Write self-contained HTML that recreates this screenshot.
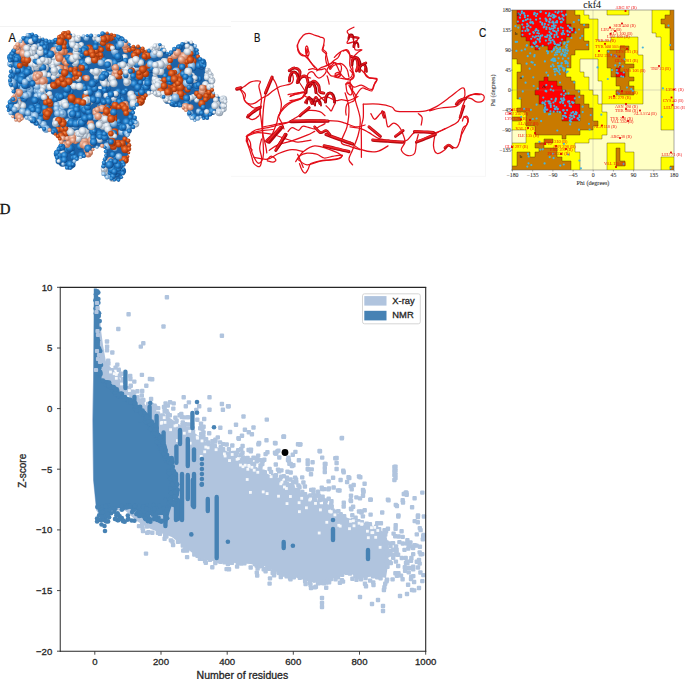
<!DOCTYPE html>
<html><head><meta charset="utf-8"><style>
html,body{margin:0;padding:0;background:#fff;}
body{width:685px;height:679px;position:relative;overflow:hidden;}
.abs{position:absolute;left:0;top:0;}
</style></head><body>
<svg class="abs" width="685" height="679" viewBox="0 0 685 679"><defs><filter id="soft" x="-5%" y="-5%" width="110%" height="110%"><feGaussianBlur stdDeviation="0.4"/></filter></defs><g filter="url(#soft)"><defs><radialGradient id="gB" cx="0.4" cy="0.38" r="0.62"><stop offset="0" stop-color="#6ab4ec"/><stop offset="0.45" stop-color="#2380cc"/><stop offset="1" stop-color="#0e4c8e"/></radialGradient><radialGradient id="gL" cx="0.4" cy="0.38" r="0.62"><stop offset="0" stop-color="#e0f0fc"/><stop offset="0.45" stop-color="#94c2ea"/><stop offset="1" stop-color="#5086b8"/></radialGradient><radialGradient id="gW" cx="0.4" cy="0.38" r="0.62"><stop offset="0" stop-color="#ffffff"/><stop offset="0.45" stop-color="#dae4ee"/><stop offset="1" stop-color="#8a98a8"/></radialGradient><radialGradient id="gP" cx="0.4" cy="0.38" r="0.62"><stop offset="0" stop-color="#fbe0d2"/><stop offset="0.45" stop-color="#e7a286"/><stop offset="1" stop-color="#b86a4c"/></radialGradient><radialGradient id="gS" cx="0.4" cy="0.38" r="0.62"><stop offset="0" stop-color="#f8c8b0"/><stop offset="0.45" stop-color="#e58a62"/><stop offset="1" stop-color="#b25a36"/></radialGradient><radialGradient id="gO" cx="0.4" cy="0.38" r="0.62"><stop offset="0" stop-color="#f59050"/><stop offset="0.45" stop-color="#d6521a"/><stop offset="1" stop-color="#9a3208"/></radialGradient><clipPath id="clipA"><polygon points="10.4,58.2 16.1,45.9 19,43 24.7,36.4 30.4,33.5 38,36.4 44.6,40.2 51.2,42.1 57,39.2 60.7,34.5 65.5,31.6 71.2,33.5 75.9,37.3 81.6,36.4 89.2,35.4 96.8,36.4 104.4,32.6 110,33.5 115.8,36.4 121.4,38.3 127.1,42.1 131.1,46.5 140.3,46.5 144.9,50.3 148,51.9 152.6,47.3 157.2,44.2 162.6,45 164.9,51.9 169.5,54.9 172.5,50.3 176.2,47.7 180.6,46 184,42.4 188.5,41.5 193.9,43.3 196.5,48.6 198.3,58.3 201.8,60 205.3,68 208.9,71.6 211.5,75 212.4,84 211.5,88.4 214.2,94.5 219.5,96.8 224.8,99.4 226,103.9 224.8,108.3 221.2,112.7 216.8,112.7 211.5,111.8 208.9,117 205.3,118.9 201.8,118 199.2,116.2 196.5,120.6 193,120.6 191.2,115.3 187.7,111 184.1,109.2 182.4,105.6 178.8,105.6 173.5,104.7 170.7,102.7 165.4,99.1 161.8,94.7 156.5,93.8 150.3,92 144.2,96.5 141.5,102.7 135.3,105.3 132.7,110.6 133.5,115 136.2,120.3 135.3,124.8 130.9,129.2 127.4,132.7 127.4,138 129.1,143.3 129,150.9 127.6,158.2 124,162.6 123.2,171.3 121,179.3 115.9,180.8 110,177.9 104.2,176.4 102.8,171.3 104.2,161 106.4,153.8 104.2,145 99.9,146.5 94,148 89.6,153.8 82.3,156.7 75,159.6 72.1,166.2 68.5,169.9 65.5,165.5 60.4,162.6 56.8,159.6 57.5,150.9 61.9,143.6 59,137 56.5,135.4 51.8,130.6 47.1,129.5 41.2,128.3 35.3,122.4 29.4,117.7 23.6,117.7 17.7,121.2 14.1,118.9 11.8,114.2 7.1,109.4 8.2,103.6 14.7,97.7 14.1,93 11.8,87 10,82.4 10.4,74.3 11.4,68.6 9.5,63"/></clipPath></defs><polygon fill="#1c64a8" points="10.4,58.2 16.1,45.9 19,43 24.7,36.4 30.4,33.5 38,36.4 44.6,40.2 51.2,42.1 57,39.2 60.7,34.5 65.5,31.6 71.2,33.5 75.9,37.3 81.6,36.4 89.2,35.4 96.8,36.4 104.4,32.6 110,33.5 115.8,36.4 121.4,38.3 127.1,42.1 131.1,46.5 140.3,46.5 144.9,50.3 148,51.9 152.6,47.3 157.2,44.2 162.6,45 164.9,51.9 169.5,54.9 172.5,50.3 176.2,47.7 180.6,46 184,42.4 188.5,41.5 193.9,43.3 196.5,48.6 198.3,58.3 201.8,60 205.3,68 208.9,71.6 211.5,75 212.4,84 211.5,88.4 214.2,94.5 219.5,96.8 224.8,99.4 226,103.9 224.8,108.3 221.2,112.7 216.8,112.7 211.5,111.8 208.9,117 205.3,118.9 201.8,118 199.2,116.2 196.5,120.6 193,120.6 191.2,115.3 187.7,111 184.1,109.2 182.4,105.6 178.8,105.6 173.5,104.7 170.7,102.7 165.4,99.1 161.8,94.7 156.5,93.8 150.3,92 144.2,96.5 141.5,102.7 135.3,105.3 132.7,110.6 133.5,115 136.2,120.3 135.3,124.8 130.9,129.2 127.4,132.7 127.4,138 129.1,143.3 129,150.9 127.6,158.2 124,162.6 123.2,171.3 121,179.3 115.9,180.8 110,177.9 104.2,176.4 102.8,171.3 104.2,161 106.4,153.8 104.2,145 99.9,146.5 94,148 89.6,153.8 82.3,156.7 75,159.6 72.1,166.2 68.5,169.9 65.5,165.5 60.4,162.6 56.8,159.6 57.5,150.9 61.9,143.6 59,137 56.5,135.4 51.8,130.6 47.1,129.5 41.2,128.3 35.3,122.4 29.4,117.7 23.6,117.7 17.7,121.2 14.1,118.9 11.8,114.2 7.1,109.4 8.2,103.6 14.7,97.7 14.1,93 11.8,87 10,82.4 10.4,74.3 11.4,68.6 9.5,63"/><g><circle cx="107.4" cy="88.7" r="3.2" fill="url(#gB)"/><circle cx="26.6" cy="64.5" r="2.4" fill="url(#gO)"/><circle cx="111.1" cy="77.5" r="3.6" fill="url(#gW)"/><circle cx="114.7" cy="106" r="3.9" fill="url(#gO)"/><circle cx="57.6" cy="107.1" r="2.4" fill="url(#gL)"/><circle cx="167.8" cy="99.9" r="3.9" fill="url(#gB)"/><circle cx="90.4" cy="101.2" r="3.3" fill="url(#gW)"/><circle cx="69.4" cy="129.6" r="2.5" fill="url(#gW)"/><circle cx="99.1" cy="133.5" r="3.2" fill="url(#gB)"/><circle cx="185.9" cy="107.6" r="3.2" fill="url(#gP)"/><circle cx="66.2" cy="97.2" r="2.7" fill="url(#gB)"/><circle cx="58.9" cy="52.3" r="3.5" fill="url(#gS)"/><circle cx="58.2" cy="129.6" r="2.9" fill="url(#gO)"/><circle cx="142.4" cy="91.4" r="2.6" fill="url(#gB)"/><circle cx="33.4" cy="43.6" r="2.8" fill="url(#gB)"/><circle cx="183.2" cy="96.3" r="3.8" fill="url(#gO)"/><circle cx="50.1" cy="104" r="3.2" fill="url(#gO)"/><circle cx="112.8" cy="94.6" r="3.8" fill="url(#gB)"/><circle cx="163.9" cy="63.9" r="2.9" fill="url(#gW)"/><circle cx="67.2" cy="49.8" r="2.6" fill="url(#gB)"/><circle cx="103.4" cy="84.4" r="3.3" fill="url(#gB)"/><circle cx="61.1" cy="161.5" r="3.1" fill="url(#gB)"/><circle cx="108" cy="96.4" r="3.1" fill="url(#gB)"/><circle cx="112.9" cy="163.6" r="2.6" fill="url(#gB)"/><circle cx="101.4" cy="55.5" r="3.1" fill="url(#gB)"/><circle cx="140.2" cy="102.4" r="3.4" fill="url(#gO)"/><circle cx="173.4" cy="85.8" r="3.5" fill="url(#gO)"/><circle cx="104.8" cy="171.6" r="3.7" fill="url(#gW)"/><circle cx="70.2" cy="56.6" r="4" fill="url(#gS)"/><circle cx="122.7" cy="42.5" r="2.5" fill="url(#gL)"/><circle cx="20.5" cy="103.9" r="3.7" fill="url(#gB)"/><circle cx="119.2" cy="123.9" r="2.4" fill="url(#gB)"/><circle cx="80.4" cy="56.3" r="3.5" fill="url(#gB)"/><circle cx="43.5" cy="79.7" r="3.9" fill="url(#gP)"/><circle cx="59" cy="113" r="3.5" fill="url(#gL)"/><circle cx="42.7" cy="48.4" r="2.7" fill="url(#gB)"/><circle cx="75.4" cy="68.6" r="2.5" fill="url(#gO)"/><circle cx="47.4" cy="96" r="2.7" fill="url(#gW)"/><circle cx="31.8" cy="108.3" r="3.8" fill="url(#gB)"/><circle cx="128.3" cy="120.8" r="2.6" fill="url(#gB)"/><circle cx="33.3" cy="57.5" r="3.6" fill="url(#gW)"/><circle cx="159.3" cy="47.5" r="3.2" fill="url(#gW)"/><circle cx="45.2" cy="113.2" r="3.1" fill="url(#gO)"/><circle cx="13.9" cy="71.7" r="3.1" fill="url(#gB)"/><circle cx="72.5" cy="152.7" r="2.8" fill="url(#gB)"/><circle cx="42.4" cy="91.3" r="3.9" fill="url(#gW)"/><circle cx="68" cy="121.4" r="3.2" fill="url(#gL)"/><circle cx="167.1" cy="96.5" r="3.3" fill="url(#gW)"/><circle cx="33.6" cy="49.3" r="3.8" fill="url(#gW)"/><circle cx="26.5" cy="81.9" r="3.5" fill="url(#gB)"/><circle cx="60.6" cy="110.1" r="3.2" fill="url(#gL)"/><circle cx="120.2" cy="63" r="2.8" fill="url(#gB)"/><circle cx="43.6" cy="76.6" r="2.8" fill="url(#gP)"/><circle cx="75" cy="63.8" r="3" fill="url(#gW)"/><circle cx="60.9" cy="119.7" r="3" fill="url(#gO)"/><circle cx="64.8" cy="35" r="3.9" fill="url(#gO)"/><circle cx="94.9" cy="110.5" r="2.5" fill="url(#gP)"/><circle cx="114.1" cy="107.4" r="3.4" fill="url(#gO)"/><circle cx="75.5" cy="133.7" r="3" fill="url(#gW)"/><circle cx="110" cy="72" r="3" fill="url(#gL)"/><circle cx="104.8" cy="38.4" r="3.8" fill="url(#gO)"/><circle cx="209.4" cy="112.9" r="2.9" fill="url(#gB)"/><circle cx="154.8" cy="81.9" r="2.8" fill="url(#gW)"/><circle cx="78" cy="55.7" r="3.7" fill="url(#gW)"/><circle cx="71.4" cy="121.9" r="3.6" fill="url(#gB)"/><circle cx="45.9" cy="43.3" r="2.6" fill="url(#gB)"/><circle cx="124.8" cy="159.7" r="4" fill="url(#gO)"/><circle cx="83.4" cy="85.7" r="2.6" fill="url(#gB)"/><circle cx="36.5" cy="67.7" r="3" fill="url(#gW)"/><circle cx="18.5" cy="116.1" r="3.7" fill="url(#gP)"/><circle cx="201.8" cy="103.4" r="3.6" fill="url(#gO)"/><circle cx="57.5" cy="153.9" r="3.7" fill="url(#gB)"/><circle cx="109.8" cy="68.4" r="3.3" fill="url(#gB)"/><circle cx="82.5" cy="104.9" r="3.3" fill="url(#gB)"/><circle cx="216.6" cy="104.3" r="3.7" fill="url(#gW)"/><circle cx="47.6" cy="95.6" r="2.8" fill="url(#gW)"/><circle cx="148.5" cy="84.5" r="2.6" fill="url(#gB)"/><circle cx="72.1" cy="43.2" r="3.4" fill="url(#gW)"/><circle cx="100.6" cy="90.1" r="4" fill="url(#gW)"/><circle cx="116.9" cy="174.2" r="2.7" fill="url(#gB)"/><circle cx="45.4" cy="52.3" r="3.2" fill="url(#gB)"/><circle cx="132.4" cy="122.8" r="3.3" fill="url(#gB)"/><circle cx="35.8" cy="90.8" r="2.4" fill="url(#gL)"/><circle cx="147.3" cy="89.9" r="3.8" fill="url(#gB)"/><circle cx="72.4" cy="39.7" r="3.5" fill="url(#gW)"/><circle cx="93.3" cy="72.1" r="2.6" fill="url(#gW)"/><circle cx="90.7" cy="143" r="3.5" fill="url(#gP)"/><circle cx="93.5" cy="131.9" r="3.9" fill="url(#gB)"/><circle cx="68" cy="98.7" r="2.5" fill="url(#gB)"/><circle cx="15.1" cy="69.3" r="3.1" fill="url(#gL)"/><circle cx="45.2" cy="67.7" r="3.7" fill="url(#gW)"/><circle cx="83.9" cy="105.3" r="3.3" fill="url(#gB)"/><circle cx="46.8" cy="98.1" r="3.8" fill="url(#gO)"/><circle cx="110.2" cy="38.2" r="3.2" fill="url(#gO)"/><circle cx="81" cy="116.1" r="3.9" fill="url(#gB)"/><circle cx="155" cy="82.3" r="3.6" fill="url(#gW)"/><circle cx="115.2" cy="102.5" r="3.7" fill="url(#gB)"/><circle cx="197.3" cy="88.4" r="3.4" fill="url(#gB)"/><circle cx="102.9" cy="72.2" r="3.3" fill="url(#gW)"/><circle cx="175.6" cy="81.8" r="2.6" fill="url(#gO)"/><circle cx="145" cy="57.8" r="2.9" fill="url(#gO)"/><circle cx="21.9" cy="70.5" r="3.8" fill="url(#gB)"/><circle cx="100.9" cy="107.1" r="3.7" fill="url(#gP)"/><circle cx="105" cy="117.1" r="3.9" fill="url(#gO)"/><circle cx="62.3" cy="163.3" r="3.4" fill="url(#gB)"/><circle cx="50.5" cy="96.9" r="2.7" fill="url(#gL)"/><circle cx="164" cy="92.9" r="3.8" fill="url(#gO)"/><circle cx="216.5" cy="108.9" r="3.2" fill="url(#gW)"/><circle cx="106" cy="89" r="2.7" fill="url(#gB)"/><circle cx="155" cy="53.7" r="3" fill="url(#gW)"/><circle cx="179.6" cy="47.5" r="3.1" fill="url(#gB)"/><circle cx="69.3" cy="142.6" r="2.8" fill="url(#gP)"/><circle cx="47" cy="56.8" r="2.6" fill="url(#gB)"/><circle cx="202.6" cy="94.2" r="2.6" fill="url(#gO)"/><circle cx="117.3" cy="166" r="3.6" fill="url(#gB)"/><circle cx="118.1" cy="39.9" r="3.3" fill="url(#gB)"/><circle cx="121.1" cy="99.3" r="2.9" fill="url(#gL)"/><circle cx="171.1" cy="86" r="3.6" fill="url(#gO)"/><circle cx="124.8" cy="138.9" r="2.5" fill="url(#gO)"/><circle cx="58.5" cy="122.2" r="3.1" fill="url(#gO)"/><circle cx="196.7" cy="100.2" r="2.5" fill="url(#gW)"/><circle cx="118.3" cy="97.9" r="2.9" fill="url(#gB)"/><circle cx="110.8" cy="142.3" r="3.7" fill="url(#gB)"/><circle cx="114.7" cy="132.2" r="4" fill="url(#gO)"/><circle cx="45.2" cy="85.4" r="2.8" fill="url(#gW)"/><circle cx="42.9" cy="67.5" r="3.5" fill="url(#gB)"/><circle cx="33.7" cy="77.2" r="3.3" fill="url(#gB)"/><circle cx="173.2" cy="85.7" r="4" fill="url(#gO)"/><circle cx="123.9" cy="147.1" r="3.1" fill="url(#gO)"/><circle cx="107.2" cy="84.1" r="2.9" fill="url(#gW)"/><circle cx="135.1" cy="65.6" r="2.4" fill="url(#gW)"/><circle cx="83.7" cy="107.6" r="4" fill="url(#gB)"/><circle cx="106.4" cy="104.4" r="3.6" fill="url(#gB)"/><circle cx="109.7" cy="175.1" r="2.7" fill="url(#gL)"/><circle cx="68.3" cy="129.4" r="3.9" fill="url(#gW)"/><circle cx="146.3" cy="54.3" r="4" fill="url(#gO)"/><circle cx="193.4" cy="68" r="2.9" fill="url(#gB)"/><circle cx="82.1" cy="62.8" r="3.5" fill="url(#gB)"/><circle cx="147.7" cy="55" r="4" fill="url(#gO)"/><circle cx="65.1" cy="69" r="3.5" fill="url(#gS)"/><circle cx="54.1" cy="63.1" r="3.7" fill="url(#gW)"/><circle cx="165" cy="75.8" r="2.6" fill="url(#gB)"/><circle cx="152.3" cy="51.2" r="3.1" fill="url(#gW)"/><circle cx="140.2" cy="73.1" r="3" fill="url(#gO)"/><circle cx="85.9" cy="144.6" r="3.1" fill="url(#gP)"/><circle cx="124.9" cy="70.1" r="3.6" fill="url(#gW)"/><circle cx="124.3" cy="103" r="2.6" fill="url(#gP)"/><circle cx="90.4" cy="123.7" r="3.6" fill="url(#gP)"/><circle cx="89.1" cy="89.1" r="3.8" fill="url(#gB)"/><circle cx="145.3" cy="83" r="2.8" fill="url(#gL)"/><circle cx="56.1" cy="48.9" r="2.9" fill="url(#gB)"/><circle cx="37.7" cy="90.2" r="2.9" fill="url(#gL)"/><circle cx="48.8" cy="74.9" r="2.6" fill="url(#gW)"/><circle cx="74.3" cy="101.1" r="3.9" fill="url(#gO)"/><circle cx="103.6" cy="80.9" r="3.9" fill="url(#gW)"/><circle cx="107.5" cy="133.1" r="3.6" fill="url(#gB)"/><circle cx="115.1" cy="156.7" r="2.6" fill="url(#gB)"/><circle cx="61.6" cy="150.5" r="3" fill="url(#gB)"/><circle cx="118.6" cy="121.1" r="2.7" fill="url(#gB)"/><circle cx="147.5" cy="78.8" r="2.7" fill="url(#gB)"/><circle cx="78.9" cy="55.4" r="3.1" fill="url(#gW)"/><circle cx="198.6" cy="111.2" r="2.6" fill="url(#gL)"/><circle cx="112.4" cy="178.4" r="3.2" fill="url(#gW)"/><circle cx="125.2" cy="149.4" r="3.8" fill="url(#gO)"/><circle cx="212.3" cy="95.5" r="3.1" fill="url(#gO)"/><circle cx="114.3" cy="115.4" r="2.9" fill="url(#gO)"/><circle cx="143.4" cy="75.9" r="2.5" fill="url(#gO)"/><circle cx="122.7" cy="160.1" r="3.7" fill="url(#gO)"/><circle cx="21.7" cy="100.3" r="3.4" fill="url(#gW)"/><circle cx="110.4" cy="172.7" r="2.6" fill="url(#gB)"/><circle cx="130.2" cy="121.6" r="2.7" fill="url(#gB)"/><circle cx="181.9" cy="85.7" r="3.3" fill="url(#gO)"/><circle cx="76.6" cy="139.1" r="4" fill="url(#gP)"/><circle cx="198.2" cy="65.1" r="3" fill="url(#gB)"/><circle cx="92.1" cy="55.7" r="2.4" fill="url(#gO)"/><circle cx="109.7" cy="142.6" r="2.6" fill="url(#gB)"/><circle cx="164.4" cy="61.1" r="3.2" fill="url(#gW)"/><circle cx="73.1" cy="102.6" r="3.9" fill="url(#gO)"/><circle cx="35.6" cy="41.4" r="2.7" fill="url(#gB)"/><circle cx="29.4" cy="36" r="3" fill="url(#gB)"/><circle cx="109.7" cy="97.5" r="2.5" fill="url(#gL)"/><circle cx="10.8" cy="57.3" r="3.7" fill="url(#gB)"/><circle cx="97" cy="97.3" r="2.7" fill="url(#gB)"/><circle cx="62.7" cy="73" r="2.7" fill="url(#gO)"/><circle cx="223.7" cy="109" r="3" fill="url(#gW)"/><circle cx="121.4" cy="74" r="2.5" fill="url(#gO)"/><circle cx="123.6" cy="64.3" r="2.9" fill="url(#gW)"/><circle cx="193.3" cy="96.8" r="2.8" fill="url(#gW)"/><circle cx="110.5" cy="161.1" r="3.7" fill="url(#gL)"/><circle cx="75.8" cy="47.7" r="3.3" fill="url(#gW)"/><circle cx="111.6" cy="111.8" r="3.6" fill="url(#gB)"/><circle cx="116.5" cy="164.9" r="2.9" fill="url(#gL)"/><circle cx="13.6" cy="75.6" r="2.5" fill="url(#gB)"/><circle cx="47.8" cy="89.1" r="3.3" fill="url(#gB)"/><circle cx="171.9" cy="82.7" r="2.6" fill="url(#gO)"/><circle cx="126.5" cy="122" r="3.9" fill="url(#gB)"/><circle cx="94" cy="131.1" r="2.5" fill="url(#gB)"/><circle cx="26" cy="59.9" r="2.8" fill="url(#gO)"/><circle cx="12.8" cy="54.7" r="3.7" fill="url(#gB)"/><circle cx="109.4" cy="138.2" r="3.5" fill="url(#gL)"/><circle cx="48.3" cy="80.4" r="3.4" fill="url(#gB)"/><circle cx="60.4" cy="68.4" r="3.9" fill="url(#gS)"/><circle cx="22.6" cy="111.7" r="2.8" fill="url(#gB)"/><circle cx="72" cy="132.4" r="2.9" fill="url(#gW)"/><circle cx="173.6" cy="76.5" r="3.3" fill="url(#gO)"/><circle cx="45.5" cy="98.1" r="3.6" fill="url(#gO)"/><circle cx="157.9" cy="71.5" r="3.3" fill="url(#gW)"/><circle cx="109.4" cy="47.7" r="3.6" fill="url(#gO)"/><circle cx="36.3" cy="103.4" r="3.5" fill="url(#gB)"/><circle cx="40.7" cy="119" r="3.7" fill="url(#gB)"/><circle cx="71.9" cy="99.9" r="3.3" fill="url(#gO)"/><circle cx="199.2" cy="78.7" r="2.8" fill="url(#gB)"/><circle cx="127.4" cy="80.1" r="3.8" fill="url(#gW)"/><circle cx="36.9" cy="79.2" r="2.9" fill="url(#gP)"/><circle cx="73.4" cy="136.4" r="2.8" fill="url(#gP)"/><circle cx="55.1" cy="48.4" r="2.5" fill="url(#gW)"/><circle cx="118.2" cy="143.3" r="3.6" fill="url(#gO)"/><circle cx="186.4" cy="104.9" r="3.1" fill="url(#gP)"/><circle cx="115.5" cy="54.7" r="3.7" fill="url(#gB)"/><circle cx="179.5" cy="86.2" r="3.3" fill="url(#gO)"/><circle cx="150.7" cy="63" r="3.6" fill="url(#gB)"/><circle cx="44.8" cy="108.1" r="3.6" fill="url(#gB)"/><circle cx="13.9" cy="100.5" r="3.6" fill="url(#gB)"/><circle cx="70" cy="123.8" r="3.6" fill="url(#gB)"/><circle cx="23.7" cy="47.9" r="3.3" fill="url(#gP)"/><circle cx="103.4" cy="125.9" r="3.9" fill="url(#gW)"/><circle cx="173.7" cy="75.4" r="3.6" fill="url(#gO)"/><circle cx="84.5" cy="142.4" r="3.1" fill="url(#gP)"/><circle cx="114.4" cy="143.9" r="2.4" fill="url(#gO)"/><circle cx="86.8" cy="136.4" r="4" fill="url(#gW)"/><circle cx="72.2" cy="148.7" r="2.6" fill="url(#gB)"/><circle cx="143.9" cy="87.7" r="2.6" fill="url(#gB)"/><circle cx="188" cy="99.6" r="3.1" fill="url(#gW)"/><circle cx="111.8" cy="113.5" r="3.2" fill="url(#gO)"/><circle cx="156.2" cy="70.4" r="3.2" fill="url(#gW)"/><circle cx="119.2" cy="64.5" r="3.7" fill="url(#gB)"/><circle cx="87.4" cy="53.6" r="2.4" fill="url(#gO)"/><circle cx="118.8" cy="75.4" r="4" fill="url(#gO)"/><circle cx="62.9" cy="82.3" r="3.1" fill="url(#gO)"/><circle cx="113.9" cy="133.1" r="3.2" fill="url(#gB)"/><circle cx="108.2" cy="129.8" r="2.8" fill="url(#gW)"/><circle cx="29.8" cy="89.7" r="3.4" fill="url(#gL)"/><circle cx="133" cy="80.9" r="2.7" fill="url(#gB)"/><circle cx="60.4" cy="74.9" r="2.5" fill="url(#gS)"/><circle cx="57.1" cy="84.1" r="3.5" fill="url(#gO)"/><circle cx="39.7" cy="78.5" r="3.6" fill="url(#gB)"/><circle cx="63.5" cy="103.2" r="3.2" fill="url(#gW)"/><circle cx="95.1" cy="38.1" r="2.9" fill="url(#gW)"/><circle cx="103.7" cy="93.5" r="2.7" fill="url(#gB)"/><circle cx="84.9" cy="77.8" r="2.9" fill="url(#gO)"/><circle cx="70.7" cy="106" r="3.5" fill="url(#gB)"/><circle cx="99.6" cy="47.1" r="2.8" fill="url(#gB)"/><circle cx="96.5" cy="80.7" r="2.6" fill="url(#gB)"/><circle cx="58.6" cy="103.5" r="2.5" fill="url(#gL)"/><circle cx="25.1" cy="74.2" r="3.1" fill="url(#gB)"/><circle cx="28.7" cy="79" r="2.8" fill="url(#gL)"/><circle cx="74.9" cy="125.6" r="3.6" fill="url(#gL)"/><circle cx="126" cy="49.8" r="3.1" fill="url(#gP)"/><circle cx="104.1" cy="91.3" r="3.6" fill="url(#gB)"/><circle cx="36.2" cy="104.7" r="2.7" fill="url(#gB)"/><circle cx="136.8" cy="56.7" r="2.4" fill="url(#gO)"/><circle cx="127.9" cy="69.5" r="3.6" fill="url(#gW)"/><circle cx="13.7" cy="51.4" r="2.7" fill="url(#gB)"/><circle cx="223.4" cy="105.6" r="3.4" fill="url(#gW)"/><circle cx="36.5" cy="96" r="2.9" fill="url(#gL)"/><circle cx="44" cy="81.3" r="3.8" fill="url(#gP)"/><circle cx="150" cy="69.2" r="3.9" fill="url(#gB)"/><circle cx="61.2" cy="120.3" r="3.6" fill="url(#gO)"/><circle cx="72.5" cy="85.5" r="2.7" fill="url(#gW)"/><circle cx="107.2" cy="126.7" r="2.7" fill="url(#gW)"/><circle cx="181.3" cy="55.4" r="3.2" fill="url(#gP)"/><circle cx="131.4" cy="111.2" r="2.7" fill="url(#gB)"/><circle cx="164.2" cy="92" r="3.3" fill="url(#gO)"/><circle cx="21.6" cy="82.3" r="2.6" fill="url(#gB)"/><circle cx="99.3" cy="72" r="3.2" fill="url(#gW)"/><circle cx="114.5" cy="65.6" r="2.8" fill="url(#gB)"/><circle cx="43.8" cy="74" r="3.7" fill="url(#gW)"/><circle cx="79.6" cy="52.5" r="3.1" fill="url(#gB)"/><circle cx="179.5" cy="92" r="2.8" fill="url(#gP)"/><circle cx="85.2" cy="143.7" r="2.8" fill="url(#gP)"/><circle cx="122.3" cy="143.3" r="3.3" fill="url(#gO)"/><circle cx="160.1" cy="66.9" r="2.6" fill="url(#gW)"/><circle cx="65" cy="60.9" r="3.7" fill="url(#gS)"/><circle cx="56.7" cy="105" r="3.2" fill="url(#gL)"/><circle cx="32.2" cy="76.3" r="3.7" fill="url(#gL)"/><circle cx="112.6" cy="167.6" r="3" fill="url(#gB)"/><circle cx="124.5" cy="159.7" r="3.8" fill="url(#gO)"/><circle cx="24.4" cy="59.5" r="3.1" fill="url(#gO)"/><circle cx="131.3" cy="98.1" r="3.9" fill="url(#gL)"/><circle cx="136.4" cy="52.1" r="3.5" fill="url(#gO)"/><circle cx="40.6" cy="44.7" r="4" fill="url(#gL)"/><circle cx="40.2" cy="62.5" r="3.1" fill="url(#gW)"/><circle cx="13.4" cy="101.1" r="3.9" fill="url(#gB)"/><circle cx="38.3" cy="107.2" r="3.2" fill="url(#gB)"/><circle cx="55.5" cy="99.6" r="2.5" fill="url(#gB)"/><circle cx="193.6" cy="60.9" r="2.9" fill="url(#gO)"/><circle cx="83.2" cy="54.3" r="3.7" fill="url(#gB)"/><circle cx="93.4" cy="54.2" r="2.5" fill="url(#gO)"/><circle cx="144.7" cy="68.3" r="2.8" fill="url(#gO)"/><circle cx="112.8" cy="163.8" r="2.9" fill="url(#gW)"/><circle cx="94.8" cy="81.7" r="2.5" fill="url(#gB)"/><circle cx="187.2" cy="65.9" r="2.9" fill="url(#gO)"/><circle cx="31.2" cy="65" r="2.7" fill="url(#gW)"/><circle cx="85.4" cy="63.1" r="2.5" fill="url(#gB)"/><circle cx="30.5" cy="42.7" r="3.5" fill="url(#gW)"/><circle cx="22.1" cy="44.3" r="3.8" fill="url(#gP)"/><circle cx="178.4" cy="69.6" r="2.7" fill="url(#gO)"/><circle cx="37.5" cy="83.8" r="3.6" fill="url(#gP)"/><circle cx="54.9" cy="60.7" r="2.6" fill="url(#gW)"/><circle cx="114.8" cy="148.6" r="2.6" fill="url(#gL)"/><circle cx="43.4" cy="124.3" r="3.4" fill="url(#gL)"/><circle cx="12.5" cy="58.1" r="3.4" fill="url(#gB)"/><circle cx="118.4" cy="67.6" r="3.4" fill="url(#gB)"/><circle cx="62.4" cy="161.8" r="3.6" fill="url(#gB)"/><circle cx="25.2" cy="63" r="3.3" fill="url(#gO)"/><circle cx="123.7" cy="72.4" r="3.9" fill="url(#gW)"/><circle cx="63.7" cy="76.2" r="2.4" fill="url(#gO)"/><circle cx="121.7" cy="132.1" r="3.5" fill="url(#gL)"/><circle cx="81.9" cy="67.5" r="3.6" fill="url(#gO)"/><circle cx="40.6" cy="92.2" r="3.7" fill="url(#gL)"/><circle cx="72.1" cy="107.9" r="3.9" fill="url(#gB)"/><circle cx="55.8" cy="46.5" r="3.2" fill="url(#gB)"/><circle cx="212.1" cy="111.1" r="4" fill="url(#gB)"/><circle cx="163.1" cy="51" r="3.2" fill="url(#gB)"/><circle cx="32.5" cy="52.9" r="3.3" fill="url(#gW)"/><circle cx="18.7" cy="83.1" r="3.8" fill="url(#gB)"/><circle cx="135.2" cy="100.7" r="2.8" fill="url(#gW)"/><circle cx="22.2" cy="82.5" r="3" fill="url(#gB)"/><circle cx="130.3" cy="117.2" r="2.4" fill="url(#gB)"/><circle cx="166.9" cy="63.8" r="3.8" fill="url(#gW)"/><circle cx="105.2" cy="120.6" r="4" fill="url(#gW)"/><circle cx="158" cy="64" r="3" fill="url(#gW)"/><circle cx="62.2" cy="129.8" r="2.8" fill="url(#gO)"/><circle cx="186.9" cy="102.9" r="3.2" fill="url(#gB)"/><circle cx="125.6" cy="46" r="4" fill="url(#gP)"/><circle cx="57.6" cy="43.3" r="3" fill="url(#gW)"/><circle cx="107.4" cy="97" r="3.7" fill="url(#gB)"/><circle cx="17.6" cy="61.4" r="2.9" fill="url(#gB)"/><circle cx="207.2" cy="75" r="3" fill="url(#gW)"/><circle cx="142.3" cy="50.5" r="2.4" fill="url(#gO)"/><circle cx="122.5" cy="170.9" r="3.6" fill="url(#gB)"/><circle cx="181.5" cy="66.7" r="3.7" fill="url(#gO)"/><circle cx="61.8" cy="75.4" r="3.4" fill="url(#gO)"/><circle cx="215.8" cy="99.8" r="2.8" fill="url(#gW)"/><circle cx="84.6" cy="141.6" r="3.9" fill="url(#gP)"/><circle cx="18.5" cy="98.9" r="3.9" fill="url(#gP)"/><circle cx="174.6" cy="101.4" r="3.9" fill="url(#gB)"/><circle cx="67.9" cy="57.5" r="3.1" fill="url(#gB)"/><circle cx="57.7" cy="95.6" r="3" fill="url(#gB)"/><circle cx="45.3" cy="47.8" r="3.9" fill="url(#gB)"/><circle cx="90.1" cy="152.9" r="2.7" fill="url(#gP)"/><circle cx="156.9" cy="86.5" r="3.4" fill="url(#gW)"/><circle cx="96.6" cy="52.3" r="3.3" fill="url(#gO)"/><circle cx="78" cy="133.5" r="3.8" fill="url(#gW)"/><circle cx="99.8" cy="134.8" r="3.6" fill="url(#gB)"/><circle cx="164.1" cy="61.5" r="3.4" fill="url(#gW)"/><circle cx="56.3" cy="120.6" r="3.7" fill="url(#gW)"/><circle cx="130.7" cy="77.6" r="3.7" fill="url(#gB)"/><circle cx="36.3" cy="78.9" r="2.7" fill="url(#gP)"/><circle cx="122.4" cy="71.3" r="2.5" fill="url(#gO)"/><circle cx="42.1" cy="97.4" r="3.4" fill="url(#gB)"/><circle cx="160.8" cy="66.1" r="2.6" fill="url(#gW)"/><circle cx="155.9" cy="48.3" r="3.6" fill="url(#gW)"/><circle cx="190.1" cy="113.6" r="3.2" fill="url(#gL)"/><circle cx="128.7" cy="130.4" r="3.1" fill="url(#gB)"/><circle cx="49.1" cy="111.2" r="3.7" fill="url(#gO)"/><circle cx="179.5" cy="74.4" r="3.4" fill="url(#gO)"/><circle cx="126.2" cy="90.3" r="2.4" fill="url(#gB)"/><circle cx="41.2" cy="113.1" r="3.3" fill="url(#gB)"/><circle cx="95.7" cy="118.2" r="2.8" fill="url(#gB)"/><circle cx="70.8" cy="91.8" r="2.6" fill="url(#gB)"/><circle cx="29.6" cy="41.2" r="2.7" fill="url(#gB)"/><circle cx="165.1" cy="62.3" r="4" fill="url(#gW)"/><circle cx="56.4" cy="108.6" r="3" fill="url(#gL)"/><circle cx="36.5" cy="61.8" r="3.5" fill="url(#gW)"/><circle cx="57.2" cy="73.5" r="3.8" fill="url(#gW)"/><circle cx="201.3" cy="66.6" r="3.2" fill="url(#gB)"/><circle cx="30.1" cy="118.2" r="2.8" fill="url(#gL)"/><circle cx="114.4" cy="37.2" r="2.7" fill="url(#gO)"/><circle cx="55.3" cy="85.4" r="3.4" fill="url(#gO)"/><circle cx="110.9" cy="165.7" r="3.9" fill="url(#gB)"/><circle cx="89.1" cy="48.6" r="4" fill="url(#gO)"/><circle cx="155" cy="78.9" r="3.3" fill="url(#gW)"/><circle cx="84.8" cy="121" r="2.7" fill="url(#gB)"/><circle cx="58.1" cy="68.9" r="3" fill="url(#gW)"/><circle cx="106.9" cy="125.7" r="3.4" fill="url(#gW)"/><circle cx="54" cy="57.3" r="2.6" fill="url(#gW)"/><circle cx="110.6" cy="165.3" r="3.5" fill="url(#gB)"/><circle cx="62.6" cy="128.9" r="3.3" fill="url(#gO)"/><circle cx="54.3" cy="131.3" r="3.5" fill="url(#gB)"/><circle cx="74.2" cy="136.3" r="3.7" fill="url(#gP)"/><circle cx="31.4" cy="41.2" r="3.5" fill="url(#gB)"/><circle cx="18.1" cy="90.9" r="2.5" fill="url(#gP)"/><circle cx="107.8" cy="105.5" r="3.9" fill="url(#gO)"/><circle cx="116.7" cy="37.3" r="3" fill="url(#gB)"/><circle cx="28" cy="110.7" r="2.7" fill="url(#gB)"/><circle cx="34.4" cy="120.2" r="2.8" fill="url(#gL)"/><circle cx="163" cy="95" r="3.8" fill="url(#gW)"/><circle cx="100.8" cy="100.7" r="2.8" fill="url(#gB)"/><circle cx="100.3" cy="57" r="3.3" fill="url(#gO)"/><circle cx="18.2" cy="95.1" r="3.7" fill="url(#gP)"/><circle cx="38.7" cy="121.8" r="2.9" fill="url(#gL)"/><circle cx="11.7" cy="101.8" r="3.1" fill="url(#gB)"/><circle cx="81.2" cy="44.9" r="2.8" fill="url(#gW)"/><circle cx="36" cy="63.1" r="3" fill="url(#gW)"/><circle cx="186.5" cy="59.4" r="2.8" fill="url(#gO)"/><circle cx="25.4" cy="61.5" r="3.9" fill="url(#gO)"/><circle cx="73" cy="123.8" r="3.3" fill="url(#gB)"/><circle cx="196.8" cy="93.5" r="2.7" fill="url(#gO)"/><circle cx="151.4" cy="68" r="3.2" fill="url(#gB)"/><circle cx="185.4" cy="77.1" r="3.2" fill="url(#gB)"/><circle cx="136.8" cy="79.7" r="3" fill="url(#gB)"/><circle cx="148.2" cy="65.8" r="2.8" fill="url(#gO)"/><circle cx="25.3" cy="48.2" r="3.8" fill="url(#gP)"/><circle cx="187.4" cy="73.8" r="3.3" fill="url(#gB)"/><circle cx="219.4" cy="112.3" r="3.9" fill="url(#gW)"/><circle cx="111.5" cy="61.5" r="2.6" fill="url(#gB)"/><circle cx="18" cy="70.4" r="3" fill="url(#gB)"/><circle cx="207.7" cy="70.7" r="2.9" fill="url(#gW)"/><circle cx="126.1" cy="76.4" r="3.9" fill="url(#gW)"/><circle cx="31.7" cy="63.7" r="3.5" fill="url(#gW)"/><circle cx="156.1" cy="52" r="2.4" fill="url(#gW)"/><circle cx="38.4" cy="64.3" r="3.4" fill="url(#gW)"/><circle cx="53.7" cy="77.2" r="2.8" fill="url(#gW)"/><circle cx="176.1" cy="71.4" r="3.8" fill="url(#gL)"/><circle cx="191.4" cy="64.3" r="3.4" fill="url(#gL)"/><circle cx="13" cy="78.2" r="3" fill="url(#gB)"/><circle cx="36" cy="122.9" r="2.6" fill="url(#gB)"/><circle cx="34" cy="112.8" r="3.4" fill="url(#gL)"/><circle cx="51.8" cy="64.6" r="3.3" fill="url(#gW)"/><circle cx="155.9" cy="89" r="2.8" fill="url(#gW)"/><circle cx="169.1" cy="90.6" r="2.6" fill="url(#gO)"/><circle cx="62.4" cy="107.1" r="2.9" fill="url(#gL)"/><circle cx="174.7" cy="72.2" r="2.5" fill="url(#gO)"/><circle cx="183.6" cy="60.6" r="3.9" fill="url(#gP)"/><circle cx="185.8" cy="80.3" r="3" fill="url(#gB)"/><circle cx="171.7" cy="73.4" r="3.7" fill="url(#gO)"/><circle cx="65.6" cy="144.5" r="3.3" fill="url(#gP)"/><circle cx="177.7" cy="92.8" r="2.5" fill="url(#gP)"/><circle cx="192.2" cy="116.6" r="3.1" fill="url(#gL)"/><circle cx="201.7" cy="92.2" r="3.1" fill="url(#gP)"/><circle cx="65.2" cy="80.9" r="4" fill="url(#gO)"/><circle cx="21.4" cy="57.8" r="3.6" fill="url(#gO)"/><circle cx="155.5" cy="82" r="2.9" fill="url(#gW)"/><circle cx="126.8" cy="108.9" r="2.4" fill="url(#gP)"/><circle cx="124.7" cy="71.4" r="3" fill="url(#gL)"/><circle cx="78" cy="47.6" r="3.5" fill="url(#gW)"/><circle cx="190.7" cy="84.6" r="3.6" fill="url(#gB)"/><circle cx="177.6" cy="77.8" r="3.5" fill="url(#gO)"/><circle cx="114.7" cy="74.3" r="3.2" fill="url(#gP)"/><circle cx="72.3" cy="76.7" r="3.4" fill="url(#gO)"/><circle cx="81.9" cy="55" r="2.6" fill="url(#gB)"/><circle cx="84.8" cy="109.9" r="3.6" fill="url(#gB)"/><circle cx="62.3" cy="113.7" r="4" fill="url(#gL)"/><circle cx="39.7" cy="95.1" r="2.6" fill="url(#gL)"/><circle cx="97.4" cy="73.2" r="3.7" fill="url(#gW)"/><circle cx="167" cy="92.4" r="2.9" fill="url(#gO)"/><circle cx="153" cy="50" r="2.7" fill="url(#gW)"/><circle cx="114.7" cy="51.3" r="3.7" fill="url(#gL)"/><circle cx="178.5" cy="88.7" r="3.4" fill="url(#gO)"/><circle cx="74.1" cy="60.2" r="3.6" fill="url(#gW)"/><circle cx="133.3" cy="77.6" r="3.5" fill="url(#gB)"/><circle cx="115.2" cy="67.6" r="3.8" fill="url(#gP)"/><circle cx="13.2" cy="103.8" r="2.9" fill="url(#gW)"/><circle cx="131" cy="94.2" r="3.7" fill="url(#gW)"/><circle cx="89.4" cy="48.6" r="3.6" fill="url(#gO)"/><circle cx="193.2" cy="64.6" r="2.7" fill="url(#gO)"/><circle cx="134.2" cy="83.8" r="3.8" fill="url(#gB)"/><circle cx="99.1" cy="93.5" r="4" fill="url(#gB)"/><circle cx="68" cy="149.5" r="3.9" fill="url(#gB)"/><circle cx="113.4" cy="146.4" r="3.5" fill="url(#gO)"/><circle cx="36.4" cy="66.6" r="3" fill="url(#gW)"/><circle cx="27.7" cy="87" r="3.5" fill="url(#gL)"/><circle cx="192" cy="75.6" r="3.1" fill="url(#gW)"/><circle cx="111.5" cy="102.9" r="3" fill="url(#gB)"/><circle cx="78.4" cy="101.6" r="3.9" fill="url(#gO)"/><circle cx="161.2" cy="66" r="3.4" fill="url(#gW)"/><circle cx="88.4" cy="60.7" r="3.6" fill="url(#gW)"/><circle cx="118.4" cy="91.6" r="3.3" fill="url(#gB)"/><circle cx="113.7" cy="161.6" r="3.4" fill="url(#gB)"/><circle cx="88.7" cy="111.9" r="3.3" fill="url(#gB)"/><circle cx="87.6" cy="107" r="3.6" fill="url(#gB)"/><circle cx="65" cy="125.5" r="3.4" fill="url(#gB)"/><circle cx="122.1" cy="100" r="3.3" fill="url(#gB)"/><circle cx="202.4" cy="62.4" r="3.8" fill="url(#gB)"/><circle cx="46.1" cy="129" r="3.8" fill="url(#gL)"/><circle cx="18.2" cy="51" r="3" fill="url(#gP)"/><circle cx="128.8" cy="81.9" r="2.6" fill="url(#gW)"/><circle cx="157.9" cy="93.5" r="3.8" fill="url(#gW)"/><circle cx="23" cy="105.8" r="3.2" fill="url(#gW)"/><circle cx="104.4" cy="169.3" r="3.5" fill="url(#gW)"/><circle cx="118.8" cy="105.6" r="3.1" fill="url(#gO)"/><circle cx="46.4" cy="116.5" r="3.6" fill="url(#gO)"/><circle cx="169.3" cy="67.3" r="2.6" fill="url(#gO)"/><circle cx="223.3" cy="99.5" r="3.9" fill="url(#gW)"/><circle cx="197" cy="85.5" r="3.7" fill="url(#gB)"/><circle cx="115" cy="62.9" r="3.8" fill="url(#gB)"/><circle cx="92.4" cy="50.2" r="3.5" fill="url(#gO)"/><circle cx="122.6" cy="163" r="2.8" fill="url(#gB)"/><circle cx="75.6" cy="51" r="2.5" fill="url(#gW)"/><circle cx="102.3" cy="120.2" r="3.8" fill="url(#gW)"/><circle cx="91.9" cy="71.2" r="2.4" fill="url(#gW)"/><circle cx="135.5" cy="59.2" r="3" fill="url(#gW)"/><circle cx="41.8" cy="81.3" r="2.7" fill="url(#gL)"/><circle cx="64" cy="51.6" r="3.7" fill="url(#gS)"/><circle cx="191.6" cy="65.8" r="3.7" fill="url(#gL)"/><circle cx="76.9" cy="106.1" r="2.5" fill="url(#gB)"/><circle cx="183.9" cy="65.2" r="3" fill="url(#gO)"/><circle cx="33.5" cy="75.9" r="3.5" fill="url(#gL)"/><circle cx="11.9" cy="59.2" r="3" fill="url(#gB)"/><circle cx="38.1" cy="110.7" r="3.5" fill="url(#gB)"/><circle cx="49.5" cy="93.8" r="2.7" fill="url(#gW)"/><circle cx="17.8" cy="103.3" r="3.6" fill="url(#gW)"/><circle cx="116.6" cy="93.9" r="2.7" fill="url(#gB)"/><circle cx="111.3" cy="139.3" r="3.1" fill="url(#gB)"/><circle cx="72.7" cy="164.7" r="2.9" fill="url(#gB)"/><circle cx="123.9" cy="92.2" r="2.8" fill="url(#gB)"/><circle cx="101.2" cy="104.8" r="3" fill="url(#gB)"/><circle cx="162.3" cy="66.2" r="3.6" fill="url(#gW)"/><circle cx="96.1" cy="57" r="3.6" fill="url(#gO)"/><circle cx="158.9" cy="81.3" r="3.6" fill="url(#gW)"/><circle cx="48.8" cy="55.8" r="2.6" fill="url(#gB)"/><circle cx="108.1" cy="129.5" r="3.7" fill="url(#gW)"/><circle cx="15.5" cy="80.3" r="3.8" fill="url(#gB)"/><circle cx="98.9" cy="39.4" r="4" fill="url(#gW)"/><circle cx="81.4" cy="123.3" r="2.7" fill="url(#gB)"/><circle cx="49.9" cy="87" r="3.2" fill="url(#gW)"/><circle cx="132.3" cy="97.1" r="2.5" fill="url(#gW)"/><circle cx="85.2" cy="49" r="3.7" fill="url(#gB)"/><circle cx="104.2" cy="60.1" r="2.9" fill="url(#gB)"/><circle cx="185.2" cy="57.2" r="3.4" fill="url(#gP)"/><circle cx="110.3" cy="115.4" r="3.4" fill="url(#gO)"/><circle cx="184.6" cy="107.3" r="2.7" fill="url(#gP)"/><circle cx="136.3" cy="67.1" r="3.8" fill="url(#gW)"/><circle cx="83.6" cy="50.8" r="3.7" fill="url(#gB)"/><circle cx="105.2" cy="38.3" r="2.9" fill="url(#gO)"/><circle cx="186.7" cy="52.5" r="3.4" fill="url(#gW)"/><circle cx="54.5" cy="70.9" r="3.9" fill="url(#gW)"/><circle cx="111.5" cy="80.6" r="2.8" fill="url(#gW)"/><circle cx="182.3" cy="87.8" r="2.4" fill="url(#gO)"/><circle cx="172.3" cy="83.2" r="2.8" fill="url(#gO)"/><circle cx="103.4" cy="101.8" r="3.2" fill="url(#gB)"/><circle cx="191.4" cy="59" r="2.7" fill="url(#gO)"/><circle cx="206.4" cy="114.4" r="3.4" fill="url(#gB)"/><circle cx="37" cy="86.1" r="3.7" fill="url(#gL)"/><circle cx="57.6" cy="153.2" r="3.7" fill="url(#gB)"/><circle cx="112.6" cy="95.4" r="2.9" fill="url(#gB)"/><circle cx="56.3" cy="41" r="3.3" fill="url(#gB)"/><circle cx="86.2" cy="37.9" r="2.8" fill="url(#gL)"/><circle cx="73.3" cy="73.5" r="3.4" fill="url(#gB)"/><circle cx="69.7" cy="138.2" r="2.7" fill="url(#gP)"/><circle cx="107.9" cy="100.4" r="2.9" fill="url(#gB)"/><circle cx="70.9" cy="138" r="2.5" fill="url(#gP)"/><circle cx="44" cy="97.2" r="3.1" fill="url(#gW)"/><circle cx="97.3" cy="53.5" r="3.9" fill="url(#gO)"/><circle cx="162.8" cy="82.6" r="3.3" fill="url(#gO)"/><circle cx="66.3" cy="63.3" r="3" fill="url(#gS)"/><circle cx="72.1" cy="110.7" r="3.1" fill="url(#gB)"/><circle cx="170.2" cy="82.1" r="2.9" fill="url(#gB)"/><circle cx="15.7" cy="78.3" r="3.6" fill="url(#gB)"/><circle cx="124.7" cy="44.1" r="4" fill="url(#gP)"/><circle cx="117.9" cy="46.6" r="3.7" fill="url(#gB)"/><circle cx="114.5" cy="171.6" r="4" fill="url(#gB)"/><circle cx="15.3" cy="57" r="3" fill="url(#gB)"/><circle cx="88.8" cy="102.2" r="3.4" fill="url(#gW)"/><circle cx="109.9" cy="135.9" r="3.7" fill="url(#gB)"/><circle cx="103.1" cy="42.8" r="3.2" fill="url(#gO)"/><circle cx="138.1" cy="77.5" r="3.5" fill="url(#gB)"/><circle cx="89.6" cy="92.3" r="3.8" fill="url(#gB)"/><circle cx="150.6" cy="64" r="3.6" fill="url(#gL)"/><circle cx="137.2" cy="95.4" r="3.5" fill="url(#gO)"/><circle cx="133.8" cy="62.6" r="3.8" fill="url(#gW)"/><circle cx="110" cy="164.4" r="3.4" fill="url(#gB)"/><circle cx="62.5" cy="103.1" r="3.7" fill="url(#gW)"/><circle cx="143.5" cy="70.2" r="2.7" fill="url(#gO)"/><circle cx="161.1" cy="91.1" r="4" fill="url(#gO)"/><circle cx="120" cy="170.4" r="3.9" fill="url(#gB)"/><circle cx="154" cy="87.7" r="3.6" fill="url(#gW)"/><circle cx="16" cy="101" r="3.1" fill="url(#gW)"/><circle cx="137.9" cy="92.8" r="3.5" fill="url(#gB)"/><circle cx="80.1" cy="146.5" r="3.3" fill="url(#gB)"/><circle cx="81.2" cy="122.9" r="2.7" fill="url(#gL)"/><circle cx="88.2" cy="154.2" r="3.3" fill="url(#gP)"/><circle cx="41.9" cy="43.9" r="2.7" fill="url(#gB)"/><circle cx="170.4" cy="59" r="3" fill="url(#gP)"/><circle cx="142" cy="61" r="3.3" fill="url(#gB)"/><circle cx="35.3" cy="37.6" r="3.2" fill="url(#gB)"/><circle cx="26.4" cy="84.2" r="2.5" fill="url(#gB)"/><circle cx="85.7" cy="131.3" r="3.6" fill="url(#gW)"/><circle cx="64.1" cy="154.4" r="2.8" fill="url(#gB)"/><circle cx="25.2" cy="48.2" r="3" fill="url(#gP)"/><circle cx="43.4" cy="86.1" r="3.6" fill="url(#gW)"/><circle cx="71.2" cy="123" r="3.6" fill="url(#gB)"/><circle cx="53" cy="63.7" r="4" fill="url(#gW)"/><circle cx="186.3" cy="54.5" r="2.8" fill="url(#gB)"/><circle cx="207" cy="77.5" r="3.1" fill="url(#gW)"/><circle cx="127.6" cy="127" r="3.1" fill="url(#gL)"/><circle cx="66.4" cy="45.9" r="3.2" fill="url(#gB)"/><circle cx="98.4" cy="92.6" r="3.9" fill="url(#gB)"/><circle cx="76.4" cy="52.3" r="3.9" fill="url(#gW)"/><circle cx="59.8" cy="97" r="3.8" fill="url(#gB)"/><circle cx="63.4" cy="105.2" r="2.5" fill="url(#gL)"/><circle cx="53.1" cy="66.4" r="2.5" fill="url(#gW)"/><circle cx="75.7" cy="62.1" r="3.4" fill="url(#gW)"/><circle cx="214.9" cy="105.7" r="3.6" fill="url(#gW)"/><circle cx="143.2" cy="97.8" r="2.9" fill="url(#gO)"/><circle cx="68.8" cy="140.6" r="2.7" fill="url(#gP)"/><circle cx="70.1" cy="112" r="2.9" fill="url(#gL)"/><circle cx="112.3" cy="79.8" r="3.7" fill="url(#gW)"/><circle cx="179.4" cy="104.7" r="2.7" fill="url(#gB)"/><circle cx="98.1" cy="48.9" r="3.4" fill="url(#gO)"/><circle cx="76.4" cy="109.6" r="3.2" fill="url(#gB)"/><circle cx="118.8" cy="156.5" r="3.2" fill="url(#gL)"/><circle cx="124.6" cy="57.1" r="3.1" fill="url(#gW)"/><circle cx="128.4" cy="77.1" r="2.5" fill="url(#gW)"/><circle cx="195.5" cy="81" r="2.5" fill="url(#gB)"/><circle cx="143.4" cy="77.7" r="2.7" fill="url(#gB)"/><circle cx="70.3" cy="60.2" r="3.9" fill="url(#gB)"/><circle cx="174.8" cy="85.5" r="2.4" fill="url(#gO)"/><circle cx="75.4" cy="141.5" r="2.5" fill="url(#gP)"/><circle cx="187.5" cy="75.9" r="2.7" fill="url(#gB)"/><circle cx="108.1" cy="162.9" r="2.7" fill="url(#gB)"/><circle cx="24.2" cy="59.8" r="3.2" fill="url(#gO)"/><circle cx="68.9" cy="77.8" r="3.1" fill="url(#gO)"/><circle cx="126.7" cy="83.1" r="3.2" fill="url(#gW)"/><circle cx="15.6" cy="83.5" r="3" fill="url(#gB)"/><circle cx="175.9" cy="94.1" r="3.2" fill="url(#gP)"/><circle cx="65.2" cy="133.6" r="3.4" fill="url(#gO)"/><circle cx="190.1" cy="83.2" r="3.4" fill="url(#gB)"/><circle cx="193" cy="53.4" r="2.7" fill="url(#gB)"/><circle cx="68.5" cy="90.8" r="2.5" fill="url(#gB)"/><circle cx="159.2" cy="65.3" r="3.6" fill="url(#gW)"/><circle cx="115.6" cy="71.8" r="3" fill="url(#gP)"/><circle cx="117.6" cy="96.4" r="3.7" fill="url(#gB)"/><circle cx="97.5" cy="60.2" r="2.5" fill="url(#gO)"/><circle cx="61.1" cy="135.8" r="3.6" fill="url(#gO)"/><circle cx="59.2" cy="155.3" r="3.4" fill="url(#gB)"/><circle cx="76.2" cy="46.1" r="3.4" fill="url(#gW)"/><circle cx="156.2" cy="64.9" r="2.6" fill="url(#gB)"/><circle cx="147.7" cy="86.7" r="2.6" fill="url(#gB)"/><circle cx="65.6" cy="94.7" r="3" fill="url(#gB)"/><circle cx="14.3" cy="101.7" r="2.5" fill="url(#gB)"/><circle cx="188.8" cy="54.9" r="3.5" fill="url(#gO)"/><circle cx="52.8" cy="66.6" r="2.5" fill="url(#gW)"/><circle cx="104.8" cy="115.2" r="2.7" fill="url(#gO)"/><circle cx="10" cy="63.9" r="2.8" fill="url(#gL)"/><circle cx="129.2" cy="50" r="2.4" fill="url(#gO)"/><circle cx="95.4" cy="112.7" r="3" fill="url(#gP)"/><circle cx="54.3" cy="72.9" r="2.7" fill="url(#gW)"/><circle cx="116.3" cy="75.6" r="2.4" fill="url(#gP)"/><circle cx="72.6" cy="44.7" r="3.2" fill="url(#gW)"/><circle cx="100.8" cy="54.6" r="2.4" fill="url(#gO)"/><circle cx="94.7" cy="88.5" r="3.5" fill="url(#gB)"/><circle cx="96.1" cy="42.4" r="2.5" fill="url(#gB)"/><circle cx="61.5" cy="37.6" r="3.7" fill="url(#gO)"/><circle cx="99.5" cy="139.8" r="3.3" fill="url(#gW)"/><circle cx="128.4" cy="108.5" r="3.7" fill="url(#gP)"/><circle cx="173.4" cy="101.4" r="3.2" fill="url(#gB)"/><circle cx="108.5" cy="62.9" r="4" fill="url(#gW)"/><circle cx="74.2" cy="71" r="2.8" fill="url(#gO)"/><circle cx="70.7" cy="165.3" r="3.6" fill="url(#gB)"/><circle cx="174.6" cy="103.4" r="3.8" fill="url(#gB)"/><circle cx="64" cy="42.9" r="2.9" fill="url(#gO)"/><circle cx="146.2" cy="86.9" r="3.5" fill="url(#gB)"/><circle cx="96.2" cy="51" r="2.9" fill="url(#gO)"/><circle cx="40.2" cy="52.3" r="3.7" fill="url(#gW)"/><circle cx="35.2" cy="64.4" r="3.2" fill="url(#gW)"/><circle cx="110.5" cy="160.1" r="3" fill="url(#gP)"/><circle cx="96.3" cy="77.2" r="2.5" fill="url(#gW)"/><circle cx="18.5" cy="95.6" r="3.1" fill="url(#gL)"/><circle cx="74.1" cy="86.1" r="3.4" fill="url(#gW)"/><circle cx="69.4" cy="77.4" r="3.8" fill="url(#gB)"/><circle cx="11" cy="106.8" r="4" fill="url(#gB)"/><circle cx="118.3" cy="39.5" r="3" fill="url(#gB)"/><circle cx="109.1" cy="46.9" r="3.6" fill="url(#gO)"/><circle cx="90.7" cy="126.2" r="3.9" fill="url(#gP)"/><circle cx="19.2" cy="85.3" r="3.4" fill="url(#gB)"/><circle cx="99.9" cy="136.8" r="3" fill="url(#gB)"/><circle cx="104.5" cy="86.6" r="2.9" fill="url(#gB)"/><circle cx="198.9" cy="65.6" r="3.3" fill="url(#gB)"/><circle cx="84.1" cy="135.3" r="3.4" fill="url(#gW)"/><circle cx="130.3" cy="64.1" r="3.1" fill="url(#gW)"/><circle cx="91.5" cy="52" r="3.7" fill="url(#gO)"/><circle cx="136.9" cy="64.4" r="3.4" fill="url(#gB)"/><circle cx="135.4" cy="57.5" r="2.8" fill="url(#gO)"/><circle cx="153.8" cy="54.4" r="3.8" fill="url(#gL)"/><circle cx="106.9" cy="146.1" r="3.5" fill="url(#gL)"/><circle cx="30.7" cy="69.6" r="3.4" fill="url(#gW)"/><circle cx="78.6" cy="135.5" r="3.8" fill="url(#gW)"/><circle cx="81.3" cy="155" r="3.3" fill="url(#gB)"/><circle cx="23.4" cy="53.3" r="3.9" fill="url(#gP)"/><circle cx="125.1" cy="132.7" r="2.7" fill="url(#gB)"/><circle cx="170.2" cy="60.4" r="2.7" fill="url(#gO)"/><circle cx="135.5" cy="123.8" r="3.8" fill="url(#gW)"/><circle cx="110.4" cy="163.6" r="3.1" fill="url(#gB)"/><circle cx="190" cy="49.2" r="3.8" fill="url(#gW)"/><circle cx="37.6" cy="39.6" r="3.9" fill="url(#gB)"/><circle cx="133.2" cy="48.7" r="2.6" fill="url(#gO)"/><circle cx="184" cy="56.3" r="4" fill="url(#gP)"/><circle cx="126.7" cy="61.4" r="2.7" fill="url(#gW)"/><circle cx="194" cy="79.1" r="3.8" fill="url(#gW)"/><circle cx="181.7" cy="83.5" r="3.4" fill="url(#gO)"/><circle cx="119.2" cy="41.5" r="2.6" fill="url(#gB)"/><circle cx="70" cy="131.5" r="3.5" fill="url(#gW)"/><circle cx="107.7" cy="107.5" r="2.5" fill="url(#gB)"/><circle cx="17.3" cy="58.6" r="3.9" fill="url(#gB)"/><circle cx="113.1" cy="97.6" r="3.7" fill="url(#gW)"/><circle cx="73.1" cy="58.5" r="3.9" fill="url(#gW)"/><circle cx="83.4" cy="144.4" r="4" fill="url(#gP)"/><circle cx="181.5" cy="96" r="2.8" fill="url(#gO)"/><circle cx="201.5" cy="113" r="2.4" fill="url(#gB)"/><circle cx="79.7" cy="50.2" r="2.4" fill="url(#gB)"/><circle cx="191.1" cy="53.6" r="2.5" fill="url(#gO)"/><circle cx="75.9" cy="56.8" r="3.3" fill="url(#gW)"/><circle cx="122" cy="167.8" r="2.4" fill="url(#gL)"/><circle cx="73.2" cy="115.1" r="3.4" fill="url(#gB)"/><circle cx="100.7" cy="117.5" r="3.5" fill="url(#gW)"/><circle cx="101.3" cy="49.6" r="2.7" fill="url(#gO)"/><circle cx="86.4" cy="150.1" r="2.8" fill="url(#gP)"/><circle cx="36.6" cy="75.2" r="3.9" fill="url(#gP)"/><circle cx="124.1" cy="66.3" r="3.3" fill="url(#gW)"/><circle cx="130.8" cy="74.9" r="2.6" fill="url(#gW)"/><circle cx="106.5" cy="40.5" r="2.5" fill="url(#gO)"/><circle cx="79.7" cy="135.7" r="2.7" fill="url(#gW)"/><circle cx="194" cy="116.7" r="3.3" fill="url(#gB)"/><circle cx="125.5" cy="60.7" r="2.9" fill="url(#gB)"/><circle cx="70.9" cy="115.5" r="2.7" fill="url(#gL)"/><circle cx="43.2" cy="87.5" r="2.8" fill="url(#gW)"/><circle cx="68.9" cy="37" r="2.8" fill="url(#gO)"/><circle cx="23.3" cy="88.5" r="3.8" fill="url(#gL)"/><circle cx="169.5" cy="92.1" r="3.3" fill="url(#gO)"/><circle cx="55.5" cy="123.4" r="3.5" fill="url(#gW)"/><circle cx="34.6" cy="115.7" r="3.8" fill="url(#gL)"/><circle cx="24" cy="98.5" r="3.6" fill="url(#gB)"/><circle cx="104.7" cy="90.3" r="2.4" fill="url(#gB)"/><circle cx="54.1" cy="50.6" r="3.8" fill="url(#gP)"/><circle cx="86.8" cy="78.1" r="3.1" fill="url(#gP)"/><circle cx="145.4" cy="73.6" r="3.7" fill="url(#gO)"/><circle cx="62" cy="151.2" r="2.5" fill="url(#gW)"/><circle cx="126.5" cy="81.5" r="3.2" fill="url(#gW)"/><circle cx="63.7" cy="144.6" r="3" fill="url(#gP)"/><circle cx="91.6" cy="140.2" r="3.7" fill="url(#gP)"/><circle cx="80.8" cy="119.9" r="3.4" fill="url(#gB)"/><circle cx="107.2" cy="38" r="3.5" fill="url(#gO)"/><circle cx="64.5" cy="155.3" r="3.4" fill="url(#gB)"/><circle cx="114.4" cy="119.3" r="2.9" fill="url(#gO)"/><circle cx="126.5" cy="69.4" r="2.8" fill="url(#gW)"/><circle cx="144.4" cy="56.3" r="2.9" fill="url(#gO)"/><circle cx="12.5" cy="58.1" r="2.8" fill="url(#gB)"/><circle cx="164.4" cy="79.9" r="2.8" fill="url(#gO)"/><circle cx="64.5" cy="102.8" r="3.7" fill="url(#gW)"/><circle cx="59.6" cy="148.8" r="2.7" fill="url(#gB)"/><circle cx="21.4" cy="76.6" r="3.4" fill="url(#gB)"/><circle cx="58.8" cy="49.5" r="3.7" fill="url(#gW)"/><circle cx="37.8" cy="81.2" r="3.4" fill="url(#gP)"/><circle cx="147.5" cy="80.7" r="2.8" fill="url(#gB)"/><circle cx="187.5" cy="51.6" r="3.7" fill="url(#gW)"/><circle cx="27.6" cy="40.5" r="3.6" fill="url(#gB)"/><circle cx="45.7" cy="112.2" r="3.2" fill="url(#gO)"/><circle cx="110.6" cy="110.8" r="2.7" fill="url(#gO)"/><circle cx="159.7" cy="54.1" r="3.4" fill="url(#gW)"/><circle cx="69.8" cy="148.1" r="3.9" fill="url(#gB)"/><circle cx="64.1" cy="46.9" r="2.5" fill="url(#gO)"/><circle cx="132.9" cy="97.6" r="3.7" fill="url(#gW)"/><circle cx="202.6" cy="90.2" r="3.1" fill="url(#gP)"/><circle cx="86.4" cy="53.1" r="2.9" fill="url(#gO)"/><circle cx="34.7" cy="46.8" r="2.9" fill="url(#gW)"/><circle cx="187" cy="106.6" r="3" fill="url(#gP)"/><circle cx="87.8" cy="102.9" r="3.3" fill="url(#gB)"/><circle cx="60" cy="41.6" r="4" fill="url(#gO)"/><circle cx="88.7" cy="147.3" r="2.6" fill="url(#gP)"/><circle cx="14.2" cy="85.4" r="3.9" fill="url(#gB)"/><circle cx="17.1" cy="65.1" r="4" fill="url(#gB)"/><circle cx="190.1" cy="75.4" r="2.6" fill="url(#gB)"/><circle cx="57.5" cy="113.4" r="3.4" fill="url(#gL)"/><circle cx="78" cy="138.1" r="3.9" fill="url(#gW)"/><circle cx="98.3" cy="95.1" r="3.2" fill="url(#gL)"/><circle cx="189.8" cy="69.9" r="3.1" fill="url(#gB)"/><circle cx="112.3" cy="78.7" r="3.2" fill="url(#gW)"/><circle cx="39.6" cy="74.6" r="3.3" fill="url(#gP)"/><circle cx="119.2" cy="57.9" r="4" fill="url(#gB)"/><circle cx="172.4" cy="80.6" r="2.8" fill="url(#gB)"/><circle cx="97.6" cy="100.4" r="3.4" fill="url(#gB)"/><circle cx="85.4" cy="96.7" r="3.5" fill="url(#gO)"/><circle cx="35.7" cy="77.7" r="3.2" fill="url(#gP)"/><circle cx="104.8" cy="74.8" r="4" fill="url(#gB)"/><circle cx="184.8" cy="74.7" r="2.5" fill="url(#gB)"/><circle cx="16.8" cy="107" r="3.5" fill="url(#gW)"/><circle cx="85.1" cy="145.3" r="3.8" fill="url(#gP)"/><circle cx="10.6" cy="59.6" r="2.7" fill="url(#gB)"/><circle cx="104.4" cy="83.4" r="3.3" fill="url(#gW)"/><circle cx="205.5" cy="84.4" r="3.5" fill="url(#gW)"/><circle cx="140.8" cy="93.4" r="2.7" fill="url(#gO)"/><circle cx="93.2" cy="137.8" r="3" fill="url(#gB)"/><circle cx="140.8" cy="62.7" r="3.2" fill="url(#gW)"/><circle cx="44.7" cy="47.1" r="2.4" fill="url(#gB)"/><circle cx="29.1" cy="68.9" r="2.6" fill="url(#gB)"/><circle cx="84.7" cy="89.7" r="2.6" fill="url(#gB)"/><circle cx="62.8" cy="138.3" r="2.7" fill="url(#gP)"/><circle cx="67.3" cy="144.9" r="2.9" fill="url(#gP)"/><circle cx="127.2" cy="133.6" r="3.1" fill="url(#gL)"/><circle cx="128.1" cy="76.1" r="3.2" fill="url(#gW)"/><circle cx="154.9" cy="52.5" r="2.4" fill="url(#gW)"/><circle cx="131" cy="123.4" r="2.6" fill="url(#gB)"/><circle cx="122.4" cy="127.5" r="3.6" fill="url(#gB)"/><circle cx="28.7" cy="94.4" r="2.9" fill="url(#gL)"/><circle cx="76" cy="123.7" r="3.9" fill="url(#gB)"/><circle cx="35.1" cy="61.2" r="2.4" fill="url(#gB)"/><circle cx="141.3" cy="72" r="2.6" fill="url(#gO)"/><circle cx="155.1" cy="74.2" r="2.5" fill="url(#gW)"/><circle cx="203.3" cy="107.2" r="2.6" fill="url(#gB)"/><circle cx="207.5" cy="93.4" r="3.5" fill="url(#gO)"/><circle cx="141.4" cy="89.3" r="2.6" fill="url(#gB)"/><circle cx="131.6" cy="106.5" r="3.4" fill="url(#gB)"/><circle cx="119.4" cy="101.7" r="3.1" fill="url(#gB)"/><circle cx="78.9" cy="134" r="3.1" fill="url(#gW)"/><circle cx="157.5" cy="80.7" r="2.8" fill="url(#gW)"/><circle cx="160.6" cy="71.5" r="3.7" fill="url(#gW)"/><circle cx="199.5" cy="96.3" r="3" fill="url(#gO)"/><circle cx="125.2" cy="104.2" r="3.3" fill="url(#gP)"/><circle cx="16.3" cy="102" r="2.8" fill="url(#gW)"/><circle cx="187.1" cy="61.6" r="2.6" fill="url(#gO)"/><circle cx="113.3" cy="47" r="3" fill="url(#gB)"/><circle cx="27.1" cy="49.9" r="2.9" fill="url(#gW)"/><circle cx="104.1" cy="168.5" r="3.3" fill="url(#gW)"/><circle cx="67.2" cy="88.7" r="4" fill="url(#gB)"/><circle cx="26.8" cy="48.2" r="3.4" fill="url(#gW)"/><circle cx="122.7" cy="105.8" r="3.7" fill="url(#gO)"/><circle cx="92.4" cy="83.7" r="3.8" fill="url(#gB)"/><circle cx="95.4" cy="117.4" r="2.9" fill="url(#gL)"/><circle cx="140.4" cy="82.5" r="2.5" fill="url(#gB)"/><circle cx="95.6" cy="47" r="3" fill="url(#gB)"/><circle cx="170.9" cy="98.9" r="2.8" fill="url(#gW)"/><circle cx="211.8" cy="80.6" r="3.5" fill="url(#gW)"/><circle cx="27.2" cy="84.7" r="3.7" fill="url(#gB)"/><circle cx="33.7" cy="48.6" r="2.7" fill="url(#gW)"/><circle cx="141" cy="101.3" r="3.8" fill="url(#gO)"/><circle cx="87.7" cy="99.8" r="3.5" fill="url(#gW)"/><circle cx="106.2" cy="95.5" r="2.8" fill="url(#gW)"/><circle cx="34.8" cy="100.3" r="3.6" fill="url(#gB)"/><circle cx="163.1" cy="93.8" r="3" fill="url(#gW)"/><circle cx="112.2" cy="143" r="3.7" fill="url(#gO)"/><circle cx="190.3" cy="59.8" r="3.6" fill="url(#gO)"/><circle cx="126.1" cy="107.9" r="3.1" fill="url(#gP)"/><circle cx="36.8" cy="61.7" r="2.8" fill="url(#gB)"/><circle cx="79.8" cy="122.3" r="2.9" fill="url(#gL)"/><circle cx="30.9" cy="41.3" r="2.8" fill="url(#gW)"/><circle cx="22.6" cy="96.5" r="2.8" fill="url(#gB)"/><circle cx="30.5" cy="53.3" r="2.9" fill="url(#gW)"/><circle cx="65.7" cy="105.3" r="3.3" fill="url(#gW)"/><circle cx="54" cy="70.2" r="3.4" fill="url(#gW)"/><circle cx="43.7" cy="80.2" r="3.5" fill="url(#gP)"/><circle cx="109" cy="46.5" r="2.6" fill="url(#gO)"/><circle cx="156.1" cy="71.2" r="3.6" fill="url(#gW)"/><circle cx="76.1" cy="49.2" r="2.8" fill="url(#gW)"/><circle cx="182.2" cy="66.7" r="3.2" fill="url(#gB)"/><circle cx="58" cy="55.5" r="3.1" fill="url(#gS)"/><circle cx="50.3" cy="103.3" r="2.9" fill="url(#gO)"/><circle cx="61.7" cy="51.8" r="3.4" fill="url(#gS)"/><circle cx="74.1" cy="78.6" r="2.4" fill="url(#gO)"/><circle cx="78.3" cy="78.8" r="3.1" fill="url(#gW)"/><circle cx="22.4" cy="76.2" r="3.3" fill="url(#gB)"/><circle cx="86" cy="92.4" r="2.5" fill="url(#gW)"/><circle cx="114.6" cy="171.2" r="2.5" fill="url(#gB)"/><circle cx="57.1" cy="62.2" r="3.5" fill="url(#gW)"/><circle cx="25.6" cy="95.6" r="3.3" fill="url(#gL)"/><circle cx="30.3" cy="72" r="2.6" fill="url(#gB)"/><circle cx="180.2" cy="75.7" r="2.6" fill="url(#gO)"/><circle cx="111.6" cy="134.8" r="3.6" fill="url(#gW)"/><circle cx="168.2" cy="95.3" r="2.4" fill="url(#gW)"/><circle cx="63.2" cy="122.8" r="3.5" fill="url(#gO)"/><circle cx="103.3" cy="101.4" r="2.5" fill="url(#gB)"/><circle cx="174.3" cy="89.4" r="2.6" fill="url(#gO)"/><circle cx="113.6" cy="123.4" r="3.5" fill="url(#gL)"/><circle cx="65.8" cy="128.8" r="2.6" fill="url(#gO)"/><circle cx="169.2" cy="79" r="3.1" fill="url(#gB)"/><circle cx="179.4" cy="80.9" r="3.9" fill="url(#gO)"/><circle cx="65.1" cy="162.5" r="4" fill="url(#gB)"/><circle cx="113.7" cy="83.3" r="3.9" fill="url(#gW)"/><circle cx="94.2" cy="56.4" r="2.5" fill="url(#gO)"/><circle cx="126.8" cy="69" r="3.5" fill="url(#gW)"/><circle cx="45.9" cy="102.4" r="2.9" fill="url(#gO)"/><circle cx="16.6" cy="47.7" r="3" fill="url(#gP)"/><circle cx="187.6" cy="89.4" r="3.1" fill="url(#gO)"/><circle cx="188.4" cy="83.8" r="3.7" fill="url(#gL)"/><circle cx="179" cy="47.3" r="3.1" fill="url(#gB)"/><circle cx="115.8" cy="94.5" r="3.2" fill="url(#gB)"/><circle cx="185.3" cy="106.6" r="3.7" fill="url(#gP)"/><circle cx="111" cy="160.9" r="2.6" fill="url(#gB)"/><circle cx="181.3" cy="59.5" r="3.6" fill="url(#gP)"/><circle cx="137.8" cy="89" r="3.3" fill="url(#gB)"/><circle cx="118" cy="164.8" r="3.8" fill="url(#gB)"/><circle cx="157.9" cy="93.5" r="3.1" fill="url(#gW)"/><circle cx="204.5" cy="88.7" r="3.4" fill="url(#gO)"/><circle cx="202.1" cy="91" r="3.4" fill="url(#gP)"/><circle cx="206.8" cy="96.7" r="3.7" fill="url(#gO)"/><circle cx="131.6" cy="70.8" r="3.3" fill="url(#gO)"/><circle cx="61.7" cy="147.2" r="3.6" fill="url(#gB)"/><circle cx="123.9" cy="127.1" r="2.8" fill="url(#gB)"/><circle cx="196.7" cy="78.5" r="2.4" fill="url(#gB)"/><circle cx="115.7" cy="93.6" r="2.9" fill="url(#gW)"/><circle cx="36.3" cy="56.6" r="2.5" fill="url(#gW)"/><circle cx="84.1" cy="65.8" r="3.6" fill="url(#gB)"/><circle cx="114.7" cy="136.1" r="2.5" fill="url(#gW)"/><circle cx="186.5" cy="83" r="3.8" fill="url(#gL)"/><circle cx="125.9" cy="75.4" r="2.7" fill="url(#gB)"/><circle cx="107.6" cy="64.6" r="3.4" fill="url(#gB)"/><circle cx="27.3" cy="60.1" r="3.7" fill="url(#gO)"/><circle cx="111.5" cy="46.6" r="2.7" fill="url(#gO)"/><circle cx="187.2" cy="46" r="2.6" fill="url(#gW)"/><circle cx="81.7" cy="122.7" r="3.9" fill="url(#gB)"/><circle cx="17" cy="106.1" r="2.8" fill="url(#gW)"/><circle cx="60.9" cy="71.5" r="2.6" fill="url(#gB)"/><circle cx="106.6" cy="74.3" r="2.5" fill="url(#gB)"/><circle cx="60.9" cy="96.6" r="2.9" fill="url(#gB)"/><circle cx="68.8" cy="81.4" r="3.8" fill="url(#gO)"/><circle cx="180.3" cy="87.4" r="3.8" fill="url(#gO)"/><circle cx="202.7" cy="63.9" r="3.8" fill="url(#gB)"/><circle cx="166.1" cy="99.2" r="3.4" fill="url(#gW)"/><circle cx="108.3" cy="98.8" r="2.9" fill="url(#gB)"/><circle cx="119.5" cy="64.8" r="2.5" fill="url(#gL)"/><circle cx="59.1" cy="48.2" r="3" fill="url(#gB)"/><circle cx="118.7" cy="144.4" r="3" fill="url(#gO)"/><circle cx="102" cy="108.4" r="3.6" fill="url(#gP)"/><circle cx="113.7" cy="112.3" r="3.5" fill="url(#gB)"/><circle cx="138.2" cy="51.9" r="2.8" fill="url(#gO)"/><circle cx="156.7" cy="46.5" r="3.3" fill="url(#gW)"/><circle cx="96.7" cy="37.4" r="2.9" fill="url(#gW)"/><circle cx="64.7" cy="72.7" r="3.7" fill="url(#gO)"/><circle cx="63" cy="124" r="3.1" fill="url(#gO)"/><circle cx="94.6" cy="59.8" r="3.6" fill="url(#gO)"/><circle cx="183.1" cy="73.9" r="3" fill="url(#gB)"/><circle cx="14.4" cy="109.3" r="2.8" fill="url(#gL)"/><circle cx="110.9" cy="133.6" r="2.8" fill="url(#gO)"/><circle cx="58.6" cy="120.3" r="3.5" fill="url(#gO)"/><circle cx="85" cy="118.2" r="3.6" fill="url(#gB)"/><circle cx="112.2" cy="141.7" r="3.6" fill="url(#gO)"/><circle cx="174.7" cy="55.4" r="3.7" fill="url(#gP)"/><circle cx="133.1" cy="102.3" r="3" fill="url(#gW)"/><circle cx="92.2" cy="143.1" r="2.5" fill="url(#gP)"/><circle cx="98.1" cy="116.2" r="3.7" fill="url(#gP)"/><circle cx="190.9" cy="97.7" r="2.7" fill="url(#gW)"/><circle cx="86.4" cy="67.4" r="2.6" fill="url(#gB)"/><circle cx="102.3" cy="77.3" r="3.6" fill="url(#gB)"/><circle cx="70" cy="164.2" r="3.4" fill="url(#gB)"/><circle cx="14.9" cy="101" r="3" fill="url(#gB)"/><circle cx="206.7" cy="114.7" r="3" fill="url(#gB)"/><circle cx="125.1" cy="108.5" r="3.5" fill="url(#gO)"/><circle cx="77.5" cy="38.7" r="3.3" fill="url(#gW)"/><circle cx="111.9" cy="169.3" r="4" fill="url(#gB)"/><circle cx="33.1" cy="119.9" r="3.5" fill="url(#gB)"/><circle cx="59.3" cy="160.7" r="3.8" fill="url(#gB)"/><circle cx="88.2" cy="148.5" r="3.9" fill="url(#gB)"/><circle cx="58.5" cy="81.3" r="3.4" fill="url(#gO)"/><circle cx="76.5" cy="47.2" r="2.5" fill="url(#gW)"/><circle cx="89" cy="126.9" r="2.7" fill="url(#gB)"/><circle cx="174.5" cy="79.1" r="3.9" fill="url(#gO)"/><circle cx="195" cy="77.7" r="2.5" fill="url(#gW)"/><circle cx="120" cy="166.2" r="3.1" fill="url(#gB)"/><circle cx="22.4" cy="111.4" r="3.4" fill="url(#gL)"/><circle cx="161.6" cy="65.9" r="2.9" fill="url(#gL)"/><circle cx="58.9" cy="82.3" r="3.6" fill="url(#gO)"/><circle cx="130.3" cy="71" r="2.6" fill="url(#gB)"/><circle cx="180.7" cy="93.7" r="3.5" fill="url(#gO)"/><circle cx="126.1" cy="113.1" r="2.9" fill="url(#gO)"/><circle cx="115.1" cy="105.2" r="3.5" fill="url(#gO)"/><circle cx="72.8" cy="157.6" r="2.4" fill="url(#gB)"/><circle cx="95.8" cy="73.2" r="3.1" fill="url(#gW)"/><circle cx="39.8" cy="61.8" r="3.4" fill="url(#gW)"/><circle cx="42.5" cy="81.2" r="3.5" fill="url(#gP)"/><circle cx="50.6" cy="54.3" r="3.8" fill="url(#gB)"/><circle cx="68.3" cy="143" r="2.6" fill="url(#gP)"/><circle cx="82" cy="67.5" r="2.7" fill="url(#gO)"/><circle cx="115.5" cy="67.3" r="3.2" fill="url(#gP)"/><circle cx="81.4" cy="134.2" r="2.9" fill="url(#gW)"/><circle cx="48.7" cy="60.9" r="3.1" fill="url(#gW)"/><circle cx="118.2" cy="168.5" r="3.3" fill="url(#gB)"/><circle cx="53.5" cy="85" r="3.3" fill="url(#gO)"/><circle cx="139.7" cy="76" r="3.8" fill="url(#gO)"/><circle cx="112.9" cy="176.3" r="3" fill="url(#gB)"/><circle cx="167.8" cy="91.9" r="3.6" fill="url(#gO)"/><circle cx="49.3" cy="101.3" r="2.8" fill="url(#gO)"/><circle cx="172.8" cy="102.9" r="3.7" fill="url(#gB)"/><circle cx="206.3" cy="95.9" r="2.6" fill="url(#gO)"/><circle cx="92.7" cy="55.2" r="2.9" fill="url(#gO)"/><circle cx="67.2" cy="138.4" r="2.5" fill="url(#gP)"/><circle cx="99.2" cy="124.7" r="3.6" fill="url(#gW)"/><circle cx="159.2" cy="84.1" r="3.5" fill="url(#gW)"/><circle cx="208.9" cy="92.2" r="2.5" fill="url(#gO)"/><circle cx="45.8" cy="61" r="3.6" fill="url(#gW)"/><circle cx="120.8" cy="39.1" r="3.1" fill="url(#gB)"/><circle cx="137.8" cy="87.5" r="3.5" fill="url(#gB)"/><circle cx="190.4" cy="107.3" r="3.1" fill="url(#gP)"/><circle cx="76.4" cy="77.3" r="2.5" fill="url(#gO)"/><circle cx="105.5" cy="161.9" r="2.7" fill="url(#gW)"/><circle cx="42.2" cy="90.1" r="2.5" fill="url(#gW)"/><circle cx="53.7" cy="85.6" r="3.1" fill="url(#gO)"/><circle cx="72.5" cy="137.7" r="3.8" fill="url(#gP)"/><circle cx="42.7" cy="59.6" r="2.8" fill="url(#gW)"/><circle cx="108.4" cy="101.4" r="3.4" fill="url(#gB)"/><circle cx="85.6" cy="100.4" r="3.5" fill="url(#gW)"/><circle cx="96.4" cy="71.4" r="3.5" fill="url(#gW)"/><circle cx="106.2" cy="109.5" r="2.9" fill="url(#gO)"/><circle cx="24.9" cy="85.1" r="3.9" fill="url(#gB)"/><circle cx="71.5" cy="98" r="4" fill="url(#gO)"/><circle cx="19" cy="94.4" r="2.6" fill="url(#gP)"/><circle cx="19.4" cy="92.6" r="3.5" fill="url(#gP)"/><circle cx="134.3" cy="121.5" r="2.7" fill="url(#gB)"/><circle cx="59.4" cy="57.9" r="3.9" fill="url(#gS)"/><circle cx="118.9" cy="107.1" r="2.5" fill="url(#gO)"/><circle cx="83" cy="102.5" r="3.2" fill="url(#gO)"/><circle cx="82.6" cy="130.9" r="3.9" fill="url(#gW)"/><circle cx="160.5" cy="64.3" r="4" fill="url(#gW)"/><circle cx="63.2" cy="161" r="2.8" fill="url(#gB)"/><circle cx="131.9" cy="62" r="3.9" fill="url(#gW)"/><circle cx="141.7" cy="92.1" r="3.1" fill="url(#gB)"/><circle cx="106.5" cy="111.4" r="3.4" fill="url(#gO)"/><circle cx="112.5" cy="48" r="2.5" fill="url(#gW)"/><circle cx="90.1" cy="117.2" r="3.3" fill="url(#gB)"/><circle cx="122.8" cy="64.7" r="3.4" fill="url(#gW)"/><circle cx="188.2" cy="71.6" r="4" fill="url(#gW)"/><circle cx="72.8" cy="140.3" r="3" fill="url(#gP)"/><circle cx="120.1" cy="72.8" r="2.7" fill="url(#gO)"/><circle cx="186.6" cy="98.1" r="3.5" fill="url(#gB)"/><circle cx="93.2" cy="99.5" r="3.4" fill="url(#gB)"/><circle cx="13.9" cy="98.7" r="3.2" fill="url(#gP)"/><circle cx="32.8" cy="109.7" r="2.8" fill="url(#gB)"/><circle cx="32.6" cy="83.5" r="2.9" fill="url(#gB)"/><circle cx="64.2" cy="159.8" r="3.2" fill="url(#gB)"/><circle cx="209.5" cy="86.9" r="3.2" fill="url(#gW)"/><circle cx="147.8" cy="82.9" r="3.5" fill="url(#gB)"/><circle cx="45.8" cy="52.1" r="2.5" fill="url(#gB)"/><circle cx="117.9" cy="165.7" r="3.1" fill="url(#gB)"/><circle cx="84.6" cy="88.3" r="2.8" fill="url(#gB)"/><circle cx="40.4" cy="48.6" r="2.4" fill="url(#gW)"/><circle cx="38" cy="76" r="2.8" fill="url(#gP)"/><circle cx="27.4" cy="54.3" r="3.4" fill="url(#gW)"/><circle cx="64" cy="84" r="3.4" fill="url(#gO)"/><circle cx="175.4" cy="97.5" r="3.9" fill="url(#gL)"/><circle cx="120.7" cy="43.9" r="3.4" fill="url(#gL)"/><circle cx="47.5" cy="113.8" r="3.7" fill="url(#gO)"/><circle cx="19.7" cy="117.4" r="3.6" fill="url(#gP)"/><circle cx="79.4" cy="86.5" r="3.8" fill="url(#gW)"/><circle cx="189.1" cy="87.4" r="2.5" fill="url(#gB)"/><circle cx="189.7" cy="80.3" r="3.9" fill="url(#gB)"/><circle cx="110.8" cy="94.5" r="3.2" fill="url(#gB)"/><circle cx="61.9" cy="112.9" r="2.5" fill="url(#gL)"/><circle cx="61.9" cy="79.2" r="2.8" fill="url(#gO)"/><circle cx="75.1" cy="157.4" r="2.9" fill="url(#gB)"/><circle cx="155.3" cy="64.9" r="3.2" fill="url(#gW)"/><circle cx="163.9" cy="85.8" r="3.4" fill="url(#gO)"/><circle cx="78.2" cy="114.9" r="3.4" fill="url(#gB)"/><circle cx="104" cy="102" r="2.5" fill="url(#gB)"/><circle cx="157.7" cy="85.3" r="3.3" fill="url(#gW)"/><circle cx="198.5" cy="84.7" r="2.7" fill="url(#gB)"/><circle cx="114.3" cy="171.6" r="3" fill="url(#gB)"/><circle cx="11.8" cy="76" r="3.1" fill="url(#gB)"/><circle cx="115.3" cy="161.6" r="2.5" fill="url(#gB)"/><circle cx="104.9" cy="137.3" r="3.6" fill="url(#gB)"/><circle cx="16.4" cy="59.5" r="2.6" fill="url(#gB)"/><circle cx="142.7" cy="69.4" r="3.8" fill="url(#gO)"/><circle cx="12.1" cy="82.3" r="3.9" fill="url(#gL)"/><circle cx="133.4" cy="103.5" r="3.8" fill="url(#gW)"/><circle cx="210.9" cy="75.1" r="2.6" fill="url(#gW)"/><circle cx="112.6" cy="154.6" r="2.9" fill="url(#gB)"/><circle cx="177.3" cy="52.4" r="3.8" fill="url(#gP)"/><circle cx="105.1" cy="119.2" r="3.7" fill="url(#gW)"/><circle cx="103.5" cy="39" r="3.4" fill="url(#gO)"/><circle cx="185.5" cy="76.8" r="3" fill="url(#gB)"/><circle cx="202.2" cy="87.7" r="3.1" fill="url(#gP)"/><circle cx="27.3" cy="72.2" r="3.6" fill="url(#gB)"/><circle cx="109.4" cy="164.8" r="3.9" fill="url(#gB)"/><circle cx="72.6" cy="113.9" r="3.7" fill="url(#gB)"/><circle cx="138.8" cy="72.9" r="2.6" fill="url(#gO)"/><circle cx="93.6" cy="142" r="3.7" fill="url(#gB)"/><circle cx="111" cy="141.8" r="2.8" fill="url(#gB)"/><circle cx="70.8" cy="69.6" r="2.6" fill="url(#gO)"/><circle cx="75.4" cy="73.2" r="3.2" fill="url(#gO)"/><circle cx="117.9" cy="56.5" r="3.6" fill="url(#gB)"/><circle cx="55.6" cy="123.1" r="2.5" fill="url(#gW)"/><circle cx="98.4" cy="39.5" r="2.7" fill="url(#gW)"/><circle cx="205.5" cy="99.6" r="2.5" fill="url(#gO)"/><circle cx="100.8" cy="62.8" r="3.2" fill="url(#gL)"/><circle cx="206.7" cy="111.6" r="2.6" fill="url(#gW)"/><circle cx="79.4" cy="74" r="2.7" fill="url(#gO)"/><circle cx="97.3" cy="109.6" r="2.9" fill="url(#gP)"/><circle cx="178" cy="83.3" r="2.9" fill="url(#gO)"/><circle cx="21.1" cy="80" r="3.9" fill="url(#gB)"/><circle cx="111.2" cy="118.8" r="3.9" fill="url(#gO)"/><circle cx="104.4" cy="134" r="2.5" fill="url(#gB)"/><circle cx="134.1" cy="55.3" r="3.2" fill="url(#gO)"/><circle cx="27.9" cy="112.9" r="2.9" fill="url(#gL)"/><circle cx="19.8" cy="65.6" r="2.9" fill="url(#gO)"/><circle cx="35.2" cy="39.1" r="3.3" fill="url(#gB)"/><circle cx="91.2" cy="126.5" r="3.6" fill="url(#gW)"/><circle cx="70.8" cy="132.2" r="3.6" fill="url(#gW)"/><circle cx="133.1" cy="75.8" r="2.9" fill="url(#gB)"/><circle cx="125.9" cy="72.2" r="2.6" fill="url(#gW)"/><circle cx="24.9" cy="81.9" r="3.1" fill="url(#gL)"/><circle cx="135.9" cy="59.6" r="3.7" fill="url(#gW)"/><circle cx="11.1" cy="56.7" r="2.3" fill="url(#gB)"/><circle cx="12.5" cy="53.6" r="2.2" fill="url(#gB)"/><circle cx="14" cy="50.5" r="2.2" fill="url(#gB)"/><circle cx="15.4" cy="47.4" r="2.1" fill="url(#gP)"/><circle cx="17.6" cy="44.5" r="2.2" fill="url(#gP)"/><circle cx="20.4" cy="41.4" r="1.8" fill="url(#gL)"/><circle cx="23.3" cy="38" r="2.1" fill="url(#gB)"/><circle cx="27.5" cy="35" r="1.9" fill="url(#gL)"/><circle cx="32.3" cy="34.2" r="1.8" fill="url(#gB)"/><circle cx="36.1" cy="35.7" r="1.6" fill="url(#gB)"/><circle cx="39.6" cy="37.4" r="1.5" fill="url(#gW)"/><circle cx="43" cy="39.2" r="1.6" fill="url(#gB)"/><circle cx="46.2" cy="40.7" r="2.1" fill="url(#gB)"/><circle cx="49.6" cy="41.6" r="2" fill="url(#gB)"/><circle cx="52.7" cy="41.4" r="2" fill="url(#gB)"/><circle cx="55.5" cy="39.9" r="1.8" fill="url(#gB)"/><circle cx="58.9" cy="36.9" r="1.9" fill="url(#gO)"/><circle cx="63.1" cy="33" r="1.6" fill="url(#gO)"/><circle cx="68.3" cy="32.5" r="2.3" fill="url(#gO)"/><circle cx="73.6" cy="35.4" r="1.9" fill="url(#gW)"/><circle cx="78.8" cy="36.8" r="1.7" fill="url(#gW)"/><circle cx="83.5" cy="36.1" r="1.8" fill="url(#gL)"/><circle cx="87.3" cy="35.6" r="1.6" fill="url(#gB)"/><circle cx="91.1" cy="35.6" r="2" fill="url(#gB)"/><circle cx="94.9" cy="36.1" r="1.8" fill="url(#gW)"/><circle cx="98.7" cy="35.5" r="1.6" fill="url(#gB)"/><circle cx="102.5" cy="33.5" r="2.2" fill="url(#gB)"/><circle cx="107.2" cy="33" r="1.6" fill="url(#gO)"/><circle cx="111.5" cy="34.2" r="1.5" fill="url(#gO)"/><circle cx="114.3" cy="35.7" r="1.9" fill="url(#gO)"/><circle cx="118.6" cy="37.3" r="2.2" fill="url(#gB)"/><circle cx="122.8" cy="39.2" r="1.9" fill="url(#gB)"/><circle cx="125.7" cy="41.1" r="1.9" fill="url(#gB)"/><circle cx="129.1" cy="44.3" r="1.5" fill="url(#gB)"/><circle cx="133.4" cy="46.5" r="1.8" fill="url(#gO)"/><circle cx="138" cy="46.5" r="1.9" fill="url(#gO)"/><circle cx="142.6" cy="48.4" r="2" fill="url(#gO)"/><circle cx="146.4" cy="51.1" r="1.6" fill="url(#gO)"/><circle cx="149.2" cy="50.8" r="2.2" fill="url(#gB)"/><circle cx="151.4" cy="48.4" r="1.8" fill="url(#gW)"/><circle cx="154.9" cy="45.8" r="2.2" fill="url(#gW)"/><circle cx="159.9" cy="44.6" r="1.7" fill="url(#gB)"/><circle cx="163.2" cy="46.7" r="1.6" fill="url(#gW)"/><circle cx="164.3" cy="50.2" r="1.9" fill="url(#gW)"/><circle cx="167.2" cy="53.4" r="1.7" fill="url(#gB)"/><circle cx="171" cy="52.6" r="2.3" fill="url(#gB)"/><circle cx="174.3" cy="49" r="2.3" fill="url(#gB)"/><circle cx="178.4" cy="46.9" r="1.8" fill="url(#gB)"/><circle cx="182.3" cy="44.2" r="2.1" fill="url(#gB)"/><circle cx="186.2" cy="42" r="1.6" fill="url(#gW)"/><circle cx="191.2" cy="42.4" r="1.8" fill="url(#gW)"/><circle cx="195.2" cy="46" r="1.9" fill="url(#gL)"/><circle cx="196.8" cy="50.2" r="2" fill="url(#gB)"/><circle cx="197.4" cy="53.5" r="1.8" fill="url(#gB)"/><circle cx="198" cy="56.7" r="2.1" fill="url(#gO)"/><circle cx="200.1" cy="59.1" r="2.1" fill="url(#gB)"/><circle cx="202.7" cy="62" r="1.9" fill="url(#gB)"/><circle cx="204.4" cy="66" r="1.9" fill="url(#gB)"/><circle cx="207.1" cy="69.8" r="1.9" fill="url(#gW)"/><circle cx="210.2" cy="73.3" r="2" fill="url(#gW)"/><circle cx="211.7" cy="77.2" r="1.6" fill="url(#gW)"/><circle cx="212.2" cy="81.8" r="2.2" fill="url(#gW)"/><circle cx="211.9" cy="86.2" r="2.2" fill="url(#gW)"/><circle cx="212.2" cy="89.9" r="2" fill="url(#gO)"/><circle cx="213.5" cy="93" r="1.5" fill="url(#gL)"/><circle cx="216.8" cy="95.7" r="1.8" fill="url(#gW)"/><circle cx="222.2" cy="98.1" r="1.5" fill="url(#gW)"/><circle cx="225.4" cy="101.7" r="2" fill="url(#gW)"/><circle cx="225.4" cy="106.1" r="1.5" fill="url(#gW)"/><circle cx="223" cy="110.5" r="1.9" fill="url(#gW)"/><circle cx="219" cy="112.7" r="1.9" fill="url(#gW)"/><circle cx="214.2" cy="112.2" r="1.7" fill="url(#gW)"/><circle cx="210.2" cy="114.4" r="2" fill="url(#gB)"/><circle cx="207.1" cy="118" r="2.1" fill="url(#gB)"/><circle cx="203.6" cy="118.5" r="1.5" fill="url(#gB)"/><circle cx="200.5" cy="117.1" r="1.5" fill="url(#gL)"/><circle cx="197.8" cy="118.4" r="2.3" fill="url(#gL)"/><circle cx="194.8" cy="120.6" r="1.5" fill="url(#gL)"/><circle cx="192.1" cy="117.9" r="2.2" fill="url(#gL)"/><circle cx="189.4" cy="113.2" r="2.2" fill="url(#gB)"/><circle cx="185.9" cy="110.1" r="2" fill="url(#gP)"/><circle cx="183.2" cy="107.4" r="1.6" fill="url(#gP)"/><circle cx="180.6" cy="105.6" r="1.6" fill="url(#gB)"/><circle cx="176.2" cy="105.2" r="1.8" fill="url(#gB)"/><circle cx="172.1" cy="103.7" r="1.6" fill="url(#gB)"/><circle cx="169.4" cy="101.8" r="1.5" fill="url(#gW)"/><circle cx="166.7" cy="100" r="1.7" fill="url(#gW)"/><circle cx="163.6" cy="96.9" r="1.9" fill="url(#gB)"/><circle cx="159.2" cy="94.2" r="2.2" fill="url(#gW)"/><circle cx="154.9" cy="93.3" r="2.2" fill="url(#gW)"/><circle cx="151.9" cy="92.5" r="1.7" fill="url(#gW)"/><circle cx="148.8" cy="93.1" r="2.3" fill="url(#gW)"/><circle cx="145.7" cy="95.4" r="2.1" fill="url(#gO)"/><circle cx="143.5" cy="98" r="1.5" fill="url(#gO)"/><circle cx="142.2" cy="101.2" r="1.7" fill="url(#gO)"/><circle cx="139.9" cy="103.3" r="1.7" fill="url(#gO)"/><circle cx="136.9" cy="104.7" r="2.1" fill="url(#gB)"/><circle cx="134" cy="107.9" r="2" fill="url(#gB)"/><circle cx="133.1" cy="112.8" r="2" fill="url(#gB)"/><circle cx="134.8" cy="117.7" r="2.2" fill="url(#gB)"/><circle cx="135.8" cy="122.5" r="1.9" fill="url(#gL)"/><circle cx="133.1" cy="127" r="2.2" fill="url(#gB)"/><circle cx="129.2" cy="130.9" r="2.3" fill="url(#gB)"/><circle cx="127.4" cy="135.3" r="2" fill="url(#gL)"/><circle cx="128.2" cy="140.7" r="2.3" fill="url(#gO)"/><circle cx="129.1" cy="145.2" r="2.2" fill="url(#gO)"/><circle cx="129" cy="149" r="2.3" fill="url(#gO)"/><circle cx="128.7" cy="152.7" r="1.5" fill="url(#gO)"/><circle cx="127.9" cy="156.4" r="1.5" fill="url(#gO)"/><circle cx="125.8" cy="160.4" r="2" fill="url(#gO)"/><circle cx="123.8" cy="164.8" r="1.9" fill="url(#gB)"/><circle cx="123.4" cy="169.1" r="1.6" fill="url(#gB)"/><circle cx="122.7" cy="173.3" r="2.3" fill="url(#gB)"/><circle cx="121.5" cy="177.3" r="1.6" fill="url(#gB)"/><circle cx="118.5" cy="180.1" r="1.8" fill="url(#gB)"/><circle cx="114.4" cy="180.1" r="1.5" fill="url(#gB)"/><circle cx="111.5" cy="178.6" r="2.1" fill="url(#gB)"/><circle cx="107.1" cy="177.2" r="2.2" fill="url(#gL)"/><circle cx="103.5" cy="173.9" r="2.2" fill="url(#gL)"/><circle cx="103" cy="169.6" r="1.5" fill="url(#gW)"/><circle cx="103.5" cy="166.2" r="2.3" fill="url(#gB)"/><circle cx="104" cy="162.7" r="2.2" fill="url(#gB)"/><circle cx="104.8" cy="159.2" r="2" fill="url(#gB)"/><circle cx="105.9" cy="155.6" r="1.8" fill="url(#gB)"/><circle cx="105.9" cy="151.6" r="2.1" fill="url(#gB)"/><circle cx="104.8" cy="147.2" r="1.8" fill="url(#gB)"/><circle cx="102.1" cy="145.8" r="2.1" fill="url(#gP)"/><circle cx="97" cy="147.2" r="1.6" fill="url(#gL)"/><circle cx="92.9" cy="149.4" r="1.6" fill="url(#gP)"/><circle cx="90.7" cy="152.4" r="2.1" fill="url(#gP)"/><circle cx="87.8" cy="154.5" r="2.1" fill="url(#gP)"/><circle cx="84.1" cy="156" r="1.9" fill="url(#gB)"/><circle cx="80.5" cy="157.4" r="1.7" fill="url(#gL)"/><circle cx="76.8" cy="158.9" r="2.1" fill="url(#gB)"/><circle cx="74.3" cy="161.2" r="1.9" fill="url(#gL)"/><circle cx="72.8" cy="164.5" r="1.8" fill="url(#gB)"/><circle cx="70.3" cy="168.1" r="1.9" fill="url(#gB)"/><circle cx="67" cy="167.7" r="2.1" fill="url(#gB)"/><circle cx="63" cy="164.1" r="1.9" fill="url(#gL)"/><circle cx="58.6" cy="161.1" r="2" fill="url(#gW)"/><circle cx="57" cy="157.4" r="2.1" fill="url(#gB)"/><circle cx="57.3" cy="153.1" r="1.7" fill="url(#gB)"/><circle cx="58.6" cy="149.1" r="2.1" fill="url(#gB)"/><circle cx="60.8" cy="145.4" r="1.9" fill="url(#gB)"/><circle cx="61.2" cy="141.9" r="2.2" fill="url(#gP)"/><circle cx="59.7" cy="138.7" r="1.9" fill="url(#gO)"/><circle cx="57.8" cy="136.2" r="2" fill="url(#gO)"/><circle cx="55.3" cy="134.2" r="1.6" fill="url(#gO)"/><circle cx="53" cy="131.8" r="2" fill="url(#gB)"/><circle cx="49.5" cy="130.1" r="2" fill="url(#gP)"/><circle cx="44.2" cy="128.9" r="2.1" fill="url(#gB)"/><circle cx="39.7" cy="126.8" r="1.6" fill="url(#gB)"/><circle cx="36.8" cy="123.9" r="1.8" fill="url(#gB)"/><circle cx="33.8" cy="121.2" r="1.5" fill="url(#gB)"/><circle cx="30.9" cy="118.9" r="1.9" fill="url(#gL)"/><circle cx="26.5" cy="117.7" r="2" fill="url(#gL)"/><circle cx="22.1" cy="118.6" r="1.7" fill="url(#gP)"/><circle cx="19.2" cy="120.3" r="2.1" fill="url(#gP)"/><circle cx="15.9" cy="120.1" r="1.7" fill="url(#gP)"/><circle cx="12.9" cy="116.6" r="1.6" fill="url(#gP)"/><circle cx="10.6" cy="113" r="2.2" fill="url(#gL)"/><circle cx="8.3" cy="110.6" r="1.5" fill="url(#gB)"/><circle cx="7.6" cy="106.5" r="1.7" fill="url(#gB)"/><circle cx="9.8" cy="102.1" r="2.2" fill="url(#gB)"/><circle cx="13.1" cy="99.2" r="2.1" fill="url(#gB)"/><circle cx="14.4" cy="95.3" r="1.6" fill="url(#gP)"/><circle cx="13.5" cy="91.5" r="2" fill="url(#gB)"/><circle cx="12.4" cy="88.5" r="1.7" fill="url(#gW)"/><circle cx="10.9" cy="84.7" r="2.1" fill="url(#gB)"/><circle cx="10.1" cy="80.4" r="2.1" fill="url(#gB)"/><circle cx="10.3" cy="76.3" r="2" fill="url(#gB)"/><circle cx="10.9" cy="71.4" r="2" fill="url(#gB)"/><circle cx="10.4" cy="65.8" r="1.7" fill="url(#gB)"/><circle cx="9.9" cy="60.6" r="1.9" fill="url(#gB)"/></g><g fill="none" stroke-linecap="round" stroke-linejoin="round"><path d="M314.7,67.4C313.4,65.9 309.6,60.5 307.1,58C304.6,55.4 301.1,54.5 299.5,52.3C297.9,50 297,47.5 297.6,44.7C298.3,41.8 301.4,37.1 303.3,35.2C305.2,33.3 307.1,33.3 309,33.3C310.9,33.3 312.8,34.5 314.7,35.2C316.6,35.8 318.8,36.4 320.4,37.1C322,37.7 323.7,37.4 324.2,39C324.7,40.6 323.6,44.7 323.2,46.6C322.9,48.5 321.8,49.1 322.3,50.4C322.8,51.6 325.1,52.3 326.1,54.2C327,56.1 327.3,59.2 328,61.7C328.6,64.3 328.9,68.7 329.9,69.3C330.8,70 331.8,66.5 333.7,65.5C335.6,64.6 339,63 341.3,63.6C343.5,64.3 345.7,67.1 347,69.3C348.2,71.5 348.5,75.7 348.9,76.9" stroke="#e3101a" stroke-width="1.25"/><path d="M307.1,48.5C306.9,49.3 306,51.9 306.2,53.2C306.3,54.5 307.6,56.2 308.1,56.1C308.5,55.9 309.2,53.5 309,52.3C308.8,51 307.4,49.1 307.1,48.5" stroke="#e3101a" stroke-width="1.25"/><path d="M353.9,27.2C352.8,27.9 347.9,29.7 347.2,31.2C346.6,32.8 349.9,34.5 349.9,36.5C349.9,38.5 346.1,42.5 347.2,43.1C348.3,43.8 354.6,41.4 356.5,40.5C358.4,39.6 358.7,37.2 358.5,37.8C358.3,38.5 355.7,42.5 355.2,44.5C354.6,46.5 354.1,48.9 355.2,49.8C356.3,50.7 361.4,49.3 361.8,49.8C362.3,50.2 359.2,51.3 357.8,52.4C356.5,53.5 354.5,55.7 353.9,56.4" stroke="#e3101a" stroke-width="1.25"/><path d="M365.8,63C365.6,64.6 364,69.9 364.5,72.3C364.9,74.7 366.3,76.5 368.4,77.6C370.5,78.7 376.2,77.6 377.1,78.9C377.9,80.3 374.6,83.6 373.7,85.6C372.9,87.5 372.9,90.2 371.8,90.9C370.7,91.5 368.8,90 367.1,89.5C365.5,89.1 363.6,87.3 361.8,88.2C360,89.1 357.6,92.9 356.5,94.8C355.4,96.8 355.4,99.1 355.2,100" stroke="#e3101a" stroke-width="1.25"/><path d="M343.3,51.1C343.9,50.9 346.1,49.1 347.2,49.8C348.3,50.4 349.4,52.4 349.9,55.1C350.3,57.7 349.2,62.6 349.9,65.7C350.5,68.8 353.4,71.4 353.9,73.6C354.3,75.8 353.9,78 352.5,78.9C351.2,79.8 347.9,79.8 345.9,78.9C343.9,78 341.9,75.4 340.6,73.6C339.3,71.9 338.8,70.1 338,68.3C337.1,66.6 336.2,63.7 335.3,63C334.4,62.4 333.5,63.5 332.7,64.3C331.8,65.2 330.4,67.7 330,68.3" stroke="#e3101a" stroke-width="1.25"/><path d="M340.6,52.4C340.2,53.3 339.1,56.4 338,57.7C336.8,59 335.1,59.5 334,60.4C332.9,61.3 332.7,62.1 331.3,63C330,63.9 326.9,65.2 326,65.7" stroke="#e3101a" stroke-width="1.25"/><path d="M335.3,73.6C335.7,73.4 337.1,72.1 338,72.3C338.8,72.5 340.6,74.1 340.6,75C340.6,75.8 338.8,77.4 338,77.6C337.1,77.8 335.7,76.9 335.3,76.3C334.9,75.6 335.3,74.1 335.3,73.6" stroke="#e3101a" stroke-width="1.25"/><path d="M345.9,84.2C346.1,85.6 346.3,90.4 347.2,92.2C348.1,94 350.3,95.5 351.2,94.8C352.1,94.2 352.8,90.1 352.5,88.2C352.3,86.3 351,84.2 349.9,83.6C348.8,82.9 346.6,84.1 345.9,84.2" stroke="#e3101a" stroke-width="1.25"/><path d="M239.6,88.5C240.4,88.2 242.4,87.6 244.3,86.5C246.2,85.4 248.3,82.8 250.9,81.9C253.6,81 258.9,80.4 260.2,81.2C261.5,82 258.6,83.6 258.9,86.5C259.1,89.4 261.3,94.5 261.5,98.4C261.7,102.4 260.2,106.4 260.2,110.4C260.2,114.3 261.1,118.3 261.5,122.3C262,126.3 262.2,130.5 262.8,134.2C263.5,138 264.8,141.7 265.5,144.8C266.2,147.9 266.6,151.5 266.8,152.8" stroke="#e3101a" stroke-width="1.25"/><path d="M239.6,88.5C240.2,89.5 242.2,92.6 243,94.5C243.7,96.3 243.4,98.2 244.3,99.8C245.2,101.3 246.5,103.2 248.3,103.7C250,104.3 252.7,104 254.9,103.1C257.1,102.2 259.5,99.7 261.5,98.4C263.5,97.2 264.8,97.1 266.8,95.8C268.8,94.5 271.2,92 273.4,90.5C275.7,88.9 277.2,87.6 280.1,86.5C282.9,85.4 288.5,85 290.7,83.9C292.9,82.8 293.1,81.7 293.3,79.9C293.5,78.1 292.7,74.8 292,73.3C291.3,71.7 289.8,71 289.3,70.6" stroke="#e3101a" stroke-width="1.25"/><path d="M272.1,77.2C272.8,78.3 275,81.2 276.1,83.9C277.2,86.5 277.9,89.8 278.7,93.1C279.6,96.5 281.2,100.4 281.4,103.7C281.6,107.1 280.5,110.8 280.1,113C279.6,115.2 278.5,115.5 278.7,117C279,118.5 280.5,120.3 281.4,122.3C282.3,124.3 283.6,127.8 284,128.9" stroke="#e3101a" stroke-width="1.25"/><path d="M247.6,117C248.4,117.4 250.4,119.9 252.2,119.7C254.1,119.4 257.5,117.2 258.9,115.7C260.2,114.1 260,111.3 260.2,110.4" stroke="#e3101a" stroke-width="1.25"/><path d="M246.9,136.9C248.3,135.8 251.3,131.8 254.9,130.3C258.4,128.7 264.2,128.5 268.1,127.6C272.1,126.7 275.4,125.8 278.7,125C282.1,124.1 285.4,123.4 288,122.3C290.7,121.2 292,119.9 294.7,118.3C297.3,116.8 301.5,114.3 303.9,113C306.4,111.7 306.6,110.6 309.2,110.4C311.9,110.2 317.2,110.8 319.8,111.7C322.5,112.6 324.1,115 325,115.7" stroke="#e3101a" stroke-width="1.25"/><path d="M290.7,95.8C292.9,95.1 302.2,91.4 303.9,91.8C305.7,92.3 303,96.9 301.3,98.4C299.5,100 296,100 293.3,101.1C290.7,102.2 287.4,103.5 285.4,105.1C283.4,106.6 282.5,108.6 281.4,110.4C280.3,112.1 279.2,114.8 278.7,115.7" stroke="#e3101a" stroke-width="1.25"/><path d="M288,131.6C288.7,130.9 290.2,127.8 292,127.6C293.8,127.4 296.9,130.5 298.6,130.3C300.4,130 300.8,126.7 302.6,126.3C304.4,125.8 307.2,127.2 309.2,127.6C311.2,128 312.8,129.1 314.5,128.9C316.3,128.7 318.1,127.2 319.8,126.3C321.6,125.4 324.1,124.1 325,123.6" stroke="#e3101a" stroke-width="1.25"/><path d="M246.9,136.9C247.2,138.2 247.4,142.6 248.3,144.8C249.1,147 251.6,149.1 252.2,150" stroke="#e3101a" stroke-width="1.25"/><path d="M246.4,136.4C247,137.4 249.4,139.9 250.2,142.1C251,144.3 250.5,147.2 251.1,149.7C251.8,152.2 252.9,155.1 254,157.3C255.1,159.5 256.5,162.3 257.8,163C259,163.6 260.6,162.7 261.6,161.1C262.5,159.5 263.3,159.2 263.5,153.5C263.6,147.8 262.5,134.5 262.5,126.9C262.5,119.3 263,113.3 263.5,108C263.9,102.6 265,96.9 265.4,94.7" stroke="#e3101a" stroke-width="1.25"/><path d="M238.8,89C239.4,89.3 241.5,89.9 242.6,90.9C243.7,91.8 245.1,93.1 245.4,94.7C245.8,96.2 244,98.8 244.5,100.4C245,101.9 246.7,102.9 248.3,104.2C249.9,105.4 251.8,107.6 254,108C256.2,108.3 260.3,106.4 261.6,106.1" stroke="#e3101a" stroke-width="1.25"/><path d="M263.5,126.9C266.6,126.3 276.1,124.1 282.4,123.1C288.8,122.2 295.1,121.7 301.4,121.2C307.7,120.8 314.4,120.3 320.4,120.3C326.4,120.3 333.4,120.8 337.5,121.2C341.6,121.7 341.9,122.2 345.1,123.1C348.2,124.1 353.1,126.6 356.4,126.9C359.8,127.2 363.6,125.3 365,125" stroke="#e3101a" stroke-width="1.25"/><path d="M297.6,159.2C298.6,157.9 300.5,153.8 303.3,151.6C306.2,149.4 310.3,146.2 314.7,145.9C319.1,145.6 325.4,148.1 329.9,149.7C334.3,151.3 340,153.8 341.3,155.4C342.5,157 340.9,158.2 337.5,159.2C334,160.1 325.4,160.1 320.4,161.1C315.3,162 310.9,165.2 307.1,164.9C303.3,164.6 299.2,160.1 297.6,159.2" stroke="#e3101a" stroke-width="1.25"/><path d="M288.1,94.7C289.7,94.4 294.8,93.1 297.6,92.8C300.5,92.5 304.6,91.8 305.2,92.8C305.8,93.7 303.6,96.9 301.4,98.5C299.2,100 294.8,100.7 291.9,102.3C289.1,103.8 286.5,105.7 284.3,108C282.1,110.2 279.9,113 278.6,115.5C277.4,118.1 277.7,120.3 276.7,123.1C275.8,126 274.2,129.5 273,132.6C271.7,135.8 269.8,140.5 269.2,142.1" stroke="#e3101a" stroke-width="1.25"/><path d="M246.4,136.4C248.3,135.8 253.3,132.9 257.8,132.6C262.2,132.3 268.5,133.6 273,134.5C277.4,135.5 280.2,137 284.3,138.3C288.4,139.6 293.2,141.8 297.6,142.1C302,142.4 308.7,140.5 310.9,140.2" stroke="#e3101a" stroke-width="1.25"/><path d="M254,157.3C256.2,157.6 263.1,159.8 267.3,159.2C271.4,158.6 274.5,155.1 278.6,153.5C282.8,151.9 287.8,150 291.9,149.7C296,149.4 301.4,151.3 303.3,151.6" stroke="#e3101a" stroke-width="1.25"/><path d="M348.9,85.2C349.5,86.4 351.4,89.6 352.6,92.8C353.9,95.9 355.2,99.7 356.4,104.2C357.7,108.6 359.9,114.3 360.2,119.3C360.6,124.4 359.6,129.5 358.3,134.5C357.1,139.6 354.2,145.6 352.6,149.7C351.1,153.8 348.9,156.7 348.9,159.2C348.9,161.7 352,163.9 352.6,164.9" stroke="#e3101a" stroke-width="1.25"/><path d="M345.1,92.8C345.7,95.3 348.5,102.3 348.9,108C349.2,113.6 348.2,121.2 347,126.9C345.7,132.6 340.9,138.9 341.3,142.1C341.6,145.3 345.7,144.6 348.9,145.9C352,147.2 358.3,149.1 360.2,149.7" stroke="#e3101a" stroke-width="1.25"/><path d="M350,70C350.6,70.9 353.8,73.8 353.8,75.7C353.8,77.6 350,79.5 350,81.4C350,83.3 351.9,86.4 353.8,87.1C355.7,87.7 358.9,84.9 361.4,85.2C363.9,85.5 367.1,88.3 369,89C370.9,89.6 371.8,89.9 372.8,89C373.7,88 374,84.9 374.7,83.3C375.3,81.7 377.5,80.4 376.6,79.5C375.6,78.5 370.9,78.5 369,77.6C367.1,76.6 366.4,75.1 365.2,73.8C363.9,72.5 362,70.6 361.4,70" stroke="#e3101a" stroke-width="1.25"/><path d="M363.3,104.2C365.8,104.2 373.7,103.7 378.5,104.2C383.2,104.6 388.9,105.9 391.7,107C394.6,108.1 393,110 395.5,110.8C398.1,111.6 401.9,111.7 406.9,111.7C412,111.7 420.8,111.7 425.9,110.8C431,109.8 433.2,108.4 437.3,106.1C441.4,103.7 446.5,99.6 450.6,96.6C454.7,93.6 459.6,89 462,88C464.3,87.1 464.5,89.1 464.8,90.9C465.1,92.6 465.3,95.9 463.9,98.5C462.4,101 460.1,104.5 456.3,106.1C452.5,107.6 445.5,107.2 441.1,108C436.7,108.7 431.6,110.3 429.7,110.8" stroke="#e3101a" stroke-width="1.25"/><path d="M463.9,98.5C465.1,97.8 468.8,95.3 471.4,94.7C474.1,94 478.6,94.7 480,94.7" stroke="#e3101a" stroke-width="1.25"/><path d="M465.7,98.5C465.1,100 462.9,104.8 462,108C461,111.1 461,114.9 460.1,117.4C459.1,120 459.4,120.9 456.3,123.1C453.1,125.3 444.9,128.8 441.1,130.7C437.3,132.6 434.8,133.9 433.5,134.5" stroke="#e3101a" stroke-width="1.25"/><path d="M463.9,116.5C464.5,117 467.2,117.9 467.6,119.3C468.1,120.8 467.3,123.8 466.7,125C466.1,126.3 464.6,126 463.9,126.9C463.1,127.9 462.6,128.5 462,130.7C461.3,132.9 461,137.4 460.1,140.2C459.1,143.1 458.2,146.9 456.3,147.8C454.4,148.7 450.6,145.6 448.7,145.9C446.8,146.2 446.8,148.4 444.9,149.7C443,151 439.2,154.1 437.3,153.5C435.4,152.9 433.8,149.4 433.5,145.9C433.2,142.4 435.1,134.8 435.4,132.6" stroke="#e3101a" stroke-width="1.25"/><path d="M350,126.9C351.9,127.2 358.2,127.9 361.4,128.8C364.5,129.8 366.1,131 369,132.6C371.8,134.2 375.3,137 378.5,138.3C381.6,139.6 384.5,139.6 388,140.2C391.4,140.8 396.2,142.1 399.3,142.1C402.5,142.1 404.4,141.8 406.9,140.2C409.5,138.6 411.4,134 414.5,132.6C417.7,131.2 422.4,131.7 425.9,131.7C429.4,131.7 432.2,133.1 435.4,132.6C438.6,132.1 443.3,129.5 444.9,128.8" stroke="#e3101a" stroke-width="1.25"/><path d="M363.3,104.2C363.3,106.4 363.6,113.6 363.3,117.4C363,121.2 361.7,122.8 361.4,126.9C361.1,131 361.4,137 361.4,142.1C361.4,147.2 361.4,154.8 361.4,157.3" stroke="#e3101a" stroke-width="1.25"/><path d="M370.9,113.6C371.5,114.6 373.1,119.3 374.7,119.3C376.2,119.3 378.8,114.9 380.4,113.6C381.9,112.4 383.2,110.8 384.2,111.7C385.1,112.7 385.4,116.8 386.1,119.3C386.7,121.9 386.7,126.3 388,126.9C389.2,127.6 391.7,123.1 393.6,123.1C395.5,123.1 397.8,125 399.3,126.9C400.9,128.8 402.2,132 403.1,134.5C404.1,137 405.3,139.6 405,142.1C404.7,144.6 400.9,147.5 401.2,149.7C401.5,151.9 404.7,154.8 406.9,155.4C409.1,156 412.9,155.7 414.5,153.5C416.1,151.3 415.8,145.3 416.4,142.1C417,138.9 418,135.8 418.3,134.5" stroke="#e3101a" stroke-width="1.25"/><path d="M350,142.1C351.9,143.4 357,148.1 361.4,149.7C365.8,151.3 372.1,152.2 376.6,151.6C381,151 386.1,146.9 388,145.9" stroke="#e3101a" stroke-width="1.25"/><path d="M418.3,113.6C418.9,114.3 421.6,115.5 422.1,117.4C422.6,119.3 421.3,123.8 421.2,125" stroke="#e3101a" stroke-width="1.25"/><path d="M297.2,45C297.4,46 297.6,49.5 298.2,51.2C298.9,52.9 300.1,54.6 301.3,55.3C302.5,56 304.4,55.8 305.5,55.3C306.5,54.8 307.1,53.4 307.5,52.2C308,51 308.2,49.1 308,48.1C307.9,47.1 306.9,45.9 306.5,46C306.1,46.2 305.5,47.6 305.5,49.1C305.5,50.7 305.8,53.4 306.5,55.3C307.2,57.2 308.6,58.9 309.6,60.5C310.6,62 311.8,63.6 312.7,64.6C313.5,65.6 314.1,66 314.7,66.6C315.4,67.3 316.5,68.4 316.8,68.7" stroke="#e3101a" stroke-width="1.25"/><path d="M324,45C323.8,45.7 322.8,48.1 323,49.1C323.2,50.2 324.5,50.5 325.1,51.2C325.7,51.9 326.5,52.2 326.6,53.2C326.7,54.3 325.7,56 325.6,57.4C325.5,58.7 325.8,60.3 326.1,61.5C326.3,62.7 326.4,63.7 327.1,64.6C327.8,65.4 329.7,66.3 330.2,66.6" stroke="#e3101a" stroke-width="1.25"/><path d="M308.6,69.7C309.2,69.6 311.3,68.7 312.7,68.7C314.1,68.7 315.4,69.6 316.8,69.7C318.2,69.9 319.6,69.9 320.9,69.7C322.3,69.6 324.2,68.4 325.1,68.7C325.9,69.1 326.4,70.6 326.1,71.8C325.7,73 324.2,74.9 323,75.9C321.8,77 320.1,78 318.9,78C317.7,78 316.6,76.8 315.8,75.9C314.9,75.1 314.6,73.5 313.7,72.8C312.9,72.1 311.6,71.6 310.6,71.8C309.7,72 308.6,73 308,73.9C307.5,74.7 307.1,76.3 307.5,77C308,77.6 310.1,77.8 310.6,78" stroke="#e3101a" stroke-width="1.25"/><path d="M316.8,70.8C317.5,70.3 319.7,68.4 320.9,67.7C322.1,67 322.6,67.2 324,66.6C325.4,66.1 327.6,65.3 329.2,64.6C330.7,63.9 331.9,62.7 333.3,62.5C334.7,62.4 336.2,63.2 337.4,63.6C338.6,63.9 339.8,63.7 340.5,64.6C341.2,65.4 341.7,67.2 341.5,68.7C341.4,70.3 340.5,72.7 339.5,73.9C338.5,75.1 336.7,75.6 335.4,75.9C334,76.3 332.3,76.3 331.2,75.9C330.2,75.6 329.9,74.7 329.2,73.9C328.5,73 327.3,71.8 327.1,70.8C326.9,69.7 327.5,68.5 328.1,67.7C328.8,66.8 330.7,66 331.2,65.6" stroke="#e3101a" stroke-width="1.25"/><path d="M334.3,57.4C334.8,56.9 336.2,55.3 337.4,54.3C338.6,53.2 340.2,51.9 341.5,51.2C342.9,50.5 344.5,49.8 345.7,50.2C346.9,50.5 347.9,52 348.8,53.2C349.6,54.5 350.3,55.7 350.8,57.4C351.3,59.1 351.5,61.5 351.9,63.6C352.2,65.6 352.9,67.7 352.9,69.7C352.9,71.8 352.4,74.6 351.9,75.9C351.3,77.3 350.8,77.5 349.8,78C348.8,78.5 347.4,79 345.7,79C344,79 341.4,78.3 339.5,78C337.6,77.6 335.2,77.1 334.3,77" stroke="#e3101a" stroke-width="1.25"/><path d="M335.4,75.9C335.9,75.6 337.6,74 338.5,73.9C339.3,73.7 340.7,74.4 340.5,74.9C340.3,75.4 338.3,76.8 337.4,77C336.6,77.1 335.7,76.1 335.4,75.9" stroke="#e3101a" stroke-width="1.25"/><path d="M290,96.5C290.9,96.2 293.4,95 295.2,94.5C296.9,94 298.8,93.8 300.3,93.5C301.9,93.1 303.6,92.3 304.4,92.4C305.3,92.6 305.8,93.6 305.5,94.5C305.1,95.3 303.9,96.7 302.4,97.6C300.8,98.4 298.2,99.1 296.2,99.6C294.1,100.2 291,100.5 290,100.7" stroke="#e3101a" stroke-width="1.25"/><path d="M305.5,96.5C306.3,96.9 308.9,97.7 310.6,98.6C312.3,99.5 314.1,101.7 315.8,101.7C317.5,101.7 319.2,99.5 320.9,98.6C322.6,97.7 324.4,96.5 326.1,96.5C327.8,96.5 329.5,97.9 331.2,98.6C333,99.3 334.7,100.5 336.4,100.7C338.1,100.8 339.7,99.6 341.5,99.6C343.4,99.6 345.7,100.8 347.7,100.7C349.8,100.5 352.2,99.3 353.9,98.6C355.6,97.9 357.4,96.9 358,96.5" stroke="#e3101a" stroke-width="1.25"/><path d="M345.7,84.2C346,83.8 347,82.3 347.7,82.1C348.4,81.9 349.3,82.1 349.8,83.1C350.3,84.2 350.1,86.8 350.8,88.3C351.5,89.8 353.1,91 353.9,92.4C354.8,93.8 356,95.2 356,96.5C356,97.9 354.9,99.6 353.9,100.7C352.9,101.7 351,102 349.8,102.7C348.6,103.4 347.4,103.4 346.7,104.8C346,106.2 345.8,109.3 345.7,111C345.6,112.7 346.1,114.3 346.2,115" stroke="#e3101a" stroke-width="1.25"/><path d="M326.1,105.8C326.6,106.3 328.3,108.1 329.2,108.9C330,109.8 330.5,111.3 331.2,111C331.9,110.6 332.6,108.2 333.3,106.9C334,105.5 335,103.4 335.4,102.7" stroke="#e3101a" stroke-width="1.25"/><path d="M329.2,84.2C329,83.3 328.5,80.4 328.1,79C327.8,77.6 327.3,76.4 327.1,75.9" stroke="#e3101a" stroke-width="1.25"/><path d="M466,97.7C466.8,97.3 469,96 470.6,95.3C472.2,94.6 473.6,93.8 475.4,93.6C477.2,93.4 479.7,93.7 481.2,94.2C482.7,94.7 484,95.3 484.2,96.5C484.4,97.7 483.7,100.3 482.4,101.2C481.1,102.1 478.3,102.2 476.5,101.8C474.7,101.4 473.4,99.6 471.8,98.9C470.2,98.2 467.9,97.9 467.1,97.7" stroke="#e3101a" stroke-width="1.25"/><path d="M460,140C460.2,139.2 460.6,137 461.2,135.4C461.8,133.8 462.8,132.3 463.6,130.7C464.4,129.1 465.2,127.6 466,126C466.8,124.4 468.1,122.8 468.3,121.2C468.5,119.6 467.9,117.1 467.1,116.5C466.3,115.9 464.4,117 463.6,117.7C462.8,118.5 462.6,120.5 462.4,121" stroke="#e3101a" stroke-width="1.25"/><path d="M246.4,140.9C246.9,142.1 248.3,145.6 249.2,148.5C250.2,151.3 251.3,155.4 252.1,158C252.9,160.5 252.7,162.2 254,163.6C255.2,165.1 258.4,167.4 259.7,166.5C260.9,165.5 261.6,161 261.6,158C261.6,154.9 259.7,151.6 259.7,148.5C259.7,145.3 261.2,140.6 261.6,139" stroke="#e3101a" stroke-width="1.25"/><path d="M267.3,159.8C267.9,159.2 269.6,156.1 271.1,156.1C272.5,156.1 275.5,158.8 275.8,159.8C276.1,160.9 274.4,162 273,162.1C271.5,162.3 268.2,161 267.3,160.8" stroke="#e3101a" stroke-width="1.25"/><path d="M269.2,150.4C270.7,149.4 274.8,146.2 278.6,144.7C282.4,143.1 287.2,142.5 291.9,140.9C296.7,139.3 303.3,136.8 307.1,135.2C310.9,133.6 313.4,132 314.7,131.4" stroke="#e3101a" stroke-width="1.25"/><path d="M295.7,161.7C296.4,160.8 297.6,157.5 299.5,156.1C301.4,154.6 304.3,153.5 307.1,153.2C310,152.9 313.7,153.4 316.6,154.2C319.4,154.9 321.3,157.6 324.2,158C327,158.3 330.7,156.5 333.7,156.1C336.7,155.6 341.3,154.8 342.2,155.1C343.2,155.4 341.4,157.2 339.4,158C337.3,158.7 333,159.4 329.9,159.8C326.7,160.3 323.6,160.2 320.4,160.8C317.2,161.4 313,162.2 310.9,163.6C308.8,165.1 309,167.8 308.1,169.3C307.1,170.9 306.3,173.1 305.2,173.1C304.2,173.2 302.7,171.3 301.8,169.7C300.8,168.1 299.9,164.7 299.5,163.6" stroke="#e3101a" stroke-width="1.25"/><path d="M297.6,154.2C298.1,155.3 299.5,158.6 300.5,160.8C301.4,163 302.8,166.3 303.3,167.4" stroke="#e3101a" stroke-width="1.25"/><path d="M246.4,140.9C246.5,139.9 246.1,136.6 247.3,135.2C248.6,133.8 251.3,133.1 254,132.3C256.7,131.5 260.3,130.9 263.5,130.4C266.6,130 271.4,129.6 273,129.5" stroke="#e3101a" stroke-width="1.25"/><path d="M351.2,56.4C352.1,56.8 355.4,57.5 356.5,59C357.6,60.6 357.8,63.7 357.8,65.7C357.8,67.7 356.1,71 356.5,71C357,71 358.9,67 360.5,65.7C362,64.3 364.9,63.5 365.8,63" stroke="#b8070f" stroke-width="2.8"/><path d="M351.2,56.4C352.1,56.8 355.4,57.5 356.5,59C357.6,60.6 357.8,63.7 357.8,65.7C357.8,67.7 356.1,71 356.5,71C357,71 358.9,67 360.5,65.7C362,64.3 364.9,63.5 365.8,63" stroke="#f0262c" stroke-width="1.3" transform="translate(-0.3,-0.4)"/><path d="M349.9,36.5C351.3,36.7 357.1,37.6 358.5,37.8" stroke="#b8070f" stroke-width="2.2"/><path d="M349.9,36.5C351.3,36.7 357.1,37.6 358.5,37.8" stroke="#f0262c" stroke-width="1" transform="translate(-0.3,-0.4)"/><path d="M289.3,70.6C290.2,70.2 292.9,67.7 294.7,68C296.4,68.2 299.5,69.5 300,71.9C300.4,74.4 297.1,81.7 297.3,82.5C297.5,83.4 299.7,78.1 301.3,77.2C302.8,76.3 305.3,75.7 306.6,77.2C307.9,78.8 308.1,85.8 309.2,86.5C310.3,87.2 311.7,81.4 313.2,81.2C314.8,81 317.4,83.4 318.5,85.2C319.6,87 319,90.5 319.8,91.8C320.7,93.1 323.1,92.9 323.8,93.1" stroke="#b8070f" stroke-width="3.0"/><path d="M289.3,70.6C290.2,70.2 292.9,67.7 294.7,68C296.4,68.2 299.5,69.5 300,71.9C300.4,74.4 297.1,81.7 297.3,82.5C297.5,83.4 299.7,78.1 301.3,77.2C302.8,76.3 305.3,75.7 306.6,77.2C307.9,78.8 308.1,85.8 309.2,86.5C310.3,87.2 311.7,81.4 313.2,81.2C314.8,81 317.4,83.4 318.5,85.2C319.6,87 319,90.5 319.8,91.8C320.7,93.1 323.1,92.9 323.8,93.1" stroke="#f0262c" stroke-width="1.4" transform="translate(-0.3,-0.4)"/><path d="M265.5,93.1C266,91.8 267.7,87.8 268.8,85.2C269.9,82.5 271.6,78.6 272.1,77.2" stroke="#b8070f" stroke-width="3.2"/><path d="M265.5,93.1C266,91.8 267.7,87.8 268.8,85.2C269.9,82.5 271.6,78.6 272.1,77.2" stroke="#f0262c" stroke-width="1.4" transform="translate(-0.3,-0.4)"/><path d="M247.6,117C248.8,115.9 252.8,111.9 254.9,110.4C257,108.8 259.3,108.2 260.2,107.7" stroke="#b8070f" stroke-width="3.0"/><path d="M247.6,117C248.8,115.9 252.8,111.9 254.9,110.4C257,108.8 259.3,108.2 260.2,107.7" stroke="#f0262c" stroke-width="1.4" transform="translate(-0.3,-0.4)"/><path d="M266.8,140.9C267.9,139.9 271.2,136.9 273.4,134.9C275.7,132.9 279,129.9 280.1,128.9" stroke="#b8070f" stroke-width="3.4"/><path d="M266.8,140.9C267.9,139.9 271.2,136.9 273.4,134.9C275.7,132.9 279,129.9 280.1,128.9" stroke="#f0262c" stroke-width="1.5" transform="translate(-0.3,-0.4)"/><path d="M277.4,147.5C278.1,146.5 280.1,143.5 281.4,141.5C282.7,139.5 284.7,136.6 285.4,135.6" stroke="#b8070f" stroke-width="3.4"/><path d="M277.4,147.5C278.1,146.5 280.1,143.5 281.4,141.5C282.7,139.5 284.7,136.6 285.4,135.6" stroke="#f0262c" stroke-width="1.5" transform="translate(-0.3,-0.4)"/><path d="M290.7,121.6C293.5,121.6 302.2,121.4 307.9,121.2C313.6,121.1 322.2,121 325,121" stroke="#b8070f" stroke-width="3.2"/><path d="M290.7,121.6C293.5,121.6 302.2,121.4 307.9,121.2C313.6,121.1 322.2,121 325,121" stroke="#f0262c" stroke-width="1.4" transform="translate(-0.3,-0.4)"/><path d="M305.3,102.4C305.9,101.5 308.1,96.9 309.2,97.1C310.3,97.3 310.8,103.7 311.9,103.7C313,103.7 314.5,97.1 315.9,97.1C317.2,97.1 319.2,102.6 319.8,103.7" stroke="#b8070f" stroke-width="2.4"/><path d="M305.3,102.4C305.9,101.5 308.1,96.9 309.2,97.1C310.3,97.3 310.8,103.7 311.9,103.7C313,103.7 314.5,97.1 315.9,97.1C317.2,97.1 319.2,102.6 319.8,103.7" stroke="#f0262c" stroke-width="1.1" transform="translate(-0.3,-0.4)"/><path d="M300,115.7C300.7,115 303,113 304.6,111.7C306.1,110.4 308.5,108.4 309.2,107.7" stroke="#b8070f" stroke-width="3.0"/><path d="M300,115.7C300.7,115 303,113 304.6,111.7C306.1,110.4 308.5,108.4 309.2,107.7" stroke="#f0262c" stroke-width="1.4" transform="translate(-0.3,-0.4)"/><path d="M291.9,121.2C295.1,121.2 304.9,120.9 310.9,120.9C316.9,120.9 325.1,121.2 328,121.2" stroke="#b8070f" stroke-width="3.2"/><path d="M291.9,121.2C295.1,121.2 304.9,120.9 310.9,120.9C316.9,120.9 325.1,121.2 328,121.2" stroke="#f0262c" stroke-width="1.4" transform="translate(-0.3,-0.4)"/><path d="M326.1,134.5C328.3,135.3 334.9,137.7 339.4,139.3C343.8,140.8 350.4,143.2 352.6,144" stroke="#b8070f" stroke-width="3.4"/><path d="M326.1,134.5C328.3,135.3 334.9,137.7 339.4,139.3C343.8,140.8 350.4,143.2 352.6,144" stroke="#f0262c" stroke-width="1.5" transform="translate(-0.3,-0.4)"/><path d="M324.2,145.9C326.2,146.4 332.4,147.8 336.5,148.7C340.6,149.7 346.8,151.1 348.9,151.6" stroke="#b8070f" stroke-width="3.2"/><path d="M324.2,145.9C326.2,146.4 332.4,147.8 336.5,148.7C340.6,149.7 346.8,151.1 348.9,151.6" stroke="#f0262c" stroke-width="1.4" transform="translate(-0.3,-0.4)"/><path d="M314.7,126.9C315.6,127.9 318.5,132 320.4,132.6C322.3,133.3 324.5,130.4 326.1,130.7C327.7,131 329.2,133.9 329.9,134.5" stroke="#b8070f" stroke-width="2.8"/><path d="M314.7,126.9C315.6,127.9 318.5,132 320.4,132.6C322.3,133.3 324.5,130.4 326.1,130.7C327.7,131 329.2,133.9 329.9,134.5" stroke="#f0262c" stroke-width="1.3" transform="translate(-0.3,-0.4)"/><path d="M269.2,142.1C270.3,140.8 273.6,137 275.8,134.5C278,132 281.3,128.2 282.4,126.9" stroke="#b8070f" stroke-width="3.2"/><path d="M269.2,142.1C270.3,140.8 273.6,137 275.8,134.5C278,132 281.3,128.2 282.4,126.9" stroke="#f0262c" stroke-width="1.4" transform="translate(-0.3,-0.4)"/><path d="M278.6,145.9C279.3,145 281.2,142.1 282.4,140.2C283.7,138.3 285.6,135.5 286.2,134.5" stroke="#b8070f" stroke-width="3.0"/><path d="M278.6,145.9C279.3,145 281.2,142.1 282.4,140.2C283.7,138.3 285.6,135.5 286.2,134.5" stroke="#f0262c" stroke-width="1.4" transform="translate(-0.3,-0.4)"/><path d="M248.3,115.5C249.2,114.9 252.1,113 254,111.7C255.9,110.5 258.7,108.6 259.7,108" stroke="#b8070f" stroke-width="2.8"/><path d="M248.3,115.5C249.2,114.9 252.1,113 254,111.7C255.9,110.5 258.7,108.6 259.7,108" stroke="#f0262c" stroke-width="1.3" transform="translate(-0.3,-0.4)"/><path d="M236.9,89C237.5,88.8 240.1,88.2 240.7,88" stroke="#b8070f" stroke-width="3.5"/><path d="M236.9,89C237.5,88.8 240.1,88.2 240.7,88" stroke="#f0262c" stroke-width="1.6" transform="translate(-0.3,-0.4)"/><path d="M414.5,131.7C416.1,131.7 420.8,131.9 424,132C427.2,132.2 431.9,132.5 433.5,132.6" stroke="#b8070f" stroke-width="3.2"/><path d="M414.5,131.7C416.1,131.7 420.8,131.9 424,132C427.2,132.2 431.9,132.5 433.5,132.6" stroke="#f0262c" stroke-width="1.4" transform="translate(-0.3,-0.4)"/><path d="M416.4,142.1C418,141.5 422.7,139.6 425.9,138.3C429.1,137 433.8,135.1 435.4,134.5" stroke="#b8070f" stroke-width="3.0"/><path d="M416.4,142.1C418,141.5 422.7,139.6 425.9,138.3C429.1,137 433.8,135.1 435.4,134.5" stroke="#f0262c" stroke-width="1.4" transform="translate(-0.3,-0.4)"/><path d="M372.8,140.2C375.3,140.4 382.9,140.8 388,141.2C393,141.5 400.6,141.9 403.1,142.1" stroke="#b8070f" stroke-width="3.2"/><path d="M372.8,140.2C375.3,140.4 382.9,140.8 388,141.2C393,141.5 400.6,141.9 403.1,142.1" stroke="#f0262c" stroke-width="1.4" transform="translate(-0.3,-0.4)"/><path d="M395.5,136.4C396.2,135.9 398.1,134.5 399.3,133.6C400.6,132.6 402.5,131.2 403.1,130.7" stroke="#b8070f" stroke-width="3.0"/><path d="M395.5,136.4C396.2,135.9 398.1,134.5 399.3,133.6C400.6,132.6 402.5,131.2 403.1,130.7" stroke="#f0262c" stroke-width="1.4" transform="translate(-0.3,-0.4)"/><path d="M369,126.9C369.9,127.7 372.8,130.1 374.7,131.7C376.6,133.3 379.4,135.6 380.4,136.4" stroke="#b8070f" stroke-width="3.0"/><path d="M369,126.9C369.9,127.7 372.8,130.1 374.7,131.7C376.6,133.3 379.4,135.6 380.4,136.4" stroke="#f0262c" stroke-width="1.4" transform="translate(-0.3,-0.4)"/><path d="M382.3,111.7C382.6,112.7 383.8,116.5 384.2,117.4" stroke="#b8070f" stroke-width="2.6"/><path d="M382.3,111.7C382.6,112.7 383.8,116.5 384.2,117.4" stroke="#f0262c" stroke-width="1.2" transform="translate(-0.3,-0.4)"/><path d="M456.3,104.2C456.9,103.5 458.5,101.3 460.1,100.4C461.6,99.4 464.8,98.8 465.7,98.5" stroke="#b8070f" stroke-width="3.0"/><path d="M456.3,104.2C456.9,103.5 458.5,101.3 460.1,100.4C461.6,99.4 464.8,98.8 465.7,98.5" stroke="#f0262c" stroke-width="1.4" transform="translate(-0.3,-0.4)"/><path d="M460.1,117.4C460.4,116.5 461.3,113.6 462,111.7C462.6,109.8 463.5,107 463.9,106.1" stroke="#b8070f" stroke-width="2.8"/><path d="M460.1,117.4C460.4,116.5 461.3,113.6 462,111.7C462.6,109.8 463.5,107 463.9,106.1" stroke="#f0262c" stroke-width="1.3" transform="translate(-0.3,-0.4)"/><path d="M444.9,147.8C445.5,147.3 447.4,145 448.7,145C449.9,145 451.8,147.3 452.5,147.8" stroke="#b8070f" stroke-width="2.6"/><path d="M444.9,147.8C445.5,147.3 447.4,145 448.7,145C449.9,145 451.8,147.3 452.5,147.8" stroke="#f0262c" stroke-width="1.2" transform="translate(-0.3,-0.4)"/><path d="M280.5,127.6C279.4,128.9 276,132.8 273.9,135.2C271.8,137.6 269.2,140.7 268.2,141.8" stroke="#b8070f" stroke-width="3.4"/><path d="M280.5,127.6C279.4,128.9 276,132.8 273.9,135.2C271.8,137.6 269.2,140.7 268.2,141.8" stroke="#f0262c" stroke-width="1.5" transform="translate(-0.3,-0.4)"/><path d="M285.3,134.2C284.5,135.7 282.1,140.1 280.5,142.8C279,145.5 276.6,149.1 275.8,150.4" stroke="#b8070f" stroke-width="3.0"/><path d="M285.3,134.2C284.5,135.7 282.1,140.1 280.5,142.8C279,145.5 276.6,149.1 275.8,150.4" stroke="#f0262c" stroke-width="1.4" transform="translate(-0.3,-0.4)"/><path d="M289.5,81C289.5,69 298.5,69 298.5,81" stroke="#9a0008" stroke-width="3"/><path d="M289.5,81C289.5,69 298.5,69 298.5,81" stroke="#e8141c" stroke-width="1.4" transform="translate(-0.4,0)"/><path d="M298.5,81L306,92.5" stroke="#c80a12" stroke-width="1.1"/><path d="M306,92.5C306,79.5 316,79.5 316,92.5" stroke="#9a0008" stroke-width="3"/><path d="M306,92.5C306,79.5 316,79.5 316,92.5" stroke="#e8141c" stroke-width="1.4" transform="translate(-0.4,0)"/><path d="M316,92.5L325.5,102" stroke="#c80a12" stroke-width="1.1"/><path d="M325.5,102C325.5,90 334.5,90 334.5,102" stroke="#9a0008" stroke-width="3"/><path d="M325.5,102C325.5,90 334.5,90 334.5,102" stroke="#e8141c" stroke-width="1.4" transform="translate(-0.4,0)"/><path d="M352,65C352,55 360,55 360,65" stroke="#9a0008" stroke-width="2.8"/><path d="M352,65C352,55 360,55 360,65" stroke="#e8141c" stroke-width="1.3" transform="translate(-0.4,0)"/><path d="M360,65L359.5,71.5" stroke="#c80a12" stroke-width="1.1"/><path d="M359.5,71.5C359.5,62.5 366.5,62.5 366.5,71.5" stroke="#9a0008" stroke-width="2.6"/><path d="M359.5,71.5C359.5,62.5 366.5,62.5 366.5,71.5" stroke="#e8141c" stroke-width="1.2" transform="translate(-0.4,0)"/><path d="M307,103.5C307,96.5 313,96.5 313,103.5" stroke="#9a0008" stroke-width="1.8"/><path d="M307,103.5C307,96.5 313,96.5 313,103.5" stroke="#e8141c" stroke-width="0.8" transform="translate(-0.4,0)"/><path d="M313,103.5L315,105.5" stroke="#c80a12" stroke-width="1.1"/><path d="M315,105.5C315,98.5 321,98.5 321,105.5" stroke="#9a0008" stroke-width="1.8"/><path d="M315,105.5C315,98.5 321,98.5 321,105.5" stroke="#e8141c" stroke-width="0.8" transform="translate(-0.4,0)"/><path d="M348.5,39C348.5,33 353.5,33 353.5,39" stroke="#9a0008" stroke-width="1.8"/><path d="M348.5,39C348.5,33 353.5,33 353.5,39" stroke="#e8141c" stroke-width="0.8" transform="translate(-0.4,0)"/><path d="M353.5,39L353.5,47" stroke="#c80a12" stroke-width="1.1"/><path d="M353.5,47C353.5,41 358.5,41 358.5,47" stroke="#9a0008" stroke-width="1.8"/><path d="M353.5,47C353.5,41 358.5,41 358.5,47" stroke="#e8141c" stroke-width="0.8" transform="translate(-0.4,0)"/></g></g><rect x="512" y="10" width="162" height="160" fill="#ffffc4"/><g shape-rendering="crispEdges"><rect x="512" y="10" width="5" height="5" fill="#c97a00"/><rect x="517" y="10" width="49" height="5" fill="#ff0000"/><rect x="566" y="10" width="9" height="5" fill="#c97a00"/><rect x="575" y="10" width="9" height="5" fill="#ffff00"/><rect x="607" y="10" width="22" height="5" fill="#ffff00"/><rect x="652" y="10" width="18" height="5" fill="#ffff00"/><rect x="670" y="10" width="4" height="5" fill="#c97a00"/><rect x="512" y="15" width="5" height="4" fill="#c97a00"/><rect x="517" y="15" width="49" height="4" fill="#ff0000"/><rect x="566" y="15" width="14" height="4" fill="#c97a00"/><rect x="580" y="15" width="9" height="4" fill="#ffff00"/><rect x="652" y="15" width="13" height="4" fill="#ffff00"/><rect x="665" y="15" width="9" height="4" fill="#c97a00"/><rect x="512" y="19" width="5" height="5" fill="#c97a00"/><rect x="517" y="19" width="49" height="5" fill="#ff0000"/><rect x="566" y="19" width="14" height="5" fill="#c97a00"/><rect x="580" y="19" width="18" height="5" fill="#ffff00"/><rect x="652" y="19" width="9" height="5" fill="#ffff00"/><rect x="661" y="19" width="13" height="5" fill="#c97a00"/><rect x="512" y="24" width="9" height="4" fill="#c97a00"/><rect x="521" y="24" width="50" height="4" fill="#ff0000"/><rect x="571" y="24" width="18" height="4" fill="#c97a00"/><rect x="589" y="24" width="9" height="4" fill="#ffff00"/><rect x="652" y="24" width="13" height="4" fill="#ffff00"/><rect x="665" y="24" width="9" height="4" fill="#c97a00"/><rect x="512" y="28" width="9" height="5" fill="#c97a00"/><rect x="521" y="28" width="54" height="5" fill="#ff0000"/><rect x="575" y="28" width="9" height="5" fill="#c97a00"/><rect x="584" y="28" width="14" height="5" fill="#ffff00"/><rect x="652" y="28" width="18" height="5" fill="#ffff00"/><rect x="670" y="28" width="4" height="5" fill="#c97a00"/><rect x="512" y="33" width="9" height="4" fill="#c97a00"/><rect x="521" y="33" width="50" height="4" fill="#ff0000"/><rect x="571" y="33" width="13" height="4" fill="#c97a00"/><rect x="584" y="33" width="14" height="4" fill="#ffff00"/><rect x="656" y="33" width="14" height="4" fill="#ffff00"/><rect x="670" y="33" width="4" height="4" fill="#c97a00"/><rect x="512" y="37" width="14" height="4" fill="#c97a00"/><rect x="526" y="37" width="40" height="4" fill="#ff0000"/><rect x="566" y="37" width="18" height="4" fill="#c97a00"/><rect x="584" y="37" width="14" height="4" fill="#ffff00"/><rect x="611" y="37" width="27" height="4" fill="#ffff00"/><rect x="661" y="37" width="9" height="4" fill="#ffff00"/><rect x="670" y="37" width="4" height="4" fill="#c97a00"/><rect x="512" y="41" width="18" height="5" fill="#c97a00"/><rect x="530" y="41" width="32" height="5" fill="#ff0000"/><rect x="562" y="41" width="27" height="5" fill="#c97a00"/><rect x="589" y="41" width="49" height="5" fill="#ffff00"/><rect x="661" y="41" width="9" height="5" fill="#ffff00"/><rect x="670" y="41" width="4" height="5" fill="#c97a00"/><rect x="512" y="46" width="23" height="4" fill="#c97a00"/><rect x="535" y="46" width="4" height="4" fill="#ff0000"/><rect x="539" y="46" width="9" height="4" fill="#c97a00"/><rect x="548" y="46" width="5" height="4" fill="#ff0000"/><rect x="553" y="46" width="36" height="4" fill="#c97a00"/><rect x="589" y="46" width="31" height="4" fill="#ffff00"/><rect x="620" y="46" width="9" height="4" fill="#c97a00"/><rect x="629" y="46" width="9" height="4" fill="#ffff00"/><rect x="661" y="46" width="9" height="4" fill="#ffff00"/><rect x="670" y="46" width="4" height="4" fill="#c97a00"/><rect x="512" y="50" width="63" height="5" fill="#c97a00"/><rect x="575" y="50" width="32" height="5" fill="#ffff00"/><rect x="607" y="50" width="18" height="5" fill="#c97a00"/><rect x="625" y="50" width="13" height="5" fill="#ffff00"/><rect x="661" y="50" width="13" height="5" fill="#ffff00"/><rect x="512" y="55" width="59" height="4" fill="#c97a00"/><rect x="571" y="55" width="36" height="4" fill="#ffff00"/><rect x="607" y="55" width="18" height="4" fill="#c97a00"/><rect x="625" y="55" width="18" height="4" fill="#ffff00"/><rect x="661" y="55" width="13" height="4" fill="#ffff00"/><rect x="512" y="59" width="5" height="5" fill="#ffff00"/><rect x="517" y="59" width="54" height="5" fill="#c97a00"/><rect x="571" y="59" width="9" height="5" fill="#ffff00"/><rect x="598" y="59" width="9" height="5" fill="#ffff00"/><rect x="607" y="59" width="18" height="5" fill="#c97a00"/><rect x="625" y="59" width="18" height="5" fill="#ffff00"/><rect x="661" y="59" width="13" height="5" fill="#ffff00"/><rect x="512" y="64" width="9" height="4" fill="#ffff00"/><rect x="521" y="64" width="50" height="4" fill="#c97a00"/><rect x="571" y="64" width="9" height="4" fill="#ffff00"/><rect x="598" y="64" width="9" height="4" fill="#ffff00"/><rect x="607" y="64" width="27" height="4" fill="#c97a00"/><rect x="634" y="64" width="9" height="4" fill="#ffff00"/><rect x="661" y="64" width="13" height="4" fill="#ffff00"/><rect x="512" y="68" width="9" height="4" fill="#ffff00"/><rect x="521" y="68" width="45" height="4" fill="#c97a00"/><rect x="566" y="68" width="14" height="4" fill="#ffff00"/><rect x="598" y="68" width="13" height="4" fill="#ffff00"/><rect x="611" y="68" width="5" height="4" fill="#c97a00"/><rect x="616" y="68" width="4" height="4" fill="#ff0000"/><rect x="620" y="68" width="9" height="4" fill="#c97a00"/><rect x="629" y="68" width="14" height="4" fill="#ffff00"/><rect x="661" y="68" width="13" height="4" fill="#ffff00"/><rect x="512" y="72" width="5" height="5" fill="#ffff00"/><rect x="517" y="72" width="49" height="5" fill="#c97a00"/><rect x="566" y="72" width="18" height="5" fill="#ffff00"/><rect x="598" y="72" width="13" height="5" fill="#ffff00"/><rect x="611" y="72" width="5" height="5" fill="#c97a00"/><rect x="616" y="72" width="9" height="5" fill="#ff0000"/><rect x="625" y="72" width="4" height="5" fill="#c97a00"/><rect x="629" y="72" width="14" height="5" fill="#ffff00"/><rect x="661" y="72" width="13" height="5" fill="#ffff00"/><rect x="512" y="77" width="5" height="4" fill="#ffff00"/><rect x="517" y="77" width="27" height="4" fill="#c97a00"/><rect x="544" y="77" width="4" height="4" fill="#ff0000"/><rect x="548" y="77" width="23" height="4" fill="#c97a00"/><rect x="571" y="77" width="18" height="4" fill="#ffff00"/><rect x="598" y="77" width="18" height="4" fill="#ffff00"/><rect x="616" y="77" width="18" height="4" fill="#c97a00"/><rect x="634" y="77" width="9" height="4" fill="#ffff00"/><rect x="661" y="77" width="13" height="4" fill="#ffff00"/><rect x="512" y="81" width="5" height="5" fill="#ffff00"/><rect x="517" y="81" width="22" height="5" fill="#c97a00"/><rect x="539" y="81" width="18" height="5" fill="#ff0000"/><rect x="557" y="81" width="18" height="5" fill="#c97a00"/><rect x="575" y="81" width="14" height="5" fill="#ffff00"/><rect x="602" y="81" width="14" height="5" fill="#ffff00"/><rect x="616" y="81" width="13" height="5" fill="#c97a00"/><rect x="629" y="81" width="14" height="5" fill="#ffff00"/><rect x="661" y="81" width="13" height="5" fill="#ffff00"/><rect x="512" y="86" width="5" height="4" fill="#ffff00"/><rect x="517" y="86" width="22" height="4" fill="#c97a00"/><rect x="539" y="86" width="23" height="4" fill="#ff0000"/><rect x="562" y="86" width="13" height="4" fill="#c97a00"/><rect x="575" y="86" width="14" height="4" fill="#ffff00"/><rect x="602" y="86" width="18" height="4" fill="#ffff00"/><rect x="620" y="86" width="14" height="4" fill="#c97a00"/><rect x="634" y="86" width="9" height="4" fill="#ffff00"/><rect x="661" y="86" width="13" height="4" fill="#ffff00"/><rect x="512" y="90" width="5" height="5" fill="#ffff00"/><rect x="517" y="90" width="18" height="5" fill="#c97a00"/><rect x="535" y="90" width="31" height="5" fill="#ff0000"/><rect x="566" y="90" width="14" height="5" fill="#c97a00"/><rect x="580" y="90" width="13" height="5" fill="#ffff00"/><rect x="602" y="90" width="14" height="5" fill="#ffff00"/><rect x="616" y="90" width="18" height="5" fill="#c97a00"/><rect x="634" y="90" width="9" height="5" fill="#ffff00"/><rect x="661" y="90" width="13" height="5" fill="#ffff00"/><rect x="512" y="95" width="5" height="4" fill="#ffff00"/><rect x="517" y="95" width="22" height="4" fill="#c97a00"/><rect x="539" y="95" width="36" height="4" fill="#ff0000"/><rect x="575" y="95" width="9" height="4" fill="#c97a00"/><rect x="584" y="95" width="14" height="4" fill="#ffff00"/><rect x="602" y="95" width="41" height="4" fill="#ffff00"/><rect x="661" y="95" width="13" height="4" fill="#ffff00"/><rect x="512" y="99" width="9" height="5" fill="#ffff00"/><rect x="521" y="99" width="18" height="5" fill="#c97a00"/><rect x="539" y="99" width="36" height="5" fill="#ff0000"/><rect x="575" y="99" width="9" height="5" fill="#c97a00"/><rect x="584" y="99" width="14" height="5" fill="#ffff00"/><rect x="602" y="99" width="41" height="5" fill="#ffff00"/><rect x="661" y="99" width="13" height="5" fill="#ffff00"/><rect x="512" y="104" width="9" height="4" fill="#ffff00"/><rect x="521" y="104" width="23" height="4" fill="#c97a00"/><rect x="544" y="104" width="36" height="4" fill="#ff0000"/><rect x="580" y="104" width="9" height="4" fill="#c97a00"/><rect x="589" y="104" width="13" height="4" fill="#ffff00"/><rect x="661" y="104" width="13" height="4" fill="#ffff00"/><rect x="512" y="108" width="5" height="4" fill="#ffff00"/><rect x="517" y="108" width="27" height="4" fill="#c97a00"/><rect x="544" y="108" width="36" height="4" fill="#ff0000"/><rect x="580" y="108" width="13" height="4" fill="#c97a00"/><rect x="593" y="108" width="9" height="4" fill="#ffff00"/><rect x="661" y="108" width="13" height="4" fill="#ffff00"/><rect x="512" y="112" width="14" height="5" fill="#ffff00"/><rect x="526" y="112" width="36" height="5" fill="#c97a00"/><rect x="562" y="112" width="18" height="5" fill="#ff0000"/><rect x="580" y="112" width="13" height="5" fill="#c97a00"/><rect x="593" y="112" width="14" height="5" fill="#ffff00"/><rect x="661" y="112" width="13" height="5" fill="#ffff00"/><rect x="512" y="117" width="9" height="4" fill="#c97a00"/><rect x="521" y="117" width="5" height="4" fill="#ffff00"/><rect x="526" y="117" width="36" height="4" fill="#c97a00"/><rect x="562" y="117" width="18" height="4" fill="#ff0000"/><rect x="580" y="117" width="13" height="4" fill="#c97a00"/><rect x="593" y="117" width="14" height="4" fill="#ffff00"/><rect x="661" y="117" width="13" height="4" fill="#ffff00"/><rect x="512" y="121" width="14" height="5" fill="#ffff00"/><rect x="526" y="121" width="72" height="5" fill="#c97a00"/><rect x="598" y="121" width="9" height="5" fill="#ffff00"/><rect x="661" y="121" width="13" height="5" fill="#ffff00"/><rect x="512" y="126" width="23" height="4" fill="#ffff00"/><rect x="535" y="126" width="58" height="4" fill="#c97a00"/><rect x="593" y="126" width="14" height="4" fill="#ffff00"/><rect x="661" y="126" width="13" height="4" fill="#ffff00"/><rect x="526" y="130" width="9" height="5" fill="#ffff00"/><rect x="535" y="130" width="45" height="5" fill="#c97a00"/><rect x="580" y="130" width="27" height="5" fill="#ffff00"/><rect x="526" y="135" width="36" height="4" fill="#ffff00"/><rect x="562" y="135" width="4" height="4" fill="#c97a00"/><rect x="566" y="135" width="36" height="4" fill="#ffff00"/><rect x="526" y="139" width="18" height="4" fill="#ffff00"/><rect x="544" y="139" width="9" height="4" fill="#c97a00"/><rect x="553" y="139" width="36" height="4" fill="#ffff00"/><rect x="512" y="143" width="23" height="5" fill="#ffff00"/><rect x="535" y="143" width="9" height="5" fill="#c97a00"/><rect x="544" y="143" width="31" height="5" fill="#ffff00"/><rect x="607" y="143" width="18" height="5" fill="#ffff00"/><rect x="512" y="148" width="27" height="4" fill="#ffff00"/><rect x="539" y="148" width="18" height="4" fill="#c97a00"/><rect x="557" y="148" width="18" height="4" fill="#ffff00"/><rect x="607" y="148" width="9" height="4" fill="#ffff00"/><rect x="616" y="148" width="4" height="4" fill="#c97a00"/><rect x="620" y="148" width="5" height="4" fill="#ffff00"/><rect x="512" y="152" width="5" height="5" fill="#ffff00"/><rect x="517" y="152" width="13" height="5" fill="#c97a00"/><rect x="530" y="152" width="5" height="5" fill="#ffff00"/><rect x="535" y="152" width="22" height="5" fill="#c97a00"/><rect x="557" y="152" width="23" height="5" fill="#ffff00"/><rect x="607" y="152" width="9" height="5" fill="#ffff00"/><rect x="616" y="152" width="4" height="5" fill="#c97a00"/><rect x="620" y="152" width="14" height="5" fill="#ffff00"/><rect x="512" y="157" width="5" height="4" fill="#ffff00"/><rect x="517" y="157" width="45" height="4" fill="#c97a00"/><rect x="562" y="157" width="18" height="4" fill="#ffff00"/><rect x="607" y="157" width="9" height="4" fill="#ffff00"/><rect x="616" y="157" width="4" height="4" fill="#c97a00"/><rect x="620" y="157" width="14" height="4" fill="#ffff00"/><rect x="661" y="157" width="13" height="4" fill="#ffff00"/><rect x="512" y="161" width="5" height="5" fill="#ffff00"/><rect x="517" y="161" width="54" height="5" fill="#c97a00"/><rect x="571" y="161" width="9" height="5" fill="#ffff00"/><rect x="607" y="161" width="9" height="5" fill="#ffff00"/><rect x="616" y="161" width="9" height="5" fill="#c97a00"/><rect x="625" y="161" width="9" height="5" fill="#ffff00"/><rect x="661" y="161" width="13" height="5" fill="#ffff00"/><rect x="512" y="166" width="59" height="4" fill="#c97a00"/><rect x="571" y="166" width="9" height="4" fill="#ffff00"/><rect x="607" y="166" width="27" height="4" fill="#ffff00"/><rect x="661" y="166" width="9" height="4" fill="#ffff00"/><rect x="670" y="166" width="4" height="4" fill="#c97a00"/></g><path d="M517,10V15M566,10V15M575,10V15M575,15H580M584,10V15M584,15H589M607,10V15M607,15H611M611,15H616M616,15H620M620,15H625M629,10V15M625,15H629M652,10V15M670,10V15M665,15H670M517,15V19M566,15V19M580,15V19M589,15V19M589,19H593M593,19H598M652,15V19M665,15V19M661,19H665M517,19V24M517,24H521M566,19V24M566,24H571M580,19V24M580,24H584M584,24H589M598,19V24M652,19V24M661,19V24M661,24H665M521,24V28M571,24V28M571,28H575M589,24V28M584,28H589M598,24V28M652,24V28M665,24V28M665,28H670M521,28V33M575,28V33M571,33H575M584,28V33M598,28V33M652,28V33M652,33H656M670,28V33M521,33V37M521,37H526M571,33V37M566,37H571M584,33V37M598,33V37M611,37H616M616,37H620M620,37H625M625,37H629M629,37H634M634,37H638M656,33V37M656,37H661M670,33V37M526,37V41M526,41H530M566,37V41M562,41H566M584,37V41M584,41H589M598,37V41M598,41H602M602,41H607M611,37V41M607,41H611M638,37V41M661,37V41M670,37V41M530,41V46M530,46H535M539,46H544M544,46H548M553,46H557M562,41V46M557,46H562M589,41V46M620,46H625M625,46H629M638,41V46M661,41V46M670,41V46M535,46V50M539,46V50M535,50H539M548,46V50M553,46V50M548,50H553M575,50H580M580,50H584M589,46V50M584,50H589M607,50H611M611,50H616M620,46V50M616,50H620M629,46V50M625,50H629M638,46V50M661,46V50M670,46V50M670,50H674M575,50V55M571,55H575M607,50V55M625,50V55M638,50V55M638,55H643M661,50V55M512,59H517M571,55V59M580,59H584M584,59H589M589,59H593M593,59H598M607,55V59M625,55V59M643,55V59M661,55V59M517,59V64M517,64H521M571,59V64M580,59V64M598,59V64M607,59V64M625,59V64M625,64H629M629,64H634M643,59V64M661,59V64M521,64V68M571,64V68M566,68H571M580,64V68M598,64V68M607,64V68M607,68H611M616,68H620M634,64V68M629,68H634M643,64V68M661,64V68M521,68V72M517,72H521M566,68V72M580,68V72M580,72H584M598,68V72M611,68V72M616,68V72M620,68V72M620,72H625M629,68V72M643,68V72M661,68V72M517,72V77M544,77H548M566,72V77M566,77H571M584,72V77M584,77H589M598,72V77M611,72V77M616,72V77M611,77H616M616,77H620M625,72V77M620,77H625M629,72V77M629,77H634M643,72V77M661,72V77M517,77V81M544,77V81M539,81H544M548,77V81M548,81H553M553,81H557M571,77V81M571,81H575M589,77V81M598,77V81M598,81H602M616,77V81M634,77V81M629,81H634M643,77V81M661,77V81M517,81V86M539,81V86M557,81V86M557,86H562M575,81V86M589,81V86M602,81V86M616,81V86M616,86H620M629,81V86M629,86H634M643,81V86M661,81V86M517,86V90M539,86V90M535,90H539M562,86V90M562,90H566M575,86V90M575,90H580M589,86V90M589,90H593M602,86V90M620,86V90M616,90H620M634,86V90M643,86V90M661,86V90M517,90V95M535,90V95M535,95H539M566,90V95M566,95H571M571,95H575M580,90V95M580,95H584M593,90V95M593,95H598M602,90V95M616,90V95M616,95H620M620,95H625M625,95H629M634,90V95M629,95H634M643,90V95M661,90V95M517,95V99M517,99H521M539,95V99M575,95V99M584,95V99M598,95V99M602,95V99M643,95V99M661,95V99M521,99V104M539,99V104M539,104H544M575,99V104M575,104H580M584,99V104M584,104H589M598,99V104M602,99V104M598,104H602M602,104H607M607,104H611M611,104H616M616,104H620M620,104H625M625,104H629M629,104H634M634,104H638M643,99V104M638,104H643M661,99V104M521,104V108M517,108H521M544,104V108M580,104V108M589,104V108M589,108H593M602,104V108M661,104V108M517,108V112M517,112H521M521,112H526M544,108V112M544,112H548M548,112H553M553,112H557M557,112H562M580,108V112M593,108V112M602,108V112M602,112H607M661,108V112M512,117H517M517,117H521M526,112V117M562,112V117M580,112V117M593,112V117M607,112V117M661,112V117M512,121H517M521,117V121M517,121H521M526,117V121M562,117V121M562,121H566M566,121H571M571,121H575M580,117V121M575,121H580M593,117V121M593,121H598M607,117V121M661,117V121M526,121V126M526,126H530M530,126H535M598,121V126M593,126H598M607,121V126M661,121V126M512,130H517M517,130H521M521,130H526M535,126V130M580,130H584M584,130H589M593,126V130M589,130H593M607,126V130M661,126V130M661,130H665M665,130H670M670,130H674M526,130V135M535,130V135M535,135H539M539,135H544M544,135H548M548,135H553M553,135H557M557,135H562M566,135H571M571,135H575M580,130V135M575,135H580M607,130V135M602,135H607M526,135V139M544,139H548M548,139H553M562,135V139M566,135V139M562,139H566M589,139H593M593,139H598M602,135V139M598,139H602M512,143H517M517,143H521M526,139V143M521,143H526M535,143H539M544,139V143M539,143H544M544,143H548M553,139V143M548,143H553M575,143H580M580,143H584M589,139V143M584,143H589M607,143H611M611,143H616M616,143H620M620,143H625M535,143V148M535,148H539M544,143V148M544,148H548M548,148H553M553,148H557M575,143V148M607,143V148M616,148H620M625,143V148M517,152H521M521,152H526M526,152H530M539,148V152M535,152H539M557,148V152M575,148V152M575,152H580M607,148V152M616,148V152M620,148V152M625,148V152M625,152H629M629,152H634M517,152V157M530,152V157M535,152V157M530,157H535M557,152V157M557,157H562M580,152V157M607,152V157M616,152V157M620,152V157M634,152V157M661,157H665M665,157H670M670,157H674M517,157V161M562,157V161M562,161H566M566,161H571M580,157V161M607,157V161M616,157V161M620,157V161M620,161H625M634,157V161M661,157V161M517,161V166M512,166H517M571,161V166M580,161V166M607,161V166M616,161V166M616,166H620M625,161V166M620,166H625M634,161V166M661,161V166M670,166H674M571,166V170M580,166V170M607,166V170M634,166V170M661,166V170M670,166V170" stroke="#3a2a00" stroke-width="0.7" opacity="0.55" fill="none"/><line x1="593" y1="10" x2="593" y2="170" stroke="#888" stroke-width="0.6" opacity="0.5"/><line x1="512" y1="90" x2="674" y2="90" stroke="#888" stroke-width="0.6" opacity="0.5"/><g fill="#46b4e0"><circle cx="522.8" cy="91.4" r="1.1"/><circle cx="536.5" cy="30" r="1.1"/><circle cx="523.5" cy="20.8" r="1.1"/><circle cx="537.7" cy="88.5" r="1.1"/><circle cx="558.9" cy="72.2" r="1.1"/><circle cx="537.6" cy="39.2" r="1.1"/><circle cx="555.4" cy="12" r="1.1"/><circle cx="546.8" cy="37" r="1.1"/><circle cx="521.9" cy="11.4" r="1.1"/><circle cx="529.7" cy="68.7" r="1.1"/><circle cx="553.7" cy="66.1" r="1.1"/><circle cx="555.1" cy="69.2" r="1.1"/><circle cx="566.1" cy="46.6" r="1.1"/><circle cx="560.2" cy="49.3" r="1.1"/><circle cx="535.4" cy="30.6" r="1.1"/><circle cx="525.1" cy="49.3" r="1.1"/><circle cx="567.6" cy="42.2" r="1.1"/><circle cx="530.2" cy="53.3" r="1.1"/><circle cx="556.2" cy="31.8" r="1.1"/><circle cx="551.5" cy="28.6" r="1.1"/><circle cx="516.4" cy="50.9" r="1.1"/><circle cx="554.3" cy="37.1" r="1.1"/><circle cx="558.5" cy="49.6" r="1.1"/><circle cx="562.9" cy="67.6" r="1.1"/><circle cx="545.6" cy="90.9" r="1.1"/><circle cx="555.6" cy="25.5" r="1.1"/><circle cx="520.1" cy="14.9" r="1.1"/><circle cx="550.6" cy="103.7" r="1.1"/><circle cx="553.7" cy="23.1" r="1.1"/><circle cx="562.1" cy="100.9" r="1.1"/><circle cx="561.7" cy="33.6" r="1.1"/><circle cx="563.9" cy="143.8" r="1.1"/><circle cx="559.7" cy="70.1" r="1.1"/><circle cx="616.3" cy="56.5" r="1.1"/><circle cx="568.3" cy="58.3" r="1.1"/><circle cx="561.5" cy="99.2" r="1.1"/><circle cx="540.2" cy="36.9" r="1.1"/><circle cx="535.8" cy="41.7" r="1.1"/><circle cx="568" cy="25.8" r="1.1"/><circle cx="553.1" cy="28.6" r="1.1"/><circle cx="553.7" cy="111.7" r="1.1"/><circle cx="531.4" cy="22.5" r="1.1"/><circle cx="562.5" cy="14.8" r="1.1"/><circle cx="536.1" cy="19.6" r="1.1"/><circle cx="540.5" cy="11.9" r="1.1"/><circle cx="564" cy="54.8" r="1.1"/><circle cx="564.5" cy="68.4" r="1.1"/><circle cx="552.9" cy="21.6" r="1.1"/><circle cx="526.9" cy="26.6" r="1.1"/><circle cx="554.2" cy="105.9" r="1.1"/><circle cx="545.9" cy="13.2" r="1.1"/><circle cx="523.6" cy="27.4" r="1.1"/><circle cx="563.3" cy="100.7" r="1.1"/><circle cx="542.7" cy="45.8" r="1.1"/><circle cx="570.1" cy="28.2" r="1.1"/><circle cx="549.3" cy="103.4" r="1.1"/><circle cx="546.1" cy="109.7" r="1.1"/><circle cx="553.1" cy="153.8" r="1.1"/><circle cx="545.3" cy="107.2" r="1.1"/><circle cx="562.8" cy="58.7" r="1.1"/><circle cx="549.5" cy="28" r="1.1"/><circle cx="555.9" cy="98.7" r="1.1"/><circle cx="547.3" cy="109.5" r="1.1"/><circle cx="536.1" cy="15.9" r="1.1"/><circle cx="546.3" cy="29" r="1.1"/><circle cx="540.7" cy="11.6" r="1.1"/><circle cx="558.8" cy="45.2" r="1.1"/><circle cx="538.2" cy="36" r="1.1"/><circle cx="565.6" cy="93.7" r="1.1"/><circle cx="544.8" cy="111.9" r="1.1"/><circle cx="546.4" cy="72.6" r="1.1"/><circle cx="563.4" cy="110.4" r="1.1"/><circle cx="555.8" cy="46.8" r="1.1"/><circle cx="552.6" cy="59" r="1.1"/><circle cx="529.7" cy="33.9" r="1.1"/><circle cx="550.9" cy="33.4" r="1.1"/><circle cx="566.3" cy="61.4" r="1.1"/><circle cx="554.7" cy="59" r="1.1"/><circle cx="547.4" cy="35.3" r="1.1"/><circle cx="572.1" cy="102" r="1.1"/><circle cx="571.4" cy="113" r="1.1"/><circle cx="558.7" cy="11.7" r="1.1"/><circle cx="550.8" cy="107" r="1.1"/><circle cx="568.5" cy="93.3" r="1.1"/><circle cx="554" cy="17.4" r="1.1"/><circle cx="542.3" cy="24.6" r="1.1"/><circle cx="554.5" cy="31" r="1.1"/><circle cx="536.3" cy="46.3" r="1.1"/><circle cx="559.2" cy="52" r="1.1"/><circle cx="560.3" cy="165.6" r="1.1"/><circle cx="548.3" cy="101.4" r="1.1"/><circle cx="544.9" cy="23.9" r="1.1"/><circle cx="549.2" cy="40.1" r="1.1"/><circle cx="558.1" cy="30.6" r="1.1"/><circle cx="533.3" cy="32.1" r="1.1"/><circle cx="563" cy="49.6" r="1.1"/><circle cx="551.5" cy="99.1" r="1.1"/><circle cx="569.7" cy="117.8" r="1.1"/><circle cx="562" cy="34.3" r="1.1"/><circle cx="530.5" cy="27.2" r="1.1"/><circle cx="564.7" cy="115.8" r="1.1"/><circle cx="560.9" cy="21.8" r="1.1"/><circle cx="534.6" cy="55" r="1.1"/><circle cx="579.3" cy="115.3" r="1.1"/><circle cx="520" cy="17.7" r="1.1"/><circle cx="622.7" cy="66.4" r="1.1"/><circle cx="546.4" cy="20.9" r="1.1"/><circle cx="571.4" cy="37.9" r="1.1"/><circle cx="553.6" cy="50.2" r="1.1"/><circle cx="564.6" cy="69.5" r="1.1"/><circle cx="561.2" cy="65.5" r="1.1"/><circle cx="572.8" cy="102.9" r="1.1"/><circle cx="553.9" cy="26.4" r="1.1"/><circle cx="549.6" cy="101.7" r="1.1"/><circle cx="557" cy="54.5" r="1.1"/><circle cx="555.3" cy="101.1" r="1.1"/><circle cx="551" cy="66.4" r="1.1"/><circle cx="540.4" cy="21.9" r="1.1"/><circle cx="557.5" cy="52" r="1.1"/><circle cx="578.1" cy="118.4" r="1.1"/><circle cx="522.7" cy="76.7" r="1.1"/><circle cx="534.5" cy="12.8" r="1.1"/><circle cx="527.8" cy="15.8" r="1.1"/><circle cx="531.3" cy="165" r="1.1"/><circle cx="555.7" cy="22.3" r="1.1"/><circle cx="565.2" cy="113.2" r="1.1"/><circle cx="563.8" cy="164.5" r="1.1"/><circle cx="567.7" cy="71.5" r="1.1"/><circle cx="545.5" cy="101.3" r="1.1"/><circle cx="565.2" cy="49.5" r="1.1"/><circle cx="612" cy="70" r="1.1"/><circle cx="619.7" cy="63.3" r="1.1"/><circle cx="626.9" cy="87.5" r="1.1"/><circle cx="555.3" cy="60.7" r="1.1"/><circle cx="554.5" cy="43.2" r="1.1"/><circle cx="565.1" cy="54.5" r="1.1"/><circle cx="582.7" cy="112.1" r="1.1"/><circle cx="546.5" cy="27.3" r="1.1"/><circle cx="560.3" cy="48.1" r="1.1"/><circle cx="564.3" cy="99.7" r="1.1"/><circle cx="559.9" cy="66.2" r="1.1"/><circle cx="549.7" cy="157.1" r="1.1"/><circle cx="561.1" cy="22.3" r="1.1"/><circle cx="573.3" cy="115.9" r="1.1"/><circle cx="535.9" cy="42.6" r="1.1"/><circle cx="550.5" cy="42.6" r="1.1"/><circle cx="567" cy="45.1" r="1.1"/><circle cx="532.8" cy="119" r="1.1"/><circle cx="569.7" cy="27.3" r="1.1"/><circle cx="557.8" cy="36.9" r="1.1"/><circle cx="563.3" cy="19.8" r="1.1"/><circle cx="552.3" cy="22.4" r="1.1"/><circle cx="534.8" cy="64.8" r="1.1"/><circle cx="611.2" cy="54.8" r="1.1"/><circle cx="570.9" cy="121.6" r="1.1"/><circle cx="567.7" cy="63.6" r="1.1"/><circle cx="562.3" cy="18.4" r="1.1"/><circle cx="546.9" cy="51.1" r="1.1"/><circle cx="534.8" cy="13.4" r="1.1"/><circle cx="533.6" cy="42.9" r="1.1"/><circle cx="525.9" cy="19.9" r="1.1"/><circle cx="559.9" cy="74" r="1.1"/><circle cx="561.4" cy="66.3" r="1.1"/><circle cx="557.2" cy="50.8" r="1.1"/><circle cx="563.5" cy="110.2" r="1.1"/><circle cx="623.5" cy="163.9" r="1.1"/><circle cx="624.3" cy="59.3" r="1.1"/><circle cx="524.2" cy="13.7" r="1.1"/><circle cx="536.2" cy="29.2" r="1.1"/><circle cx="557.8" cy="12.9" r="1.1"/><circle cx="574.6" cy="114.2" r="1.1"/><circle cx="549.1" cy="21.6" r="1.1"/><circle cx="551" cy="16" r="1.1"/><circle cx="528.5" cy="30" r="1.1"/><circle cx="532.4" cy="22.1" r="1.1"/><circle cx="564.2" cy="43.8" r="1.1"/><circle cx="617.6" cy="92.5" r="1.1"/><circle cx="526.6" cy="45.6" r="1.1"/><circle cx="577.6" cy="118.4" r="1.1"/><circle cx="539.4" cy="141.9" r="1.1"/><circle cx="537.3" cy="33" r="1.1"/><circle cx="550.9" cy="37.8" r="1.1"/><circle cx="554.3" cy="48.7" r="1.1"/><circle cx="547.8" cy="53.3" r="1.1"/><circle cx="557" cy="22.4" r="1.1"/><circle cx="541.1" cy="121.1" r="1.1"/><circle cx="522.3" cy="24.6" r="1.1"/><circle cx="544.2" cy="103.2" r="1.1"/><circle cx="559.9" cy="112.2" r="1.1"/><circle cx="563.1" cy="115.8" r="1.1"/><circle cx="527.7" cy="19.1" r="1.1"/><circle cx="530.4" cy="22.4" r="1.1"/><circle cx="615.1" cy="55.3" r="1.1"/><circle cx="528.5" cy="163.3" r="1.1"/><circle cx="530.5" cy="22.5" r="1.1"/><circle cx="567.4" cy="30.8" r="1.1"/><circle cx="567.5" cy="50.5" r="1.1"/><circle cx="555.9" cy="69.1" r="1.1"/><circle cx="567.8" cy="50.7" r="1.1"/><circle cx="549.7" cy="22.5" r="1.1"/><circle cx="561.6" cy="63.3" r="1.1"/><circle cx="543.3" cy="97.6" r="1.1"/><circle cx="554.8" cy="54.9" r="1.1"/><circle cx="584.1" cy="25" r="1.1"/><circle cx="545.2" cy="36.8" r="1.1"/><circle cx="548.4" cy="24.8" r="1.1"/><circle cx="563.9" cy="90.9" r="1.1"/><circle cx="545.1" cy="104.7" r="1.1"/><circle cx="561.1" cy="98.7" r="1.1"/><circle cx="566.6" cy="72.4" r="1.1"/><circle cx="517" cy="41.8" r="1.1"/><circle cx="522.4" cy="31" r="1.1"/><circle cx="539.3" cy="39.9" r="1.1"/><circle cx="542.2" cy="35.4" r="1.1"/><circle cx="579.5" cy="116.9" r="1.1"/><circle cx="564" cy="70.8" r="1.1"/><circle cx="536.6" cy="118.5" r="1.1"/><circle cx="556.2" cy="69.3" r="1.1"/><circle cx="563.6" cy="15.9" r="1.1"/><circle cx="571" cy="106.7" r="1.1"/><circle cx="523.8" cy="13" r="1.1"/><circle cx="546.3" cy="91.4" r="1.1"/><circle cx="556.6" cy="34.7" r="1.1"/><circle cx="536.1" cy="36.3" r="1.1"/><circle cx="579.3" cy="97.1" r="1.1"/><circle cx="552" cy="26" r="1.1"/><circle cx="526.6" cy="63.7" r="1.1"/><circle cx="540" cy="18.6" r="1.1"/><circle cx="528.1" cy="153.6" r="1.1"/><circle cx="566.9" cy="53.4" r="1.1"/><circle cx="582.2" cy="35.9" r="1.1"/><circle cx="531.5" cy="62.2" r="1.1"/><circle cx="574.2" cy="117.2" r="1.1"/><circle cx="557" cy="21" r="1.1"/><circle cx="608.4" cy="51.6" r="1.1"/><circle cx="560.4" cy="42.9" r="1.1"/><circle cx="565.4" cy="113" r="1.1"/><circle cx="587.2" cy="44.9" r="1.1"/><circle cx="528.4" cy="25.7" r="1.1"/><circle cx="565.7" cy="63.2" r="1.1"/><circle cx="563.6" cy="98.2" r="1.1"/><circle cx="562.7" cy="118.4" r="1.1"/><circle cx="532.8" cy="36.6" r="1.1"/><circle cx="557.5" cy="111.6" r="1.1"/><circle cx="573.6" cy="102.6" r="1.1"/><circle cx="543.7" cy="27.3" r="1.1"/><circle cx="542.7" cy="102.4" r="1.1"/><circle cx="616.9" cy="70" r="1.1"/><circle cx="521.6" cy="50.5" r="1.1"/><circle cx="553.8" cy="25" r="1.1"/><circle cx="553.4" cy="58.7" r="1.1"/><circle cx="531.7" cy="46.6" r="1.1"/><circle cx="558" cy="28.7" r="1.1"/><circle cx="533.7" cy="86" r="1.1"/><circle cx="537.6" cy="46.5" r="1.1"/><circle cx="553.7" cy="49.4" r="1.1"/><circle cx="561.2" cy="54.7" r="1.1"/><circle cx="550" cy="29.5" r="1.1"/><circle cx="554.8" cy="108.5" r="1.1"/><circle cx="563.3" cy="69.5" r="1.1"/><circle cx="540.7" cy="35.9" r="1.1"/><circle cx="561.8" cy="53.6" r="1.1"/><circle cx="553.9" cy="15.2" r="1.1"/><circle cx="533.9" cy="32.8" r="1.1"/><circle cx="525.6" cy="82.7" r="1.1"/><circle cx="515.4" cy="26.2" r="1.1"/><circle cx="555.2" cy="109.2" r="1.1"/><circle cx="642.8" cy="47.5" r="1.1"/><circle cx="565.4" cy="55.9" r="1.1"/><circle cx="554.8" cy="27.7" r="1.1"/><circle cx="571.8" cy="28.3" r="1.1"/><circle cx="553.4" cy="61.1" r="1.1"/><circle cx="546.5" cy="19.9" r="1.1"/><circle cx="561.7" cy="21.9" r="1.1"/><circle cx="550.7" cy="40.7" r="1.1"/><circle cx="617.8" cy="73.3" r="1.1"/><circle cx="566.8" cy="47.8" r="1.1"/><circle cx="564.7" cy="42.7" r="1.1"/><circle cx="556.9" cy="44.8" r="1.1"/><circle cx="572.1" cy="30.2" r="1.1"/><circle cx="553.4" cy="102.5" r="1.1"/><circle cx="544.2" cy="110.1" r="1.1"/><circle cx="579" cy="129.7" r="1.1"/><circle cx="579.4" cy="160.6" r="1.1"/><circle cx="533.3" cy="77.3" r="1.1"/><circle cx="668.5" cy="25.6" r="1.1"/><circle cx="551.9" cy="51.6" r="1.1"/><circle cx="568.1" cy="101.7" r="1.1"/><circle cx="615.3" cy="65.4" r="1.1"/><circle cx="539.9" cy="41.7" r="1.1"/><circle cx="565.6" cy="50.6" r="1.1"/><circle cx="558.2" cy="66" r="1.1"/><circle cx="560.9" cy="27.3" r="1.1"/><circle cx="527.3" cy="166.6" r="1.1"/><circle cx="531.2" cy="38.8" r="1.1"/><circle cx="564.2" cy="34" r="1.1"/><circle cx="534.8" cy="37.4" r="1.1"/><circle cx="569.8" cy="120.7" r="1.1"/><circle cx="544.6" cy="163.4" r="1.1"/><circle cx="521.7" cy="13.1" r="1.1"/><circle cx="533.1" cy="23.4" r="1.1"/><circle cx="564.8" cy="52.6" r="1.1"/><circle cx="525.5" cy="30.9" r="1.1"/><circle cx="548.9" cy="15.1" r="1.1"/><circle cx="559.1" cy="17.7" r="1.1"/><circle cx="555.6" cy="99.8" r="1.1"/><circle cx="554.1" cy="69.3" r="1.1"/><circle cx="528.7" cy="156.4" r="1.1"/><circle cx="607.8" cy="79" r="1.1"/><circle cx="565.2" cy="61.2" r="1.1"/><circle cx="661.8" cy="116.9" r="1.1"/><circle cx="524.9" cy="17.2" r="1.1"/><circle cx="567.8" cy="66.4" r="1.1"/><circle cx="532.7" cy="62.6" r="1.1"/><circle cx="563.2" cy="30.8" r="1.1"/><circle cx="554.8" cy="71.6" r="1.1"/><circle cx="631.3" cy="89.1" r="1.1"/><circle cx="573.8" cy="22.2" r="1.1"/><circle cx="562.7" cy="28" r="1.1"/><circle cx="575.5" cy="32.4" r="1.1"/><circle cx="534.7" cy="43.9" r="1.1"/><circle cx="554.6" cy="35.1" r="1.1"/><circle cx="549.8" cy="18.9" r="1.1"/><circle cx="570.1" cy="124.4" r="1.1"/><circle cx="530.4" cy="19.7" r="1.1"/><circle cx="549" cy="114.3" r="1.1"/><circle cx="542.4" cy="103.1" r="1.1"/><circle cx="589" cy="123.8" r="1.1"/><circle cx="559.6" cy="51.7" r="1.1"/><circle cx="548.1" cy="51.8" r="1.1"/><circle cx="662.9" cy="88.3" r="1.1"/><circle cx="590.7" cy="115.1" r="1.1"/><circle cx="574.8" cy="98.4" r="1.1"/><circle cx="570.6" cy="119.6" r="1.1"/><circle cx="616.6" cy="72.7" r="1.1"/><circle cx="544.6" cy="111.5" r="1.1"/><circle cx="567.5" cy="62.7" r="1.1"/><circle cx="522.9" cy="21.1" r="1.1"/><circle cx="564.1" cy="95.5" r="1.1"/><circle cx="527.2" cy="29.1" r="1.1"/><circle cx="552.7" cy="40.2" r="1.1"/><circle cx="573.1" cy="112.1" r="1.1"/><circle cx="560.4" cy="102.3" r="1.1"/><circle cx="545.9" cy="40.6" r="1.1"/><circle cx="618.8" cy="93.7" r="1.1"/><circle cx="548.1" cy="75.4" r="1.1"/><circle cx="518.6" cy="13.5" r="1.1"/><circle cx="579.2" cy="120.1" r="1.1"/><circle cx="571.2" cy="115.8" r="1.1"/><circle cx="550.7" cy="105.6" r="1.1"/><circle cx="557.8" cy="108.9" r="1.1"/><circle cx="544.8" cy="108.2" r="1.1"/><circle cx="589.6" cy="129.5" r="1.1"/><circle cx="554.9" cy="43.9" r="1.1"/><circle cx="546.3" cy="85.1" r="1.1"/><circle cx="567.7" cy="31.5" r="1.1"/><circle cx="551.9" cy="86.3" r="1.1"/><circle cx="556.4" cy="107.2" r="1.1"/><circle cx="553.3" cy="90.6" r="1.1"/><circle cx="538.2" cy="30.8" r="1.1"/><circle cx="528" cy="30.7" r="1.1"/><circle cx="554.8" cy="60.8" r="1.1"/><circle cx="536.6" cy="104.7" r="1.1"/><circle cx="519.8" cy="98.3" r="1.1"/><circle cx="538.9" cy="33.5" r="1.1"/><circle cx="558" cy="44.7" r="1.1"/><circle cx="536.7" cy="46" r="1.1"/><circle cx="561.3" cy="94.3" r="1.1"/><circle cx="542.2" cy="23.2" r="1.1"/><circle cx="532.3" cy="46.8" r="1.1"/><circle cx="540.3" cy="149.6" r="1.1"/><circle cx="551.5" cy="60.2" r="1.1"/><circle cx="534.3" cy="56.4" r="1.1"/><circle cx="554.1" cy="41.6" r="1.1"/><circle cx="555.8" cy="52.7" r="1.1"/><circle cx="557.2" cy="70.9" r="1.1"/><circle cx="534.1" cy="14.3" r="1.1"/><circle cx="576.1" cy="114.2" r="1.1"/><circle cx="552.8" cy="64.6" r="1.1"/><circle cx="550.2" cy="113.9" r="1.1"/><circle cx="560.3" cy="102.5" r="1.1"/><circle cx="549.4" cy="38.3" r="1.1"/><circle cx="524.9" cy="15.5" r="1.1"/><circle cx="562.9" cy="32.5" r="1.1"/><circle cx="524.2" cy="108.9" r="1.1"/><circle cx="597.5" cy="67.4" r="1.1"/><circle cx="582.6" cy="106.7" r="1.1"/><circle cx="563" cy="51" r="1.1"/><circle cx="573" cy="112.3" r="1.1"/><circle cx="521.2" cy="116.8" r="1.1"/><circle cx="578.8" cy="20.2" r="1.1"/><circle cx="561.8" cy="63.1" r="1.1"/><circle cx="548.5" cy="15.9" r="1.1"/><circle cx="553.9" cy="25.8" r="1.1"/><circle cx="554.2" cy="16.3" r="1.1"/><circle cx="544.4" cy="26.4" r="1.1"/><circle cx="560" cy="82.6" r="1.1"/><circle cx="544.9" cy="61.4" r="1.1"/><circle cx="559.9" cy="18.9" r="1.1"/><circle cx="566.1" cy="14.7" r="1.1"/><circle cx="557.8" cy="63.1" r="1.1"/><circle cx="549.4" cy="13.3" r="1.1"/><circle cx="632.8" cy="90.9" r="1.1"/><circle cx="569.2" cy="101.3" r="1.1"/><circle cx="542.7" cy="149.3" r="1.1"/><circle cx="575.8" cy="112.1" r="1.1"/><circle cx="572.1" cy="118.6" r="1.1"/><circle cx="579" cy="29.5" r="1.1"/><circle cx="518.3" cy="27.6" r="1.1"/><circle cx="559.7" cy="45" r="1.1"/><circle cx="555.2" cy="74.7" r="1.1"/><circle cx="552.4" cy="59.8" r="1.1"/><circle cx="550.4" cy="111.4" r="1.1"/><circle cx="568.5" cy="41.5" r="1.1"/><circle cx="550.3" cy="19.7" r="1.1"/><circle cx="550.1" cy="36.2" r="1.1"/><circle cx="552.5" cy="14.6" r="1.1"/><circle cx="569.6" cy="103.7" r="1.1"/><circle cx="522.5" cy="34.8" r="1.1"/><circle cx="545.6" cy="18.7" r="1.1"/><circle cx="554.3" cy="58.8" r="1.1"/><circle cx="601.3" cy="114.7" r="1.1"/><circle cx="528" cy="154.1" r="1.1"/><circle cx="561.6" cy="11.6" r="1.1"/><circle cx="558.5" cy="58.3" r="1.1"/><circle cx="527.7" cy="56.2" r="1.1"/><circle cx="553.6" cy="158.1" r="1.1"/><circle cx="527" cy="45.3" r="1.1"/><circle cx="562" cy="39.5" r="1.1"/><circle cx="553.2" cy="17.4" r="1.1"/><circle cx="621.2" cy="76.3" r="1.1"/><circle cx="555.6" cy="16.4" r="1.1"/><circle cx="563.1" cy="103.1" r="1.1"/><circle cx="558.8" cy="68.1" r="1.1"/><circle cx="570.4" cy="115.3" r="1.1"/><circle cx="549.4" cy="35.4" r="1.1"/><circle cx="670.1" cy="45.1" r="1.1"/><circle cx="568.2" cy="154.5" r="1.1"/><circle cx="517.9" cy="21.6" r="1.1"/><circle cx="527.2" cy="23.9" r="1.1"/><circle cx="530.9" cy="109.8" r="1.1"/><circle cx="565" cy="105.6" r="1.1"/><circle cx="578.8" cy="91.6" r="1.1"/><circle cx="623.2" cy="76.8" r="1.1"/><circle cx="670.6" cy="167.8" r="1.1"/><circle cx="580.9" cy="168.3" r="1.1"/><circle cx="568.1" cy="34.9" r="1.1"/><circle cx="557.4" cy="109" r="1.1"/><circle cx="557.3" cy="130.5" r="1.1"/><circle cx="566" cy="116.9" r="1.1"/><circle cx="619.4" cy="66.4" r="1.1"/><circle cx="564.1" cy="55.6" r="1.1"/><circle cx="515.7" cy="41.9" r="1.1"/><circle cx="567.1" cy="110.2" r="1.1"/><circle cx="550.8" cy="89.7" r="1.1"/><circle cx="569.7" cy="106.1" r="1.1"/><circle cx="539.3" cy="48.6" r="1.1"/><circle cx="548.6" cy="43.6" r="1.1"/><circle cx="569.8" cy="32.1" r="1.1"/><circle cx="553.2" cy="30.7" r="1.1"/><circle cx="556.7" cy="33" r="1.1"/><circle cx="549.5" cy="32.1" r="1.1"/><circle cx="556.9" cy="48.3" r="1.1"/><circle cx="576.7" cy="112.8" r="1.1"/><circle cx="540" cy="38.5" r="1.1"/><circle cx="537.2" cy="13.9" r="1.1"/><circle cx="574.2" cy="82.4" r="1.1"/><circle cx="623.8" cy="72.4" r="1.1"/><circle cx="551.5" cy="33.9" r="1.1"/><circle cx="580.3" cy="38.1" r="1.1"/></g><rect x="512" y="10" width="162" height="160" fill="none" stroke="#555" stroke-width="0.5"/><polygon fill="#b0c4de" points="94.5,290 98,290 101,330 103,345 106,362 112,369 118,375 123,385 135,395 146.7,406 158.4,414 170,418 181.8,426 193.5,432 205,441 216.8,447 228.5,452 240,458 252,464 264,472 278,479 292,487 306,496 320,504 334,512 348,518 362,522 376,527 386,534 389,548 388,565 386,578 376,576 362,578 348,573 334,578 314,583 297.6,578 283.6,575 264,566 250,564 236,563 218.5,562 206.8,560 195,555 183.5,546 171.8,537 160,532.7 148.4,528 136.7,521 125,510.4 113.4,510.4 99.3,515 96,510 93,480 92,420 93,380"/><g fill="#b0c4de"><rect x="105.5" y="360.9" width="4.4" height="4.4" rx="1"/><rect x="106" y="358.6" width="4.4" height="4.4" rx="1"/><rect x="104.9" y="344.4" width="4.4" height="4.4" rx="1"/><rect x="109.8" y="367.9" width="4.4" height="4.4" rx="1"/><rect x="110.1" y="350.3" width="4.4" height="4.4" rx="1"/><rect x="113.4" y="365.4" width="4.4" height="4.4" rx="1"/><rect x="117.4" y="373.4" width="4.4" height="4.4" rx="1"/><rect x="116.6" y="367.6" width="4.4" height="4.4" rx="1"/><rect x="121" y="379.6" width="4.4" height="4.4" rx="1"/><rect x="120.5" y="376.9" width="4.4" height="4.4" rx="1"/><rect x="118.8" y="371.5" width="4.4" height="4.4" rx="1"/><rect x="122" y="384.9" width="4.4" height="4.4" rx="1"/><rect x="126.9" y="385.8" width="4.4" height="4.4" rx="1"/><rect x="128.2" y="376.8" width="4.4" height="4.4" rx="1"/><rect x="128" y="373.7" width="4.4" height="4.4" rx="1"/><rect x="132" y="390.6" width="4.4" height="4.4" rx="1"/><rect x="130.6" y="389.5" width="4.4" height="4.4" rx="1"/><rect x="132.1" y="379.4" width="4.4" height="4.4" rx="1"/><rect x="135.3" y="394.9" width="4.4" height="4.4" rx="1"/><rect x="135.2" y="389.1" width="4.4" height="4.4" rx="1"/><rect x="138.1" y="398.2" width="4.4" height="4.4" rx="1"/><rect x="140.2" y="400.3" width="4.4" height="4.4" rx="1"/><rect x="141.1" y="397.8" width="4.4" height="4.4" rx="1"/><rect x="139.6" y="393.3" width="4.4" height="4.4" rx="1"/><rect x="140" y="388.8" width="4.4" height="4.4" rx="1"/><rect x="146" y="404.8" width="4.4" height="4.4" rx="1"/><rect x="146.1" y="401.7" width="4.4" height="4.4" rx="1"/><rect x="147.7" y="376.8" width="4.4" height="4.4" rx="1"/><rect x="150.5" y="405.8" width="4.4" height="4.4" rx="1"/><rect x="149.7" y="402.8" width="4.4" height="4.4" rx="1"/><rect x="148.9" y="396.8" width="4.4" height="4.4" rx="1"/><rect x="152" y="407.8" width="4.4" height="4.4" rx="1"/><rect x="153.3" y="405.2" width="4.4" height="4.4" rx="1"/><rect x="152.4" y="403.4" width="4.4" height="4.4" rx="1"/><rect x="155.7" y="411.3" width="4.4" height="4.4" rx="1"/><rect x="156" y="405.9" width="4.4" height="4.4" rx="1"/><rect x="159.8" y="413.3" width="4.4" height="4.4" rx="1"/><rect x="160.7" y="414" width="4.4" height="4.4" rx="1"/><rect x="162.5" y="409.4" width="4.4" height="4.4" rx="1"/><rect x="162.5" y="406.4" width="4.4" height="4.4" rx="1"/><rect x="161.8" y="404.8" width="4.4" height="4.4" rx="1"/><rect x="165.3" y="414.6" width="4.4" height="4.4" rx="1"/><rect x="165.6" y="411.4" width="4.4" height="4.4" rx="1"/><rect x="164.5" y="409.1" width="4.4" height="4.4" rx="1"/><rect x="165.6" y="403.4" width="4.4" height="4.4" rx="1"/><rect x="167.6" y="413" width="4.4" height="4.4" rx="1"/><rect x="167.9" y="400.1" width="4.4" height="4.4" rx="1"/><rect x="171.1" y="406.4" width="4.4" height="4.4" rx="1"/><rect x="171.5" y="401.2" width="4.4" height="4.4" rx="1"/><rect x="174.4" y="418.5" width="4.4" height="4.4" rx="1"/><rect x="173.2" y="415.6" width="4.4" height="4.4" rx="1"/><rect x="177.4" y="413.1" width="4.4" height="4.4" rx="1"/><rect x="180.3" y="422.8" width="4.4" height="4.4" rx="1"/><rect x="180.6" y="420.2" width="4.4" height="4.4" rx="1"/><rect x="179.6" y="414.8" width="4.4" height="4.4" rx="1"/><rect x="179.1" y="411.8" width="4.4" height="4.4" rx="1"/><rect x="181.8" y="424" width="4.4" height="4.4" rx="1"/><rect x="182.9" y="422" width="4.4" height="4.4" rx="1"/><rect x="182" y="415.2" width="4.4" height="4.4" rx="1"/><rect x="185.7" y="426.5" width="4.4" height="4.4" rx="1"/><rect x="186" y="422.3" width="4.4" height="4.4" rx="1"/><rect x="185.7" y="415.1" width="4.4" height="4.4" rx="1"/><rect x="186.7" y="400.2" width="4.4" height="4.4" rx="1"/><rect x="188.6" y="428.3" width="4.4" height="4.4" rx="1"/><rect x="190" y="425.7" width="4.4" height="4.4" rx="1"/><rect x="189.8" y="422.6" width="4.4" height="4.4" rx="1"/><rect x="190.8" y="429.3" width="4.4" height="4.4" rx="1"/><rect x="190.6" y="426.3" width="4.4" height="4.4" rx="1"/><rect x="195.1" y="417.6" width="4.4" height="4.4" rx="1"/><rect x="194.1" y="407.7" width="4.4" height="4.4" rx="1"/><rect x="197.8" y="435.5" width="4.4" height="4.4" rx="1"/><rect x="199" y="431.7" width="4.4" height="4.4" rx="1"/><rect x="198" y="426" width="4.4" height="4.4" rx="1"/><rect x="198.8" y="421.6" width="4.4" height="4.4" rx="1"/><rect x="201" y="436.4" width="4.4" height="4.4" rx="1"/><rect x="201.2" y="433.9" width="4.4" height="4.4" rx="1"/><rect x="201.3" y="430.2" width="4.4" height="4.4" rx="1"/><rect x="200.2" y="426.6" width="4.4" height="4.4" rx="1"/><rect x="201.4" y="424.5" width="4.4" height="4.4" rx="1"/><rect x="202" y="416.8" width="4.4" height="4.4" rx="1"/><rect x="203.9" y="436.9" width="4.4" height="4.4" rx="1"/><rect x="205.9" y="440.2" width="4.4" height="4.4" rx="1"/><rect x="207" y="431.1" width="4.4" height="4.4" rx="1"/><rect x="210.1" y="441.5" width="4.4" height="4.4" rx="1"/><rect x="210.2" y="439" width="4.4" height="4.4" rx="1"/><rect x="212.6" y="443.7" width="4.4" height="4.4" rx="1"/><rect x="212.9" y="439.4" width="4.4" height="4.4" rx="1"/><rect x="213.2" y="437.5" width="4.4" height="4.4" rx="1"/><rect x="215.6" y="435.2" width="4.4" height="4.4" rx="1"/><rect x="218.5" y="445.1" width="4.4" height="4.4" rx="1"/><rect x="217.8" y="440.2" width="4.4" height="4.4" rx="1"/><rect x="218.1" y="425.5" width="4.4" height="4.4" rx="1"/><rect x="220.9" y="447" width="4.4" height="4.4" rx="1"/><rect x="220.9" y="441.9" width="4.4" height="4.4" rx="1"/><rect x="224.5" y="442.3" width="4.4" height="4.4" rx="1"/><rect x="228.4" y="451" width="4.4" height="4.4" rx="1"/><rect x="226.7" y="447.1" width="4.4" height="4.4" rx="1"/><rect x="227.9" y="429.8" width="4.4" height="4.4" rx="1"/><rect x="231.1" y="450.8" width="4.4" height="4.4" rx="1"/><rect x="230.1" y="443.3" width="4.4" height="4.4" rx="1"/><rect x="234.3" y="454.2" width="4.4" height="4.4" rx="1"/><rect x="234.6" y="450.6" width="4.4" height="4.4" rx="1"/><rect x="236" y="455.4" width="4.4" height="4.4" rx="1"/><rect x="236" y="448.1" width="4.4" height="4.4" rx="1"/><rect x="236.3" y="435.9" width="4.4" height="4.4" rx="1"/><rect x="240.8" y="455.2" width="4.4" height="4.4" rx="1"/><rect x="239" y="452.6" width="4.4" height="4.4" rx="1"/><rect x="240.3" y="450.5" width="4.4" height="4.4" rx="1"/><rect x="239" y="446.8" width="4.4" height="4.4" rx="1"/><rect x="240.4" y="443.8" width="4.4" height="4.4" rx="1"/><rect x="243.9" y="457.8" width="4.4" height="4.4" rx="1"/><rect x="241.7" y="455.9" width="4.4" height="4.4" rx="1"/><rect x="242.7" y="427.5" width="4.4" height="4.4" rx="1"/><rect x="246.1" y="458.5" width="4.4" height="4.4" rx="1"/><rect x="245.4" y="455.7" width="4.4" height="4.4" rx="1"/><rect x="246.6" y="430.1" width="4.4" height="4.4" rx="1"/><rect x="248.2" y="461.3" width="4.4" height="4.4" rx="1"/><rect x="248.8" y="457.7" width="4.4" height="4.4" rx="1"/><rect x="251.9" y="461.8" width="4.4" height="4.4" rx="1"/><rect x="251.3" y="455.6" width="4.4" height="4.4" rx="1"/><rect x="254.5" y="459.1" width="4.4" height="4.4" rx="1"/><rect x="255" y="455.5" width="4.4" height="4.4" rx="1"/><rect x="256" y="453.4" width="4.4" height="4.4" rx="1"/><rect x="258.2" y="466" width="4.4" height="4.4" rx="1"/><rect x="258.4" y="463.2" width="4.4" height="4.4" rx="1"/><rect x="260.6" y="469.4" width="4.4" height="4.4" rx="1"/><rect x="260.1" y="461.8" width="4.4" height="4.4" rx="1"/><rect x="260.6" y="458.6" width="4.4" height="4.4" rx="1"/><rect x="262.6" y="470.1" width="4.4" height="4.4" rx="1"/><rect x="263.4" y="451.9" width="4.4" height="4.4" rx="1"/><rect x="267.4" y="466.8" width="4.4" height="4.4" rx="1"/><rect x="270.9" y="473.6" width="4.4" height="4.4" rx="1"/><rect x="268.8" y="469.7" width="4.4" height="4.4" rx="1"/><rect x="272.9" y="474.9" width="4.4" height="4.4" rx="1"/><rect x="273.8" y="473" width="4.4" height="4.4" rx="1"/><rect x="273.6" y="462.3" width="4.4" height="4.4" rx="1"/><rect x="275" y="477.5" width="4.4" height="4.4" rx="1"/><rect x="275.1" y="449.2" width="4.4" height="4.4" rx="1"/><rect x="278" y="478.1" width="4.4" height="4.4" rx="1"/><rect x="279" y="474.6" width="4.4" height="4.4" rx="1"/><rect x="279.2" y="468.2" width="4.4" height="4.4" rx="1"/><rect x="283" y="480.5" width="4.4" height="4.4" rx="1"/><rect x="281.6" y="473.9" width="4.4" height="4.4" rx="1"/><rect x="285" y="482" width="4.4" height="4.4" rx="1"/><rect x="285" y="477.4" width="4.4" height="4.4" rx="1"/><rect x="284.7" y="475.4" width="4.4" height="4.4" rx="1"/><rect x="285.3" y="469.5" width="4.4" height="4.4" rx="1"/><rect x="288.7" y="483" width="4.4" height="4.4" rx="1"/><rect x="288.4" y="477.3" width="4.4" height="4.4" rx="1"/><rect x="288.5" y="470.3" width="4.4" height="4.4" rx="1"/><rect x="287.2" y="461.7" width="4.4" height="4.4" rx="1"/><rect x="290.5" y="485.1" width="4.4" height="4.4" rx="1"/><rect x="289.7" y="482.9" width="4.4" height="4.4" rx="1"/><rect x="290.8" y="480" width="4.4" height="4.4" rx="1"/><rect x="293" y="487.8" width="4.4" height="4.4" rx="1"/><rect x="294.1" y="480.1" width="4.4" height="4.4" rx="1"/><rect x="292.9" y="475.4" width="4.4" height="4.4" rx="1"/><rect x="295.8" y="488.1" width="4.4" height="4.4" rx="1"/><rect x="297.3" y="485.1" width="4.4" height="4.4" rx="1"/><rect x="296.2" y="483.2" width="4.4" height="4.4" rx="1"/><rect x="300.1" y="489.7" width="4.4" height="4.4" rx="1"/><rect x="300" y="475.2" width="4.4" height="4.4" rx="1"/><rect x="302.9" y="491.9" width="4.4" height="4.4" rx="1"/><rect x="302.7" y="484.3" width="4.4" height="4.4" rx="1"/><rect x="305.8" y="494.5" width="4.4" height="4.4" rx="1"/><rect x="309.5" y="495.5" width="4.4" height="4.4" rx="1"/><rect x="308.1" y="493.3" width="4.4" height="4.4" rx="1"/><rect x="309" y="487.7" width="4.4" height="4.4" rx="1"/><rect x="308.8" y="472" width="4.4" height="4.4" rx="1"/><rect x="312.8" y="498" width="4.4" height="4.4" rx="1"/><rect x="312.5" y="494.2" width="4.4" height="4.4" rx="1"/><rect x="311.3" y="490.8" width="4.4" height="4.4" rx="1"/><rect x="315.3" y="500.4" width="4.4" height="4.4" rx="1"/><rect x="314.6" y="493.3" width="4.4" height="4.4" rx="1"/><rect x="315.9" y="489.5" width="4.4" height="4.4" rx="1"/><rect x="317.5" y="497.8" width="4.4" height="4.4" rx="1"/><rect x="316.7" y="493.5" width="4.4" height="4.4" rx="1"/><rect x="320.4" y="504.2" width="4.4" height="4.4" rx="1"/><rect x="320.6" y="497.4" width="4.4" height="4.4" rx="1"/><rect x="320.4" y="494.5" width="4.4" height="4.4" rx="1"/><rect x="323.4" y="504" width="4.4" height="4.4" rx="1"/><rect x="323" y="501" width="4.4" height="4.4" rx="1"/><rect x="323.7" y="498.3" width="4.4" height="4.4" rx="1"/><rect x="325.6" y="505.7" width="4.4" height="4.4" rx="1"/><rect x="326.5" y="504.5" width="4.4" height="4.4" rx="1"/><rect x="326.5" y="496.6" width="4.4" height="4.4" rx="1"/><rect x="326.4" y="479.2" width="4.4" height="4.4" rx="1"/><rect x="330.4" y="508.2" width="4.4" height="4.4" rx="1"/><rect x="329.5" y="504.5" width="4.4" height="4.4" rx="1"/><rect x="329" y="502.4" width="4.4" height="4.4" rx="1"/><rect x="329.3" y="499" width="4.4" height="4.4" rx="1"/><rect x="333.3" y="509.5" width="4.4" height="4.4" rx="1"/><rect x="336.2" y="509" width="4.4" height="4.4" rx="1"/><rect x="338.5" y="511.9" width="4.4" height="4.4" rx="1"/><rect x="342" y="514.1" width="4.4" height="4.4" rx="1"/><rect x="341.5" y="504.3" width="4.4" height="4.4" rx="1"/><rect x="341.6" y="500.5" width="4.4" height="4.4" rx="1"/><rect x="350.5" y="517.9" width="4.4" height="4.4" rx="1"/><rect x="350.1" y="513.1" width="4.4" height="4.4" rx="1"/><rect x="350.9" y="504.5" width="4.4" height="4.4" rx="1"/><rect x="353.4" y="515.5" width="4.4" height="4.4" rx="1"/><rect x="356.3" y="519" width="4.4" height="4.4" rx="1"/><rect x="359.7" y="520" width="4.4" height="4.4" rx="1"/><rect x="360.7" y="514.2" width="4.4" height="4.4" rx="1"/><rect x="359.2" y="510.3" width="4.4" height="4.4" rx="1"/><rect x="364.6" y="521.6" width="4.4" height="4.4" rx="1"/><rect x="367.7" y="522" width="4.4" height="4.4" rx="1"/><rect x="368.4" y="512.4" width="4.4" height="4.4" rx="1"/><rect x="373.9" y="524.6" width="4.4" height="4.4" rx="1"/><rect x="375" y="521.1" width="4.4" height="4.4" rx="1"/><rect x="377" y="527.1" width="4.4" height="4.4" rx="1"/><rect x="378.7" y="521.1" width="4.4" height="4.4" rx="1"/><rect x="380" y="510.3" width="4.4" height="4.4" rx="1"/><rect x="383.1" y="532.4" width="4.4" height="4.4" rx="1"/><rect x="383.9" y="529" width="4.4" height="4.4" rx="1"/><rect x="387.8" y="541.2" width="4.4" height="4.4" rx="1"/><rect x="136.8" y="523.9" width="4.4" height="4.4" rx="1"/><rect x="140" y="522.1" width="4.4" height="4.4" rx="1"/><rect x="140.4" y="525.9" width="4.4" height="4.4" rx="1"/><rect x="140.8" y="528.8" width="4.4" height="4.4" rx="1"/><rect x="144.7" y="524.4" width="4.4" height="4.4" rx="1"/><rect x="145" y="530.7" width="4.4" height="4.4" rx="1"/><rect x="146.3" y="530" width="4.4" height="4.4" rx="1"/><rect x="150.1" y="530.5" width="4.4" height="4.4" rx="1"/><rect x="155.7" y="530.6" width="4.4" height="4.4" rx="1"/><rect x="157.7" y="531.7" width="4.4" height="4.4" rx="1"/><rect x="163" y="533" width="4.4" height="4.4" rx="1"/><rect x="162.4" y="536.6" width="4.4" height="4.4" rx="1"/><rect x="164.2" y="534.4" width="4.4" height="4.4" rx="1"/><rect x="168.7" y="538.2" width="4.4" height="4.4" rx="1"/><rect x="170.3" y="539.6" width="4.4" height="4.4" rx="1"/><rect x="170.9" y="542.9" width="4.4" height="4.4" rx="1"/><rect x="175.8" y="539.7" width="4.4" height="4.4" rx="1"/><rect x="180.6" y="543.4" width="4.4" height="4.4" rx="1"/><rect x="181" y="548.4" width="4.4" height="4.4" rx="1"/><rect x="183.2" y="545.3" width="4.4" height="4.4" rx="1"/><rect x="182.4" y="548" width="4.4" height="4.4" rx="1"/><rect x="184.9" y="548.3" width="4.4" height="4.4" rx="1"/><rect x="184.9" y="554.9" width="4.4" height="4.4" rx="1"/><rect x="192.1" y="552.3" width="4.4" height="4.4" rx="1"/><rect x="195.3" y="553.5" width="4.4" height="4.4" rx="1"/><rect x="197.7" y="556.5" width="4.4" height="4.4" rx="1"/><rect x="200.3" y="556.5" width="4.4" height="4.4" rx="1"/><rect x="202.9" y="558.9" width="4.4" height="4.4" rx="1"/><rect x="203.6" y="560.6" width="4.4" height="4.4" rx="1"/><rect x="207.8" y="557.7" width="4.4" height="4.4" rx="1"/><rect x="210.1" y="565.1" width="4.4" height="4.4" rx="1"/><rect x="213.1" y="560.8" width="4.4" height="4.4" rx="1"/><rect x="217" y="559.2" width="4.4" height="4.4" rx="1"/><rect x="218.5" y="559.6" width="4.4" height="4.4" rx="1"/><rect x="222.4" y="560" width="4.4" height="4.4" rx="1"/><rect x="225.7" y="561.9" width="4.4" height="4.4" rx="1"/><rect x="224.4" y="566.9" width="4.4" height="4.4" rx="1"/><rect x="227.8" y="560.1" width="4.4" height="4.4" rx="1"/><rect x="226.8" y="567" width="4.4" height="4.4" rx="1"/><rect x="229.7" y="560.5" width="4.4" height="4.4" rx="1"/><rect x="234.9" y="564.4" width="4.4" height="4.4" rx="1"/><rect x="235.6" y="560.7" width="4.4" height="4.4" rx="1"/><rect x="238.9" y="561.3" width="4.4" height="4.4" rx="1"/><rect x="242.2" y="561" width="4.4" height="4.4" rx="1"/><rect x="248.5" y="565.3" width="4.4" height="4.4" rx="1"/><rect x="252.6" y="561.8" width="4.4" height="4.4" rx="1"/><rect x="254.4" y="563.3" width="4.4" height="4.4" rx="1"/><rect x="255.4" y="566.3" width="4.4" height="4.4" rx="1"/><rect x="254.6" y="570.4" width="4.4" height="4.4" rx="1"/><rect x="255" y="573.4" width="4.4" height="4.4" rx="1"/><rect x="257.3" y="564" width="4.4" height="4.4" rx="1"/><rect x="259.8" y="563.6" width="4.4" height="4.4" rx="1"/><rect x="261.5" y="567" width="4.4" height="4.4" rx="1"/><rect x="265" y="566" width="4.4" height="4.4" rx="1"/><rect x="263.4" y="569" width="4.4" height="4.4" rx="1"/><rect x="267.1" y="566.7" width="4.4" height="4.4" rx="1"/><rect x="267.8" y="576.2" width="4.4" height="4.4" rx="1"/><rect x="267.4" y="581.4" width="4.4" height="4.4" rx="1"/><rect x="271" y="569" width="4.4" height="4.4" rx="1"/><rect x="270.5" y="570.8" width="4.4" height="4.4" rx="1"/><rect x="272.4" y="569.9" width="4.4" height="4.4" rx="1"/><rect x="271.9" y="573.2" width="4.4" height="4.4" rx="1"/><rect x="276.9" y="570.9" width="4.4" height="4.4" rx="1"/><rect x="279.7" y="572" width="4.4" height="4.4" rx="1"/><rect x="278.6" y="574.8" width="4.4" height="4.4" rx="1"/><rect x="282.5" y="572.4" width="4.4" height="4.4" rx="1"/><rect x="284.4" y="574.2" width="4.4" height="4.4" rx="1"/><rect x="287.8" y="575.8" width="4.4" height="4.4" rx="1"/><rect x="288.3" y="577" width="4.4" height="4.4" rx="1"/><rect x="291.6" y="575" width="4.4" height="4.4" rx="1"/><rect x="297.6" y="575.6" width="4.4" height="4.4" rx="1"/><rect x="302.9" y="578.8" width="4.4" height="4.4" rx="1"/><rect x="303.4" y="581.8" width="4.4" height="4.4" rx="1"/><rect x="307.6" y="580.5" width="4.4" height="4.4" rx="1"/><rect x="308.3" y="582.8" width="4.4" height="4.4" rx="1"/><rect x="308.8" y="585.8" width="4.4" height="4.4" rx="1"/><rect x="312.7" y="585.2" width="4.4" height="4.4" rx="1"/><rect x="315.8" y="581.2" width="4.4" height="4.4" rx="1"/><rect x="313.7" y="584.6" width="4.4" height="4.4" rx="1"/><rect x="318.4" y="580.9" width="4.4" height="4.4" rx="1"/><rect x="321.9" y="579.4" width="4.4" height="4.4" rx="1"/><rect x="321.8" y="581.1" width="4.4" height="4.4" rx="1"/><rect x="324.2" y="580.3" width="4.4" height="4.4" rx="1"/><rect x="324" y="585.5" width="4.4" height="4.4" rx="1"/><rect x="325.8" y="577.6" width="4.4" height="4.4" rx="1"/><rect x="326.9" y="580.2" width="4.4" height="4.4" rx="1"/><rect x="328.8" y="576.8" width="4.4" height="4.4" rx="1"/><rect x="333.3" y="577" width="4.4" height="4.4" rx="1"/><rect x="335.8" y="575.1" width="4.4" height="4.4" rx="1"/><rect x="339.9" y="572.7" width="4.4" height="4.4" rx="1"/><rect x="339.7" y="577.9" width="4.4" height="4.4" rx="1"/><rect x="337.7" y="580.6" width="4.4" height="4.4" rx="1"/><rect x="340.8" y="579.4" width="4.4" height="4.4" rx="1"/><rect x="344.4" y="570.5" width="4.4" height="4.4" rx="1"/><rect x="347.7" y="571.4" width="4.4" height="4.4" rx="1"/><rect x="350.2" y="576.5" width="4.4" height="4.4" rx="1"/><rect x="353.2" y="573.7" width="4.4" height="4.4" rx="1"/><rect x="354.3" y="577.6" width="4.4" height="4.4" rx="1"/><rect x="356.1" y="575" width="4.4" height="4.4" rx="1"/><rect x="358.9" y="577" width="4.4" height="4.4" rx="1"/><rect x="363.4" y="575.8" width="4.4" height="4.4" rx="1"/><rect x="362.8" y="581.6" width="4.4" height="4.4" rx="1"/><rect x="363.8" y="584" width="4.4" height="4.4" rx="1"/><rect x="367.9" y="578.4" width="4.4" height="4.4" rx="1"/><rect x="370.9" y="574" width="4.4" height="4.4" rx="1"/><rect x="371" y="580.2" width="4.4" height="4.4" rx="1"/><rect x="371.3" y="582.8" width="4.4" height="4.4" rx="1"/><rect x="375" y="575.1" width="4.4" height="4.4" rx="1"/><rect x="378.4" y="576.1" width="4.4" height="4.4" rx="1"/><rect x="384.9" y="577.4" width="4.4" height="4.4" rx="1"/><rect x="384.4" y="579.1" width="4.4" height="4.4" rx="1"/><rect x="383" y="581.5" width="4.4" height="4.4" rx="1"/><rect x="164.7" y="295.1" width="4.4" height="4.4" rx="1"/><rect x="126.4" y="312" width="4.4" height="4.4" rx="1"/><rect x="161.3" y="324.3" width="4.4" height="4.4" rx="1"/><rect x="116.1" y="326.8" width="4.4" height="4.4" rx="1"/><rect x="219.7" y="333.5" width="4.4" height="4.4" rx="1"/><rect x="104.8" y="339.3" width="4.4" height="4.4" rx="1"/><rect x="141.1" y="341.1" width="4.4" height="4.4" rx="1"/><rect x="138.6" y="344.4" width="4.4" height="4.4" rx="1"/><rect x="104.8" y="348.1" width="4.4" height="4.4" rx="1"/><rect x="106.2" y="361.4" width="4.4" height="4.4" rx="1"/><rect x="115.1" y="362.4" width="4.4" height="4.4" rx="1"/><rect x="139.7" y="372.7" width="4.4" height="4.4" rx="1"/><rect x="150" y="377.1" width="4.4" height="4.4" rx="1"/><rect x="128.6" y="383.5" width="4.4" height="4.4" rx="1"/><rect x="144.1" y="383.5" width="4.4" height="4.4" rx="1"/><rect x="181.5" y="395.1" width="4.4" height="4.4" rx="1"/><rect x="207.3" y="395.1" width="4.4" height="4.4" rx="1"/><rect x="163.4" y="401.3" width="4.4" height="4.4" rx="1"/><rect x="183.6" y="404" width="4.4" height="4.4" rx="1"/><rect x="197" y="404" width="4.4" height="4.4" rx="1"/><rect x="207.3" y="407.5" width="4.4" height="4.4" rx="1"/><rect x="220.7" y="407.5" width="4.4" height="4.4" rx="1"/><rect x="226.5" y="404" width="4.4" height="4.4" rx="1"/><rect x="241.3" y="414.3" width="4.4" height="4.4" rx="1"/><rect x="264.6" y="417.4" width="4.4" height="4.4" rx="1"/><rect x="281.4" y="434.6" width="4.4" height="4.4" rx="1"/><rect x="298.2" y="442.2" width="4.4" height="4.4" rx="1"/><rect x="256.2" y="442.2" width="4.4" height="4.4" rx="1"/><rect x="246.4" y="447.8" width="4.4" height="4.4" rx="1"/><rect x="272.8" y="450.5" width="4.4" height="4.4" rx="1"/><rect x="339.6" y="436" width="4.4" height="4.4" rx="1"/><rect x="317.8" y="449.1" width="4.4" height="4.4" rx="1"/><rect x="333.1" y="456.1" width="4.4" height="4.4" rx="1"/><rect x="323.3" y="461.8" width="4.4" height="4.4" rx="1"/><rect x="306.5" y="467.3" width="4.4" height="4.4" rx="1"/><rect x="393.3" y="464.5" width="4.4" height="4.4" rx="1"/><rect x="393.3" y="468.3" width="4.4" height="4.4" rx="1"/><rect x="393.3" y="472.3" width="4.4" height="4.4" rx="1"/><rect x="393.3" y="475.8" width="4.4" height="4.4" rx="1"/><rect x="356.8" y="474.3" width="4.4" height="4.4" rx="1"/><rect x="341.5" y="470.1" width="4.4" height="4.4" rx="1"/><rect x="347.1" y="475.8" width="4.4" height="4.4" rx="1"/><rect x="361.1" y="489.8" width="4.4" height="4.4" rx="1"/><rect x="368.1" y="497.6" width="4.4" height="4.4" rx="1"/><rect x="386.3" y="498.1" width="4.4" height="4.4" rx="1"/><rect x="404.5" y="492.5" width="4.4" height="4.4" rx="1"/><rect x="394.7" y="503.8" width="4.4" height="4.4" rx="1"/><rect x="396.1" y="514.3" width="4.4" height="4.4" rx="1"/><rect x="415.7" y="514.8" width="4.4" height="4.4" rx="1"/><rect x="321.9" y="486.9" width="4.4" height="4.4" rx="1"/><rect x="337.3" y="488.3" width="4.4" height="4.4" rx="1"/><rect x="348.5" y="498.1" width="4.4" height="4.4" rx="1"/><rect x="356.8" y="509.3" width="4.4" height="4.4" rx="1"/><rect x="233.8" y="422.6" width="4.4" height="4.4" rx="1"/><rect x="236.6" y="436.6" width="4.4" height="4.4" rx="1"/><rect x="219.7" y="401.8" width="4.4" height="4.4" rx="1"/><rect x="225.8" y="404" width="4.4" height="4.4" rx="1"/><rect x="256.8" y="441.1" width="4.4" height="4.4" rx="1"/><rect x="273.3" y="441.1" width="4.4" height="4.4" rx="1"/><rect x="281.5" y="434.5" width="4.4" height="4.4" rx="1"/><rect x="295.8" y="442.1" width="4.4" height="4.4" rx="1"/><rect x="273.3" y="451.4" width="4.4" height="4.4" rx="1"/><rect x="286.7" y="458.6" width="4.4" height="4.4" rx="1"/><rect x="289.8" y="463.8" width="4.4" height="4.4" rx="1"/><rect x="293.8" y="477.2" width="4.4" height="4.4" rx="1"/><rect x="281.8" y="434.4" width="4.4" height="4.4" rx="1"/><rect x="297.7" y="442.3" width="4.4" height="4.4" rx="1"/><rect x="256.8" y="440.8" width="4.4" height="4.4" rx="1"/><rect x="272.8" y="440.8" width="4.4" height="4.4" rx="1"/><rect x="248.8" y="447.5" width="4.4" height="4.4" rx="1"/><rect x="274" y="451.4" width="4.4" height="4.4" rx="1"/><rect x="317.4" y="448.8" width="4.4" height="4.4" rx="1"/><rect x="339.8" y="435.7" width="4.4" height="4.4" rx="1"/><rect x="334.4" y="455.8" width="4.4" height="4.4" rx="1"/><rect x="334.4" y="460.8" width="4.4" height="4.4" rx="1"/><rect x="334.4" y="466.8" width="4.4" height="4.4" rx="1"/><rect x="320" y="455.4" width="4.4" height="4.4" rx="1"/><rect x="322.6" y="461.8" width="4.4" height="4.4" rx="1"/><rect x="322.6" y="465.8" width="4.4" height="4.4" rx="1"/><rect x="322.6" y="469.8" width="4.4" height="4.4" rx="1"/><rect x="305.5" y="461.8" width="4.4" height="4.4" rx="1"/><rect x="305.5" y="466.8" width="4.4" height="4.4" rx="1"/><rect x="309.5" y="467.2" width="4.4" height="4.4" rx="1"/><rect x="288.5" y="461.8" width="4.4" height="4.4" rx="1"/><rect x="285.8" y="457.8" width="4.4" height="4.4" rx="1"/><rect x="341" y="468.5" width="4.4" height="4.4" rx="1"/><rect x="338.4" y="477.8" width="4.4" height="4.4" rx="1"/><rect x="346.3" y="475.1" width="4.4" height="4.4" rx="1"/><rect x="358.1" y="475.1" width="4.4" height="4.4" rx="1"/><rect x="351.5" y="482.8" width="4.4" height="4.4" rx="1"/><rect x="360.8" y="487.8" width="4.4" height="4.4" rx="1"/><rect x="360.8" y="493.5" width="4.4" height="4.4" rx="1"/><rect x="335.8" y="488.2" width="4.4" height="4.4" rx="1"/><rect x="320" y="486.8" width="4.4" height="4.4" rx="1"/><rect x="368.6" y="497.4" width="4.4" height="4.4" rx="1"/><rect x="348.8" y="498.8" width="4.4" height="4.4" rx="1"/><rect x="392.2" y="464.8" width="4.4" height="4.4" rx="1"/><rect x="392.2" y="468.8" width="4.4" height="4.4" rx="1"/><rect x="392.2" y="472.8" width="4.4" height="4.4" rx="1"/><rect x="392.2" y="477.8" width="4.4" height="4.4" rx="1"/><rect x="404.1" y="490.8" width="4.4" height="4.4" rx="1"/><rect x="385.7" y="497.4" width="4.4" height="4.4" rx="1"/><rect x="393.6" y="502.7" width="4.4" height="4.4" rx="1"/><rect x="359.4" y="509.3" width="4.4" height="4.4" rx="1"/><rect x="348.8" y="506.6" width="4.4" height="4.4" rx="1"/><rect x="396.2" y="513.2" width="4.4" height="4.4" rx="1"/><rect x="415.8" y="513.2" width="4.4" height="4.4" rx="1"/><rect x="319.8" y="595.8" width="4.4" height="4.4" rx="1"/><rect x="319.8" y="600.8" width="4.4" height="4.4" rx="1"/><rect x="319.8" y="604.8" width="4.4" height="4.4" rx="1"/><rect x="380.8" y="603.8" width="4.4" height="4.4" rx="1"/><rect x="380.8" y="608.8" width="4.4" height="4.4" rx="1"/><rect x="375.8" y="597.8" width="4.4" height="4.4" rx="1"/><rect x="409.8" y="587.8" width="4.4" height="4.4" rx="1"/><rect x="416.8" y="585.8" width="4.4" height="4.4" rx="1"/><rect x="369.8" y="601.8" width="4.4" height="4.4" rx="1"/><rect x="357.8" y="594.8" width="4.4" height="4.4" rx="1"/><rect x="397.8" y="593.8" width="4.4" height="4.4" rx="1"/><rect x="404.8" y="591.8" width="4.4" height="4.4" rx="1"/><rect x="143.8" y="551.4" width="4.4" height="4.4" rx="1"/><rect x="382.3" y="527.9" width="4.4" height="4.4" rx="1"/><rect x="381.9" y="531.3" width="4.4" height="4.4" rx="1"/><rect x="382.3" y="541.1" width="4.4" height="4.4" rx="1"/><rect x="381.7" y="553.7" width="4.4" height="4.4" rx="1"/><rect x="380.9" y="558.3" width="4.4" height="4.4" rx="1"/><rect x="381.7" y="567.9" width="4.4" height="4.4" rx="1"/><rect x="382.2" y="585.1" width="4.4" height="4.4" rx="1"/><rect x="381.7" y="587.8" width="4.4" height="4.4" rx="1"/><rect x="385.7" y="526.5" width="4.4" height="4.4" rx="1"/><rect x="384.4" y="540.2" width="4.4" height="4.4" rx="1"/><rect x="384.6" y="550.6" width="4.4" height="4.4" rx="1"/><rect x="385.4" y="553.2" width="4.4" height="4.4" rx="1"/><rect x="384.7" y="558.7" width="4.4" height="4.4" rx="1"/><rect x="385" y="561.6" width="4.4" height="4.4" rx="1"/><rect x="385.3" y="564.7" width="4.4" height="4.4" rx="1"/><rect x="388.3" y="543.9" width="4.4" height="4.4" rx="1"/><rect x="388.2" y="548.8" width="4.4" height="4.4" rx="1"/><rect x="388.3" y="552.3" width="4.4" height="4.4" rx="1"/><rect x="387.6" y="559.8" width="4.4" height="4.4" rx="1"/><rect x="388.6" y="560.9" width="4.4" height="4.4" rx="1"/><rect x="391.4" y="531.4" width="4.4" height="4.4" rx="1"/><rect x="390.9" y="540.9" width="4.4" height="4.4" rx="1"/><rect x="391.1" y="547.6" width="4.4" height="4.4" rx="1"/><rect x="391.4" y="552.6" width="4.4" height="4.4" rx="1"/><rect x="391" y="555.7" width="4.4" height="4.4" rx="1"/><rect x="390.4" y="577.2" width="4.4" height="4.4" rx="1"/><rect x="393.5" y="523.1" width="4.4" height="4.4" rx="1"/><rect x="393.4" y="526.5" width="4.4" height="4.4" rx="1"/><rect x="393" y="534" width="4.4" height="4.4" rx="1"/><rect x="393.8" y="544.2" width="4.4" height="4.4" rx="1"/><rect x="394.4" y="547.5" width="4.4" height="4.4" rx="1"/><rect x="394.2" y="550.2" width="4.4" height="4.4" rx="1"/><rect x="394.6" y="552.2" width="4.4" height="4.4" rx="1"/><rect x="393.7" y="559.4" width="4.4" height="4.4" rx="1"/><rect x="393.2" y="571" width="4.4" height="4.4" rx="1"/><rect x="394.7" y="573.5" width="4.4" height="4.4" rx="1"/><rect x="396.5" y="534.3" width="4.4" height="4.4" rx="1"/><rect x="397.2" y="539.9" width="4.4" height="4.4" rx="1"/><rect x="395.9" y="552.5" width="4.4" height="4.4" rx="1"/><rect x="396" y="563.8" width="4.4" height="4.4" rx="1"/><rect x="396.3" y="571.1" width="4.4" height="4.4" rx="1"/><rect x="399.4" y="529" width="4.4" height="4.4" rx="1"/><rect x="400.5" y="534.7" width="4.4" height="4.4" rx="1"/><rect x="400.6" y="541.3" width="4.4" height="4.4" rx="1"/><rect x="399.6" y="555.8" width="4.4" height="4.4" rx="1"/><rect x="398.8" y="573.4" width="4.4" height="4.4" rx="1"/><rect x="400.4" y="577" width="4.4" height="4.4" rx="1"/><rect x="402.3" y="547.7" width="4.4" height="4.4" rx="1"/><rect x="403.5" y="555.8" width="4.4" height="4.4" rx="1"/><rect x="403.8" y="560.8" width="4.4" height="4.4" rx="1"/><rect x="402.6" y="565.1" width="4.4" height="4.4" rx="1"/><rect x="402.9" y="568.7" width="4.4" height="4.4" rx="1"/><rect x="405.2" y="538.1" width="4.4" height="4.4" rx="1"/><rect x="404.9" y="541.3" width="4.4" height="4.4" rx="1"/><rect x="406.7" y="543.9" width="4.4" height="4.4" rx="1"/><rect x="406.1" y="546.3" width="4.4" height="4.4" rx="1"/><rect x="404.9" y="559.4" width="4.4" height="4.4" rx="1"/><rect x="405.2" y="560.9" width="4.4" height="4.4" rx="1"/><rect x="405.7" y="565.7" width="4.4" height="4.4" rx="1"/><rect x="406.5" y="570.2" width="4.4" height="4.4" rx="1"/><rect x="405.9" y="582.6" width="4.4" height="4.4" rx="1"/><rect x="408.2" y="540.3" width="4.4" height="4.4" rx="1"/><rect x="409.5" y="544.2" width="4.4" height="4.4" rx="1"/><rect x="409.2" y="555.8" width="4.4" height="4.4" rx="1"/><rect x="408.8" y="558.6" width="4.4" height="4.4" rx="1"/><rect x="407.9" y="565.8" width="4.4" height="4.4" rx="1"/><rect x="409" y="574.6" width="4.4" height="4.4" rx="1"/><rect x="408.8" y="576.8" width="4.4" height="4.4" rx="1"/><rect x="412.5" y="518.9" width="4.4" height="4.4" rx="1"/><rect x="412.5" y="543.1" width="4.4" height="4.4" rx="1"/><rect x="410.9" y="545.9" width="4.4" height="4.4" rx="1"/><rect x="411" y="551.9" width="4.4" height="4.4" rx="1"/><rect x="411" y="564.4" width="4.4" height="4.4" rx="1"/><rect x="411" y="567.2" width="4.4" height="4.4" rx="1"/><rect x="411.1" y="573.9" width="4.4" height="4.4" rx="1"/><rect x="411.9" y="579.8" width="4.4" height="4.4" rx="1"/><rect x="412" y="588.2" width="4.4" height="4.4" rx="1"/><rect x="415.6" y="520" width="4.4" height="4.4" rx="1"/><rect x="414.6" y="532.2" width="4.4" height="4.4" rx="1"/><rect x="414.4" y="543.4" width="4.4" height="4.4" rx="1"/><rect x="414.6" y="559.5" width="4.4" height="4.4" rx="1"/><rect x="415.8" y="565.3" width="4.4" height="4.4" rx="1"/><rect x="417.6" y="525.9" width="4.4" height="4.4" rx="1"/><rect x="418.4" y="527.9" width="4.4" height="4.4" rx="1"/><rect x="417.7" y="544.5" width="4.4" height="4.4" rx="1"/><rect x="417.5" y="550.2" width="4.4" height="4.4" rx="1"/><rect x="418.5" y="552.2" width="4.4" height="4.4" rx="1"/><rect x="416.8" y="557.8" width="4.4" height="4.4" rx="1"/><rect x="417.5" y="561.4" width="4.4" height="4.4" rx="1"/><rect x="418.2" y="570.3" width="4.4" height="4.4" rx="1"/><rect x="421.4" y="532.7" width="4.4" height="4.4" rx="1"/><rect x="421" y="534.1" width="4.4" height="4.4" rx="1"/><rect x="420.6" y="537.2" width="4.4" height="4.4" rx="1"/><rect x="420" y="551.9" width="4.4" height="4.4" rx="1"/><rect x="421.1" y="572.9" width="4.4" height="4.4" rx="1"/><rect x="420.1" y="578.9" width="4.4" height="4.4" rx="1"/><rect x="301.2" y="480.3" width="4.4" height="4.4" rx="1"/><rect x="361.3" y="489" width="4.4" height="4.4" rx="1"/><rect x="400.5" y="498.1" width="4.4" height="4.4" rx="1"/><rect x="344.9" y="479.8" width="4.4" height="4.4" rx="1"/><rect x="362.4" y="481.5" width="4.4" height="4.4" rx="1"/><rect x="290.6" y="452.5" width="4.4" height="4.4" rx="1"/><rect x="354.2" y="495.2" width="4.4" height="4.4" rx="1"/><rect x="239.8" y="433.5" width="4.4" height="4.4" rx="1"/><rect x="286.3" y="455.5" width="4.4" height="4.4" rx="1"/><rect x="331.5" y="485.3" width="4.4" height="4.4" rx="1"/><rect x="248.6" y="449" width="4.4" height="4.4" rx="1"/><rect x="349.5" y="487" width="4.4" height="4.4" rx="1"/><rect x="420.1" y="490.4" width="4.4" height="4.4" rx="1"/><rect x="291.2" y="463.1" width="4.4" height="4.4" rx="1"/><rect x="330.9" y="475.5" width="4.4" height="4.4" rx="1"/><rect x="310.4" y="460.1" width="4.4" height="4.4" rx="1"/><rect x="326.8" y="486.2" width="4.4" height="4.4" rx="1"/><rect x="326.1" y="487.1" width="4.4" height="4.4" rx="1"/><rect x="421.7" y="514.3" width="4.4" height="4.4" rx="1"/><rect x="311.3" y="487.6" width="4.4" height="4.4" rx="1"/><rect x="362.5" y="508" width="4.4" height="4.4" rx="1"/><rect x="265.2" y="450" width="4.4" height="4.4" rx="1"/><rect x="348.6" y="484.2" width="4.4" height="4.4" rx="1"/><rect x="319.6" y="485.4" width="4.4" height="4.4" rx="1"/><rect x="305.5" y="458.3" width="4.4" height="4.4" rx="1"/><rect x="277" y="469.1" width="4.4" height="4.4" rx="1"/><rect x="400.8" y="500.3" width="4.4" height="4.4" rx="1"/><rect x="262.1" y="457.6" width="4.4" height="4.4" rx="1"/><rect x="401.6" y="491.8" width="4.4" height="4.4" rx="1"/><rect x="249.7" y="432.1" width="4.4" height="4.4" rx="1"/><rect x="277.1" y="455.3" width="4.4" height="4.4" rx="1"/><rect x="349.1" y="507.1" width="4.4" height="4.4" rx="1"/><rect x="409.9" y="505.1" width="4.4" height="4.4" rx="1"/><rect x="264.3" y="438.1" width="4.4" height="4.4" rx="1"/><rect x="257.9" y="458" width="4.4" height="4.4" rx="1"/><rect x="357.8" y="496.2" width="4.4" height="4.4" rx="1"/><rect x="403.5" y="490.5" width="4.4" height="4.4" rx="1"/><rect x="275.8" y="467.4" width="4.4" height="4.4" rx="1"/><rect x="348.8" y="493.6" width="4.4" height="4.4" rx="1"/><rect x="293.2" y="449.7" width="4.4" height="4.4" rx="1"/><rect x="276.2" y="448.4" width="4.4" height="4.4" rx="1"/><rect x="251.3" y="425.3" width="4.4" height="4.4" rx="1"/><rect x="412.4" y="496" width="4.4" height="4.4" rx="1"/><rect x="296.7" y="458.1" width="4.4" height="4.4" rx="1"/><rect x="404" y="490.4" width="4.4" height="4.4" rx="1"/></g><g fill="#fff" opacity="0.9"><rect x="169.2" y="428.3" width="2.8" height="2.8"/><rect x="246.4" y="467.9" width="2.8" height="2.8"/><rect x="237" y="457.2" width="2.8" height="2.8"/><rect x="112.8" y="372.3" width="2.8" height="2.8"/><rect x="120.1" y="382.6" width="2.8" height="2.8"/><rect x="279.4" y="482.4" width="2.8" height="2.8"/><rect x="239.1" y="463.7" width="2.8" height="2.8"/><rect x="196.1" y="436.8" width="2.8" height="2.8"/><rect x="352.6" y="524.4" width="2.8" height="2.8"/><rect x="223.7" y="454.6" width="2.8" height="2.8"/><rect x="235.7" y="457.9" width="2.8" height="2.8"/><rect x="360.8" y="522.5" width="2.8" height="2.8"/><rect x="366.9" y="536.3" width="2.8" height="2.8"/><rect x="352" y="519.4" width="2.8" height="2.8"/><rect x="249" y="491" width="2.8" height="2.8"/><rect x="188.3" y="429.9" width="2.8" height="2.8"/><rect x="308.3" y="498.6" width="2.8" height="2.8"/><rect x="269.7" y="475.3" width="2.8" height="2.8"/><rect x="370.1" y="526.3" width="2.8" height="2.8"/><rect x="135.4" y="403.4" width="2.8" height="2.8"/><rect x="204.4" y="445.7" width="2.8" height="2.8"/><rect x="245.8" y="478.1" width="2.8" height="2.8"/><rect x="250.5" y="465.9" width="2.8" height="2.8"/><rect x="109.1" y="370.6" width="2.8" height="2.8"/><rect x="182.9" y="431.8" width="2.8" height="2.8"/><rect x="283" y="485.6" width="2.8" height="2.8"/><rect x="133.4" y="398.3" width="2.8" height="2.8"/><rect x="241.6" y="465.3" width="2.8" height="2.8"/><rect x="376.4" y="529.1" width="2.8" height="2.8"/><rect x="230.8" y="453.1" width="2.8" height="2.8"/><rect x="329.4" y="510.6" width="2.8" height="2.8"/><rect x="337.4" y="523.9" width="2.8" height="2.8"/><rect x="178.9" y="439.9" width="2.8" height="2.8"/><rect x="247.7" y="465" width="2.8" height="2.8"/><rect x="261.8" y="490.5" width="2.8" height="2.8"/><rect x="243.8" y="463.8" width="2.8" height="2.8"/><rect x="188.8" y="441.8" width="2.8" height="2.8"/><rect x="247.4" y="464" width="2.8" height="2.8"/><rect x="162.8" y="416.3" width="2.8" height="2.8"/><rect x="338.8" y="524.7" width="2.8" height="2.8"/><rect x="378.7" y="545.9" width="2.8" height="2.8"/><rect x="297.7" y="501.3" width="2.8" height="2.8"/><rect x="305" y="506.4" width="2.8" height="2.8"/><rect x="329.8" y="510.3" width="2.8" height="2.8"/><rect x="333.5" y="513.5" width="2.8" height="2.8"/><rect x="176" y="439.2" width="2.8" height="2.8"/><rect x="114.9" y="376.9" width="2.8" height="2.8"/><rect x="203.3" y="450.4" width="2.8" height="2.8"/><rect x="277.1" y="494.8" width="2.8" height="2.8"/><rect x="366" y="529.8" width="2.8" height="2.8"/><rect x="126.4" y="395.3" width="2.8" height="2.8"/><rect x="138.8" y="426.7" width="2.8" height="2.8"/><rect x="349.1" y="519.9" width="2.8" height="2.8"/><rect x="159.9" y="421.9" width="2.8" height="2.8"/><rect x="317.8" y="531.6" width="2.8" height="2.8"/><rect x="280.5" y="480.8" width="2.8" height="2.8"/><rect x="309.2" y="497.6" width="2.8" height="2.8"/><rect x="348.1" y="527.3" width="2.8" height="2.8"/><rect x="325.4" y="520.9" width="2.8" height="2.8"/><rect x="265.7" y="492.2" width="2.8" height="2.8"/><rect x="285" y="487.1" width="2.8" height="2.8"/><rect x="214.7" y="448.3" width="2.8" height="2.8"/><rect x="114.9" y="373.1" width="2.8" height="2.8"/><rect x="328.2" y="509.9" width="2.8" height="2.8"/><rect x="289" y="495.1" width="2.8" height="2.8"/><rect x="300.3" y="496.9" width="2.8" height="2.8"/><rect x="195.8" y="435.7" width="2.8" height="2.8"/><rect x="160.3" y="421" width="2.8" height="2.8"/><rect x="298" y="510.3" width="2.8" height="2.8"/><rect x="199.8" y="455" width="2.8" height="2.8"/><rect x="360.2" y="522.9" width="2.8" height="2.8"/><rect x="371.4" y="531.2" width="2.8" height="2.8"/><rect x="374.3" y="535.9" width="2.8" height="2.8"/><rect x="200.6" y="439.5" width="2.8" height="2.8"/><rect x="252.8" y="468.8" width="2.8" height="2.8"/><rect x="118.4" y="391" width="2.8" height="2.8"/><rect x="256.4" y="470.9" width="2.8" height="2.8"/><rect x="314.1" y="502" width="2.8" height="2.8"/><rect x="163.6" y="421" width="2.8" height="2.8"/><rect x="175.2" y="423.9" width="2.8" height="2.8"/><rect x="127.9" y="389.2" width="2.8" height="2.8"/><rect x="206.7" y="446.4" width="2.8" height="2.8"/><rect x="370.5" y="531.3" width="2.8" height="2.8"/><rect x="223" y="452.5" width="2.8" height="2.8"/><rect x="173.6" y="424.5" width="2.8" height="2.8"/><rect x="373.3" y="526" width="2.8" height="2.8"/><rect x="228.1" y="459.2" width="2.8" height="2.8"/><rect x="319" y="508.5" width="2.8" height="2.8"/><rect x="285.6" y="502.2" width="2.8" height="2.8"/><rect x="357.7" y="521.8" width="2.8" height="2.8"/></g><polygon fill="#4682b4" points="93.8,288.5 96.8,288.5 98.5,300 99.5,330 100,360 101.7,378.7 111,385.7 120.4,395 127.4,399.7 136.7,406.7 143.7,413.7 150.7,423 157.8,434.8 162.4,446.4 169.4,458 171.8,469.8 174,480 175,495 172,505 169.4,512.7 167,524 163,515 150.7,515 143.7,520 136.7,510.4 125,508 113.4,508 108.5,516 106.5,522 103,522 99.3,515 96,505 93.5,480 93,420 93.5,380 93.8,288.5"/><rect x="132.2" y="394.8" width="4.4" height="14.1" rx="2.2" fill="#4682b4"/><rect x="138" y="404.5" width="4.4" height="18.4" rx="2.2" fill="#4682b4"/><rect x="147.4" y="404.5" width="4.4" height="25.5" rx="2.2" fill="#4682b4"/><rect x="154.4" y="413.8" width="4.4" height="20.8" rx="2.2" fill="#4682b4"/><rect x="161.4" y="430.2" width="4.4" height="16" rx="2.2" fill="#4682b4"/><rect x="174.2" y="444.2" width="4.4" height="20.8" rx="2.2" fill="#4682b4"/><rect x="190.6" y="477.8" width="4.4" height="30.1" rx="2.2" fill="#4682b4"/><rect x="123.2" y="369.5" width="4.4" height="20.7" rx="2.2" fill="#4682b4"/><rect x="190.2" y="410.8" width="4.4" height="19.4" rx="2.2" fill="#4682b4"/><rect x="177.8" y="427.8" width="4.4" height="18.4" rx="2.2" fill="#4682b4"/><rect x="185.6" y="436.8" width="4.4" height="31.4" rx="2.2" fill="#4682b4"/><rect x="191.8" y="447.3" width="4.4" height="14.9" rx="2.2" fill="#4682b4"/><rect x="191.8" y="471.8" width="4.4" height="37.4" rx="2.2" fill="#4682b4"/><rect x="185.6" y="472.8" width="4.4" height="28.4" rx="2.2" fill="#4682b4"/><rect x="205.6" y="496.8" width="4.4" height="16.4" rx="2.2" fill="#4682b4"/><rect x="214.5" y="494.8" width="4.4" height="65.4" rx="2.2" fill="#4682b4"/><rect x="163.2" y="497.8" width="4.4" height="30.4" rx="2.2" fill="#4682b4"/><rect x="175.8" y="497.8" width="4.4" height="23.4" rx="2.2" fill="#4682b4"/><rect x="281.5" y="539.8" width="4.4" height="10.4" rx="2.2" fill="#4682b4"/><rect x="330.8" y="526.8" width="4.4" height="15.4" rx="2.2" fill="#4682b4"/><rect x="365.8" y="547.8" width="4.4" height="13.4" rx="2.2" fill="#4682b4"/><rect x="173.8" y="471.8" width="4.4" height="50.4" rx="2.2" fill="#4682b4"/><rect x="179.8" y="471.8" width="4.4" height="50.4" rx="2.2" fill="#4682b4"/><g fill="#4682b4"><circle cx="110.3" cy="385.5" r="2.3"/><circle cx="126" cy="398.9" r="2.3"/><circle cx="172.2" cy="496.8" r="2.3"/><circle cx="165.5" cy="454.5" r="2.3"/><circle cx="132.6" cy="402.7" r="2.3"/><circle cx="172.5" cy="482.5" r="2.3"/><circle cx="159.4" cy="436.7" r="2.3"/><circle cx="172.9" cy="478.2" r="2.3"/><circle cx="118.5" cy="396" r="2.3"/><circle cx="133.4" cy="402.9" r="2.3"/><circle cx="163.3" cy="447" r="2.3"/><circle cx="153" cy="429.2" r="2.3"/><circle cx="135.6" cy="403.8" r="2.3"/><circle cx="167.1" cy="461.7" r="2.3"/><circle cx="173.1" cy="474.9" r="2.3"/><circle cx="171.8" cy="462.8" r="2.3"/><circle cx="172.4" cy="462.1" r="2.3"/><circle cx="158.4" cy="434.9" r="2.3"/><circle cx="154.1" cy="430.5" r="2.3"/><circle cx="155.1" cy="429.4" r="2.3"/><circle cx="151.9" cy="427.6" r="2.3"/><circle cx="176.6" cy="494.3" r="2.3"/><circle cx="174" cy="471.3" r="2.3"/><circle cx="156.7" cy="432.1" r="2.3"/><circle cx="142.1" cy="413.9" r="2.3"/><circle cx="120.6" cy="393.6" r="2.3"/><circle cx="170.3" cy="504.4" r="2.3"/><circle cx="152.4" cy="431.1" r="2.3"/><circle cx="127.1" cy="399.2" r="2.3"/><circle cx="170" cy="500.4" r="2.3"/><circle cx="145.5" cy="414.4" r="2.3"/><circle cx="142.6" cy="410.5" r="2.3"/><circle cx="152.8" cy="427.6" r="2.3"/><circle cx="135.3" cy="407.2" r="2.3"/><circle cx="156.7" cy="437.3" r="2.3"/><circle cx="169.9" cy="478.4" r="2.3"/><circle cx="172.7" cy="466.2" r="2.3"/><circle cx="148.7" cy="424" r="2.3"/><circle cx="118.7" cy="396.2" r="2.3"/><circle cx="174.7" cy="486.9" r="2.3"/><circle cx="105.3" cy="382" r="2.3"/><circle cx="168.2" cy="460.8" r="2.3"/><circle cx="108.6" cy="384.7" r="2.3"/><circle cx="156.4" cy="427.7" r="2.3"/><circle cx="156.5" cy="428.6" r="2.3"/><circle cx="174.4" cy="497.2" r="2.3"/><circle cx="125" cy="397" r="2.3"/><circle cx="117.4" cy="392.2" r="2.3"/><circle cx="115.2" cy="393.1" r="2.3"/><circle cx="155.1" cy="435.4" r="2.3"/><circle cx="171.7" cy="458" r="2.3"/><circle cx="174.7" cy="482.3" r="2.3"/><circle cx="162.8" cy="443.9" r="2.3"/><circle cx="169" cy="470.4" r="2.3"/><circle cx="164.4" cy="451.6" r="2.3"/><circle cx="165.3" cy="449.6" r="2.3"/><circle cx="172.5" cy="473" r="2.3"/><circle cx="176.2" cy="486.5" r="2.3"/><circle cx="114.9" cy="392.5" r="2.3"/><circle cx="108.8" cy="386.4" r="2.3"/><circle cx="148.9" cy="421.8" r="2.3"/><circle cx="160.9" cy="442.8" r="2.3"/><circle cx="148.2" cy="417.7" r="2.3"/><circle cx="153.7" cy="424.8" r="2.3"/><circle cx="170.6" cy="488.5" r="2.3"/><circle cx="163.6" cy="453.9" r="2.3"/><circle cx="170.2" cy="499.3" r="2.3"/><circle cx="146.9" cy="416.1" r="2.3"/><circle cx="170.4" cy="459.8" r="2.3"/><circle cx="157.8" cy="435.8" r="2.3"/><circle cx="136.7" cy="407.4" r="2.3"/><circle cx="145.2" cy="414.7" r="2.3"/><circle cx="116.8" cy="394.4" r="2.3"/><circle cx="136.4" cy="406.7" r="2.3"/><circle cx="165.5" cy="458.5" r="2.3"/><circle cx="173.5" cy="492.8" r="2.3"/><circle cx="131.5" cy="401.4" r="2.3"/><circle cx="134.5" cy="404" r="2.3"/><circle cx="177.3" cy="490.4" r="2.3"/><circle cx="135" cy="408.2" r="2.3"/><circle cx="128.4" cy="402.2" r="2.3"/><circle cx="175.4" cy="501.5" r="2.3"/><circle cx="158.3" cy="444" r="2.3"/><circle cx="151.2" cy="427.6" r="2.3"/><circle cx="172.4" cy="467.5" r="2.3"/><circle cx="173.4" cy="484.8" r="2.3"/><circle cx="159.8" cy="441.7" r="2.3"/><circle cx="154.1" cy="430" r="2.3"/><circle cx="173.4" cy="472.5" r="2.3"/><circle cx="151.3" cy="424.1" r="2.3"/><circle cx="123.5" cy="399.6" r="2.3"/><circle cx="154.8" cy="432.2" r="2.3"/><circle cx="105.8" cy="384.4" r="2.3"/><circle cx="161.5" cy="437.5" r="2.3"/><circle cx="171.1" cy="493.1" r="2.3"/><circle cx="149.1" cy="422.8" r="2.3"/><circle cx="146.9" cy="422" r="2.3"/><circle cx="171.6" cy="459.7" r="2.3"/><circle cx="153.1" cy="431.5" r="2.3"/><circle cx="115.7" cy="394.2" r="2.3"/><circle cx="171.8" cy="483.3" r="2.3"/><circle cx="175" cy="477.7" r="2.3"/><circle cx="113.9" cy="391.3" r="2.3"/><circle cx="151.8" cy="422.6" r="2.3"/><circle cx="172" cy="479.5" r="2.3"/><circle cx="158.7" cy="441" r="2.3"/><circle cx="162.9" cy="443.7" r="2.3"/><circle cx="146.6" cy="415.3" r="2.3"/><circle cx="172.4" cy="504.2" r="2.3"/><circle cx="134.9" cy="403.1" r="2.3"/><circle cx="138.7" cy="407.1" r="2.3"/><circle cx="120.6" cy="396.4" r="2.3"/><circle cx="161.6" cy="439.7" r="2.3"/><circle cx="169.7" cy="471.9" r="2.3"/><circle cx="175.2" cy="501.2" r="2.3"/><circle cx="160.2" cy="448.8" r="2.3"/><circle cx="145.4" cy="418.6" r="2.3"/><circle cx="161.1" cy="436.5" r="2.3"/><circle cx="171.6" cy="460.3" r="2.3"/><circle cx="112.7" cy="389.6" r="2.3"/><circle cx="172.1" cy="478.7" r="2.3"/><circle cx="137.1" cy="410.7" r="2.3"/><circle cx="111.1" cy="386.9" r="2.3"/><circle cx="165.6" cy="453.7" r="2.3"/><circle cx="166.4" cy="456.3" r="2.3"/><circle cx="107.2" cy="382.3" r="2.3"/><circle cx="151.5" cy="425.3" r="2.3"/><circle cx="153.4" cy="431" r="2.3"/><circle cx="110.4" cy="387" r="2.3"/><circle cx="145.4" cy="420.2" r="2.3"/><circle cx="108.1" cy="384" r="2.3"/><circle cx="109.1" cy="382.6" r="2.3"/><circle cx="153.2" cy="428.6" r="2.3"/><circle cx="161.3" cy="451" r="2.3"/><circle cx="120.6" cy="393.7" r="2.3"/><circle cx="167.1" cy="455.1" r="2.3"/><circle cx="154" cy="426.4" r="2.3"/><circle cx="164.9" cy="447.9" r="2.3"/><circle cx="177.1" cy="492.8" r="2.3"/><circle cx="174.3" cy="478" r="2.3"/><circle cx="160.5" cy="442.3" r="2.3"/><circle cx="169.1" cy="458.2" r="2.3"/><circle cx="176.7" cy="490.6" r="2.3"/><circle cx="113.6" cy="387" r="2.3"/><circle cx="170.6" cy="463.2" r="2.3"/><circle cx="169.1" cy="502.6" r="2.3"/><circle cx="160.1" cy="444.1" r="2.3"/><circle cx="130.7" cy="402.2" r="2.3"/><circle cx="128.4" cy="399.5" r="2.3"/><circle cx="163.4" cy="446" r="2.3"/><circle cx="151.7" cy="421.5" r="2.3"/><circle cx="102.3" cy="381" r="2.3"/><circle cx="175.9" cy="479" r="2.3"/><circle cx="172.3" cy="484.9" r="2.3"/><circle cx="117.2" cy="390.9" r="2.3"/><circle cx="170.2" cy="478.7" r="2.3"/><circle cx="161.6" cy="451.3" r="2.3"/><circle cx="160.1" cy="444.7" r="2.3"/><circle cx="121.7" cy="394.1" r="2.3"/><circle cx="122.1" cy="396.8" r="2.3"/><circle cx="146.8" cy="416.9" r="2.3"/><circle cx="118.6" cy="394.8" r="2.3"/><circle cx="157.3" cy="435.4" r="2.3"/><circle cx="159.5" cy="438.7" r="2.3"/><circle cx="174.6" cy="502.5" r="2.3"/><circle cx="138.5" cy="410.8" r="2.3"/><circle cx="161.2" cy="442.1" r="2.3"/><circle cx="168.6" cy="461.9" r="2.3"/><circle cx="146.2" cy="422.2" r="2.3"/><circle cx="115.1" cy="392.3" r="2.3"/><circle cx="175.6" cy="478.7" r="2.3"/><circle cx="108.6" cy="385.6" r="2.3"/><circle cx="144.2" cy="412.7" r="2.3"/><circle cx="171" cy="501.2" r="2.3"/><circle cx="122" cy="393.8" r="2.3"/><circle cx="172.6" cy="476.7" r="2.3"/><circle cx="175.4" cy="480.8" r="2.3"/><circle cx="161.7" cy="448.8" r="2.3"/><circle cx="165.7" cy="450.9" r="2.3"/><circle cx="151.6" cy="423.8" r="2.3"/><circle cx="130.3" cy="399.8" r="2.3"/><circle cx="136.1" cy="408.5" r="2.3"/><circle cx="173.9" cy="504.9" r="2.3"/><circle cx="176.7" cy="494.6" r="2.3"/><circle cx="165" cy="456.5" r="2.3"/><circle cx="175.6" cy="478.8" r="2.3"/><circle cx="171.2" cy="493.1" r="2.3"/><circle cx="114.7" cy="388.3" r="2.3"/><circle cx="164.4" cy="445.9" r="2.3"/><circle cx="160.7" cy="440.3" r="2.3"/><circle cx="172.7" cy="469.8" r="2.3"/><circle cx="155.2" cy="429.6" r="2.3"/><circle cx="116.8" cy="389.2" r="2.3"/><circle cx="175.1" cy="477.7" r="2.3"/><circle cx="158.3" cy="442.4" r="2.3"/><circle cx="161" cy="440.9" r="2.3"/><circle cx="163.7" cy="454" r="2.3"/><circle cx="102.9" cy="380.5" r="2.3"/><circle cx="140.6" cy="413.1" r="2.3"/><circle cx="138.8" cy="409.9" r="2.3"/><circle cx="175.1" cy="473.8" r="2.3"/><circle cx="168.3" cy="471.4" r="2.3"/><circle cx="174.6" cy="497.1" r="2.3"/><circle cx="174" cy="478.8" r="2.3"/><circle cx="152" cy="427.8" r="2.3"/><circle cx="115.6" cy="389.6" r="2.3"/><circle cx="113.4" cy="387.3" r="2.3"/><circle cx="173.3" cy="503" r="2.3"/><circle cx="171.8" cy="461.8" r="2.3"/><circle cx="177.6" cy="489.7" r="2.3"/><circle cx="156.8" cy="442" r="2.3"/><circle cx="170.9" cy="462.9" r="2.3"/><circle cx="174.8" cy="496.5" r="2.3"/><circle cx="150.4" cy="429.1" r="2.3"/><circle cx="175.2" cy="492.1" r="2.3"/><circle cx="171.8" cy="460.1" r="2.3"/><circle cx="177.2" cy="484.3" r="2.3"/><circle cx="163.1" cy="442.4" r="2.3"/><circle cx="153.1" cy="433.6" r="2.3"/><circle cx="149.8" cy="424" r="2.3"/><circle cx="154.8" cy="433.3" r="2.3"/><circle cx="169.2" cy="473.2" r="2.3"/><circle cx="148.1" cy="421.2" r="2.3"/><circle cx="123.2" cy="396.8" r="2.3"/><circle cx="160.3" cy="437.1" r="2.3"/><circle cx="155.2" cy="425.8" r="2.3"/><circle cx="136" cy="406.4" r="2.3"/><circle cx="136.6" cy="410.5" r="2.3"/><circle cx="118.4" cy="520.2" r="2.3"/><circle cx="117.7" cy="513.3" r="2.3"/><circle cx="134.2" cy="509.5" r="2.3"/><circle cx="135" cy="506.1" r="2.3"/><circle cx="121.8" cy="509.8" r="2.3"/><circle cx="154.9" cy="518.1" r="2.3"/><circle cx="146.8" cy="515.1" r="2.3"/><circle cx="158.5" cy="517.6" r="2.3"/><circle cx="100.9" cy="507.2" r="2.3"/><circle cx="150.1" cy="519.3" r="2.3"/><circle cx="167.2" cy="518.2" r="2.3"/><circle cx="108.2" cy="514.6" r="2.3"/><circle cx="141.3" cy="515.3" r="2.3"/><circle cx="106.5" cy="521.5" r="2.3"/><circle cx="133.2" cy="509.6" r="2.3"/><circle cx="166.6" cy="511.5" r="2.3"/><circle cx="102" cy="516.4" r="2.3"/><circle cx="115.4" cy="508.7" r="2.3"/><circle cx="118.5" cy="515.3" r="2.3"/><circle cx="119.7" cy="516.3" r="2.3"/><circle cx="161.3" cy="521.8" r="2.3"/><circle cx="160.1" cy="520.7" r="2.3"/><circle cx="115" cy="519" r="2.3"/><circle cx="103.4" cy="514.9" r="2.3"/><circle cx="102.4" cy="506.7" r="2.3"/><circle cx="164.4" cy="507.2" r="2.3"/><circle cx="147.9" cy="514" r="2.3"/><circle cx="97.1" cy="518.5" r="2.3"/><circle cx="101.3" cy="520.1" r="2.3"/><circle cx="155.1" cy="513.4" r="2.3"/><circle cx="128.7" cy="505.5" r="2.3"/><circle cx="146.7" cy="505.7" r="2.3"/><circle cx="134.4" cy="520.7" r="2.3"/><circle cx="145.1" cy="507" r="2.3"/><circle cx="148.2" cy="516.9" r="2.3"/><circle cx="120.4" cy="518.1" r="2.3"/><circle cx="138.1" cy="512" r="2.3"/><circle cx="134.3" cy="509.7" r="2.3"/><circle cx="117.4" cy="520.1" r="2.3"/><circle cx="121.8" cy="518.1" r="2.3"/><circle cx="123" cy="508.2" r="2.3"/><circle cx="97.1" cy="521.4" r="2.3"/><circle cx="150.4" cy="521.7" r="2.3"/><circle cx="138.8" cy="506.1" r="2.3"/><circle cx="108.6" cy="505.8" r="2.3"/><circle cx="140.5" cy="515.6" r="2.3"/><circle cx="164.8" cy="510" r="2.3"/><circle cx="113.6" cy="508.8" r="2.3"/><circle cx="107.5" cy="505.5" r="2.3"/><circle cx="132.1" cy="512.1" r="2.3"/><circle cx="123.1" cy="521.2" r="2.3"/><circle cx="119.3" cy="519.1" r="2.3"/><circle cx="134.8" cy="506.7" r="2.3"/><circle cx="99.1" cy="515.4" r="2.3"/><circle cx="159.1" cy="505.9" r="2.3"/><circle cx="146.8" cy="509" r="2.3"/><circle cx="145.8" cy="519.2" r="2.3"/><circle cx="148.6" cy="509.2" r="2.3"/><circle cx="108.1" cy="521.4" r="2.3"/><circle cx="162" cy="520.7" r="2.3"/><circle cx="135.4" cy="505.9" r="2.3"/><circle cx="123.2" cy="520.5" r="2.3"/><circle cx="101.8" cy="510" r="2.3"/><circle cx="100" cy="520" r="2.3"/><circle cx="122.1" cy="506.4" r="2.3"/><circle cx="122.3" cy="508.5" r="2.3"/><circle cx="127.8" cy="515.5" r="2.3"/><circle cx="143.7" cy="506.6" r="2.3"/><circle cx="134.9" cy="506" r="2.3"/><circle cx="128.3" cy="518.7" r="2.3"/><circle cx="115.6" cy="519" r="2.3"/><circle cx="114.3" cy="511.7" r="2.3"/><circle cx="153.3" cy="505.1" r="2.3"/><circle cx="136.3" cy="514.1" r="2.3"/><circle cx="147.8" cy="521.1" r="2.3"/><circle cx="146.3" cy="508.8" r="2.3"/><circle cx="111.1" cy="513.2" r="2.3"/><circle cx="117" cy="514.4" r="2.3"/><circle cx="103.4" cy="516.8" r="2.3"/><circle cx="126.6" cy="505.8" r="2.3"/><circle cx="105.6" cy="520.9" r="2.3"/><circle cx="157.3" cy="520" r="2.3"/><circle cx="124.7" cy="521.7" r="2.3"/><circle cx="109.1" cy="517.3" r="2.3"/><circle cx="163.9" cy="508.5" r="2.3"/><circle cx="97.3" cy="507.1" r="2.3"/><circle cx="102.9" cy="518.7" r="2.3"/><circle cx="140" cy="513.1" r="2.3"/><circle cx="105.1" cy="515.9" r="2.3"/><circle cx="106.7" cy="507.3" r="2.3"/><circle cx="139.2" cy="515.9" r="2.3"/><circle cx="153.9" cy="519.1" r="2.3"/><circle cx="106.7" cy="510.2" r="2.3"/><circle cx="107.2" cy="513.4" r="2.3"/><circle cx="99" cy="519.7" r="2.3"/><circle cx="145.4" cy="518.7" r="2.3"/><circle cx="131.7" cy="520.5" r="2.3"/><circle cx="156.3" cy="519.1" r="2.3"/><circle cx="154.2" cy="508.7" r="2.3"/><circle cx="121.5" cy="506" r="2.3"/><circle cx="151.3" cy="513" r="2.3"/><circle cx="167" cy="509.9" r="2.3"/><circle cx="127.6" cy="519.7" r="2.3"/><circle cx="165.8" cy="517.9" r="2.3"/><circle cx="159.7" cy="520.7" r="2.3"/><circle cx="116.3" cy="515.5" r="2.3"/><circle cx="101.5" cy="516.5" r="2.3"/><circle cx="164.6" cy="513.6" r="2.3"/><circle cx="107.4" cy="514.7" r="2.3"/><circle cx="101.6" cy="512.8" r="2.3"/><circle cx="102.7" cy="512.1" r="2.3"/><circle cx="155.1" cy="517.6" r="2.3"/><circle cx="157.6" cy="512.8" r="2.3"/><circle cx="128.3" cy="505.9" r="2.3"/><circle cx="153" cy="514.7" r="2.3"/><circle cx="126" cy="507.5" r="2.3"/><circle cx="129.6" cy="506.1" r="2.3"/><circle cx="105.5" cy="506.3" r="2.3"/><circle cx="127.2" cy="507.3" r="2.3"/><circle cx="155.7" cy="515.4" r="2.3"/><circle cx="99.4" cy="368" r="2.3"/><circle cx="96.5" cy="304.4" r="2.3"/><circle cx="99.4" cy="365.6" r="2.3"/><circle cx="99.1" cy="348.2" r="2.3"/><circle cx="95.9" cy="294.3" r="2.3"/><circle cx="99.5" cy="328.8" r="2.3"/><circle cx="99.7" cy="374.9" r="2.3"/><circle cx="95.8" cy="313.4" r="2.3"/><circle cx="98" cy="340.3" r="2.3"/><circle cx="98.2" cy="373.8" r="2.3"/><circle cx="95.6" cy="308.4" r="2.3"/><circle cx="98.3" cy="292.6" r="2.3"/><circle cx="97.8" cy="368.4" r="2.3"/><circle cx="97.3" cy="291.4" r="2.3"/><circle cx="98.1" cy="312.2" r="2.3"/><circle cx="100.3" cy="372.1" r="2.3"/><circle cx="98.1" cy="315.2" r="2.3"/><circle cx="98.8" cy="316.1" r="2.3"/><circle cx="99.1" cy="313.2" r="2.3"/><circle cx="100.3" cy="351.1" r="2.3"/><circle cx="99.7" cy="321.1" r="2.3"/><circle cx="97.5" cy="342.4" r="2.3"/><circle cx="97.9" cy="348.2" r="2.3"/><circle cx="95.4" cy="300.2" r="2.3"/><circle cx="97.5" cy="344.9" r="2.3"/><circle cx="98.4" cy="299" r="2.3"/><circle cx="98.4" cy="302.8" r="2.3"/><circle cx="97.1" cy="314.6" r="2.3"/><circle cx="100.6" cy="373.9" r="2.3"/><circle cx="101" cy="365.1" r="2.3"/><circle cx="104.5" cy="526" r="2.3"/><circle cx="105" cy="531" r="2.3"/><circle cx="101.5" cy="524.5" r="2.3"/><circle cx="150.3" cy="403" r="2.3"/><circle cx="201.7" cy="484.7" r="2.3"/><circle cx="191.3" cy="534.4" r="2.3"/><circle cx="214" cy="427.2" r="2.3"/><circle cx="197" cy="402" r="2.3"/><circle cx="197" cy="412.8" r="2.3"/><circle cx="227.9" cy="541.7" r="2.3"/><circle cx="292.9" cy="545.8" r="2.3"/><circle cx="333" cy="520" r="2.3"/><circle cx="201.9" cy="459" r="2.3"/><circle cx="201.9" cy="464" r="2.3"/><circle cx="201.9" cy="469" r="2.3"/><circle cx="201.9" cy="474" r="2.3"/><circle cx="201.9" cy="479" r="2.3"/><circle cx="201.9" cy="484" r="2.3"/></g><g fill="#b0c4de"><rect x="94.9" y="300.9" width="4.2" height="4.2" rx="1"/><rect x="95.4" y="305.9" width="4.2" height="4.2" rx="1"/><rect x="94.4" y="309.9" width="4.2" height="4.2" rx="1"/><rect x="95.4" y="328.9" width="4.2" height="4.2" rx="1"/><rect x="95.9" y="332.9" width="4.2" height="4.2" rx="1"/><rect x="94.9" y="348.9" width="4.2" height="4.2" rx="1"/><rect x="96.9" y="352.9" width="4.2" height="4.2" rx="1"/><rect x="95.9" y="356.9" width="4.2" height="4.2" rx="1"/><rect x="97.9" y="359.9" width="4.2" height="4.2" rx="1"/><rect x="93.9" y="367.9" width="4.2" height="4.2" rx="1"/></g><circle cx="285" cy="452.5" r="3.4" fill="#000"/><line x1="60.3" y1="287" x2="60.3" y2="651.8" stroke="#5a5a5a" stroke-width="1.3"/><line x1="59.8" y1="287.4" x2="426.2" y2="287.4" stroke="#262626" stroke-width="1.1"/><line x1="425.7" y1="287" x2="425.7" y2="651.8" stroke="#262626" stroke-width="1.1"/><line x1="59.8" y1="651.3" x2="426.2" y2="651.3" stroke="#262626" stroke-width="1.1"/><line x1="57" y1="287.3" x2="60.5" y2="287.3" stroke="#333" stroke-width="0.9"/><line x1="57" y1="348" x2="60.5" y2="348" stroke="#333" stroke-width="0.9"/><line x1="57" y1="408.6" x2="60.5" y2="408.6" stroke="#333" stroke-width="0.9"/><line x1="57" y1="469.2" x2="60.5" y2="469.2" stroke="#333" stroke-width="0.9"/><line x1="57" y1="529.9" x2="60.5" y2="529.9" stroke="#333" stroke-width="0.9"/><line x1="57" y1="590.6" x2="60.5" y2="590.6" stroke="#333" stroke-width="0.9"/><line x1="57" y1="651.2" x2="60.5" y2="651.2" stroke="#333" stroke-width="0.9"/><line x1="94.8" y1="651.2" x2="94.8" y2="654.7" stroke="#333" stroke-width="0.9"/><line x1="161" y1="651.2" x2="161" y2="654.7" stroke="#333" stroke-width="0.9"/><line x1="227.2" y1="651.2" x2="227.2" y2="654.7" stroke="#333" stroke-width="0.9"/><line x1="293.3" y1="651.2" x2="293.3" y2="654.7" stroke="#333" stroke-width="0.9"/><line x1="359.5" y1="651.2" x2="359.5" y2="654.7" stroke="#333" stroke-width="0.9"/><line x1="425.7" y1="651.2" x2="425.7" y2="654.7" stroke="#333" stroke-width="0.9"/><rect x="362.5" y="293.8" width="57.8" height="30" rx="2" fill="#fff" fill-opacity="0.8" stroke="#ccc" stroke-width="0.8"/><rect x="364.3" y="296.1" width="22.2" height="9.5" fill="#b0c4de"/><rect x="364.3" y="310.8" width="22.2" height="9.6" fill="#4682b4"/><g font-family="Liberation Sans, sans-serif" font-size="9.6" fill="#262626" stroke="#262626" stroke-width="0.3"><text x="52.3" y="290.7" text-anchor="end">10</text><text x="52.3" y="351.4" text-anchor="end">5</text><text x="52.3" y="412" text-anchor="end">0</text><text x="52.3" y="472.6" text-anchor="end">−5</text><text x="52.3" y="533.3" text-anchor="end">−10</text><text x="52.3" y="594" text-anchor="end">−15</text><text x="52.3" y="654.6" text-anchor="end">−20</text><text x="94.8" y="665" text-anchor="middle">0</text><text x="161" y="665" text-anchor="middle">200</text><text x="227.2" y="665" text-anchor="middle">400</text><text x="293.3" y="665" text-anchor="middle">600</text><text x="359.5" y="665" text-anchor="middle">800</text><text x="425.7" y="665" text-anchor="middle">1000</text><text x="392.3" y="303.6" font-size="9.4">X-ray</text><text x="392.3" y="318.2" font-size="9.4">NMR</text><text x="242.4" y="679" font-size="10.5" text-anchor="middle">Number of residues</text><text transform="translate(25.6,470.7) rotate(-90)" font-size="10" text-anchor="middle">Z-score</text></g><line x1="0" y1="26.5" x2="231" y2="26.5" stroke="#f3f3f3" stroke-width="1"/><line x1="231" y1="21.5" x2="486" y2="21.5" stroke="#f5f5f5" stroke-width="1"/><line x1="485.5" y1="21.5" x2="485.5" y2="176.3" stroke="#f7f7f7" stroke-width="1"/><line x1="231" y1="176.3" x2="486" y2="176.3" stroke="#f7f7f7" stroke-width="1"/><text transform="translate(8.6,42.1) scale(0.93,1)" font-family="Liberation Sans, sans-serif" font-size="12" fill="#111" stroke="#111" stroke-width="0.2">A</text><text transform="translate(253.9,41.9) scale(0.8,1)" font-family="Liberation Sans, sans-serif" font-size="12" fill="#111" stroke="#111" stroke-width="0.2">B</text><text transform="translate(479,37.3) scale(0.8,1)" font-family="Liberation Sans, sans-serif" font-size="12.6" fill="#111" stroke="#111" stroke-width="0.2">C</text><text x="-0.3" y="213.9" font-family="Liberation Serif, serif" font-size="14.8" fill="#111" stroke="#111" stroke-width="0.35">D</text><g font-family="Liberation Serif, serif" fill="#333" stroke="#333" stroke-width="0.08"><text x="583.3" y="7.7" font-size="10" fill="#222">ckf4</text><text x="510.8" y="12.3" font-size="5.6" text-anchor="end">180</text><text x="510.8" y="32.2" font-size="5.6" text-anchor="end">135</text><text x="510.8" y="52.2" font-size="5.6" text-anchor="end">90</text><text x="510.8" y="72.2" font-size="5.6" text-anchor="end">45</text><text x="510.8" y="92.1" font-size="5.6" text-anchor="end">0</text><text x="510.8" y="112.1" font-size="5.6" text-anchor="end">−45</text><text x="510.8" y="132" font-size="5.6" text-anchor="end">−90</text><text x="510.8" y="152" font-size="5.6" text-anchor="end">−135</text><text x="512.5" y="177" font-size="5.8" text-anchor="middle">−180</text><text x="532.7" y="177" font-size="5.8" text-anchor="middle">−135</text><text x="552.9" y="177" font-size="5.8" text-anchor="middle">−90</text><text x="573.1" y="177" font-size="5.8" text-anchor="middle">−45</text><text x="593.2" y="177" font-size="5.8" text-anchor="middle">0</text><text x="613.4" y="177" font-size="5.8" text-anchor="middle">45</text><text x="633.6" y="177" font-size="5.8" text-anchor="middle">90</text><text x="653.8" y="177" font-size="5.8" text-anchor="middle">135</text><text x="674" y="177" font-size="5.8" text-anchor="middle">180</text><text x="593" y="185.2" font-size="6.2" text-anchor="middle">Phi (degrees)</text><text transform="translate(494.6,90.5) rotate(-90)" font-size="6.2" text-anchor="middle">Psi (degrees)</text><line x1="511" y1="10.4" x2="512.5" y2="10.4" stroke="#555" stroke-width="0.5"/><line x1="512.5" y1="170" x2="512.5" y2="171.5" stroke="#555" stroke-width="0.5"/><line x1="511" y1="30.4" x2="512.5" y2="30.4" stroke="#555" stroke-width="0.5"/><line x1="532.7" y1="170" x2="532.7" y2="171.5" stroke="#555" stroke-width="0.5"/><line x1="511" y1="50.3" x2="512.5" y2="50.3" stroke="#555" stroke-width="0.5"/><line x1="552.9" y1="170" x2="552.9" y2="171.5" stroke="#555" stroke-width="0.5"/><line x1="511" y1="70.2" x2="512.5" y2="70.2" stroke="#555" stroke-width="0.5"/><line x1="573.1" y1="170" x2="573.1" y2="171.5" stroke="#555" stroke-width="0.5"/><line x1="511" y1="90.2" x2="512.5" y2="90.2" stroke="#555" stroke-width="0.5"/><line x1="593.2" y1="170" x2="593.2" y2="171.5" stroke="#555" stroke-width="0.5"/><line x1="511" y1="110.2" x2="512.5" y2="110.2" stroke="#555" stroke-width="0.5"/><line x1="613.4" y1="170" x2="613.4" y2="171.5" stroke="#555" stroke-width="0.5"/><line x1="511" y1="130.1" x2="512.5" y2="130.1" stroke="#555" stroke-width="0.5"/><line x1="633.6" y1="170" x2="633.6" y2="171.5" stroke="#555" stroke-width="0.5"/><line x1="511" y1="150.1" x2="512.5" y2="150.1" stroke="#555" stroke-width="0.5"/><line x1="653.8" y1="170" x2="653.8" y2="171.5" stroke="#555" stroke-width="0.5"/><line x1="511" y1="170" x2="512.5" y2="170" stroke="#555" stroke-width="0.5"/><line x1="674" y1="170" x2="674" y2="171.5" stroke="#555" stroke-width="0.5"/><text x="514.8" y="34.5" font-size="5" fill="#222">b</text><text x="519.5" y="78.5" font-size="5" fill="#222">a</text><text x="541.8" y="87.8" font-size="5" fill="#222">A</text><text x="519.5" y="158" font-size="5" fill="#222">b</text><text x="516.5" y="15.5" font-size="5" fill="#222">B</text></g><g font-family="Liberation Serif, serif" font-size="4.3" fill="#f01010" stroke="#f01010" stroke-width="0.05" opacity="0.85"><text x="615.5" y="9.4">ARG 87 (B)</text><text x="613.6" y="27">SER 450 (B)</text><text x="601" y="30.5">LEU 27 (B)</text><text x="609.6" y="34.7">ALA 100 (B)</text><text x="607" y="38">LEU 105 (B)</text><text x="595" y="47.5">TYR 500 555 (B)</text><text x="616" y="52.9">LYS 181 (B)</text><text x="595" y="56.9">LEU 235 (B)</text><text x="615" y="62.2">GLN 281 (B)</text><text x="623.5" y="71.5">LYS 106 (B)</text><text x="650.7" y="69.9">TRP 23 (B)</text><text x="666" y="91.1">LYS 1 (B)</text><text x="615.5" y="94">SER 300 (B)</text><text x="663" y="101.7">CYS 40 (B)</text><text x="663.6" y="108.7">LEU 126 (B)</text><text x="608.6" y="99">PHE 279 (B)</text><text x="615" y="107.5">ASN 390 (B)</text><text x="615" y="112.3">THR 580 (B)</text><text x="633.7" y="114.5">ALA 574 (B)</text><text x="610" y="119.7">TYR 290 (B)</text><text x="611" y="123.3">VAL 330 (B)</text><text x="594" y="127.9">ALA 118 (B)</text><text x="610.5" y="137.5">ARG 38 (B)</text><text x="661.6" y="155.8">LEU 71 (B)</text><text x="604" y="164.8">VAL 115 (B)</text><text x="510" y="110.5">VAL 28 (B)</text><text x="505" y="115.4">GLU 310 (B)</text><text x="505" y="120">LYS 128 (B)</text><text x="517.6" y="124.5">ALA 67 (B)</text><text x="515.6" y="129.9">VAL 17 (B)</text><text x="518" y="136.5">ILE 135 (B)</text><text x="505" y="147.8">GLU 297 (B)</text><text x="538.8" y="145.2">SER 12</text><text x="544.8" y="142.5">PRO 310 (B)</text><text x="552.7" y="147.8">ASN 298 (B)</text><text x="550" y="150.5">PRO 299 (B)</text><text x="547.4" y="155.1">PRO 330 (B)</text><text x="595" y="41.5">TYR 99 (B)</text></g><g fill="#e00000"><rect x="624.6" y="10.1" width="1.8" height="1.8"/><rect x="621.1" y="22.6" width="1.8" height="1.8"/><rect x="609.1" y="26.6" width="1.8" height="1.8"/><rect x="614.1" y="30.1" width="1.8" height="1.8"/><rect x="609.6" y="32.9" width="1.8" height="1.8"/><rect x="604.1" y="42.9" width="1.8" height="1.8"/><rect x="626.1" y="47.9" width="1.8" height="1.8"/><rect x="598.1" y="50.1" width="1.8" height="1.8"/><rect x="618.6" y="55.6" width="1.8" height="1.8"/><rect x="619.1" y="66.1" width="1.8" height="1.8"/><rect x="658.1" y="65.1" width="1.8" height="1.8"/><rect x="673.1" y="88.6" width="1.8" height="1.8"/><rect x="621.1" y="90.1" width="1.8" height="1.8"/><rect x="670.6" y="96.6" width="1.8" height="1.8"/><rect x="671.6" y="104.1" width="1.8" height="1.8"/><rect x="613.1" y="95.1" width="1.8" height="1.8"/><rect x="625.1" y="103.1" width="1.8" height="1.8"/><rect x="625.1" y="108.1" width="1.8" height="1.8"/><rect x="639.1" y="109.6" width="1.8" height="1.8"/><rect x="622.1" y="116.1" width="1.8" height="1.8"/><rect x="627.1" y="120.1" width="1.8" height="1.8"/><rect x="601.1" y="124.6" width="1.8" height="1.8"/><rect x="619.1" y="137.1" width="1.8" height="1.8"/><rect x="670.1" y="151.6" width="1.8" height="1.8"/><rect x="615.1" y="166.1" width="1.8" height="1.8"/><rect x="511.1" y="109.1" width="1.8" height="1.8"/><rect x="509.1" y="112.6" width="1.8" height="1.8"/><rect x="520.1" y="118.6" width="1.8" height="1.8"/><rect x="529.1" y="119.1" width="1.8" height="1.8"/><rect x="527.1" y="127.1" width="1.8" height="1.8"/><rect x="534.1" y="132.1" width="1.8" height="1.8"/><rect x="511.1" y="146.1" width="1.8" height="1.8"/><rect x="544.1" y="143.1" width="1.8" height="1.8"/><rect x="555.1" y="145.1" width="1.8" height="1.8"/><rect x="565.1" y="148.1" width="1.8" height="1.8"/><rect x="560.1" y="153.1" width="1.8" height="1.8"/></g></svg>
</body></html>
